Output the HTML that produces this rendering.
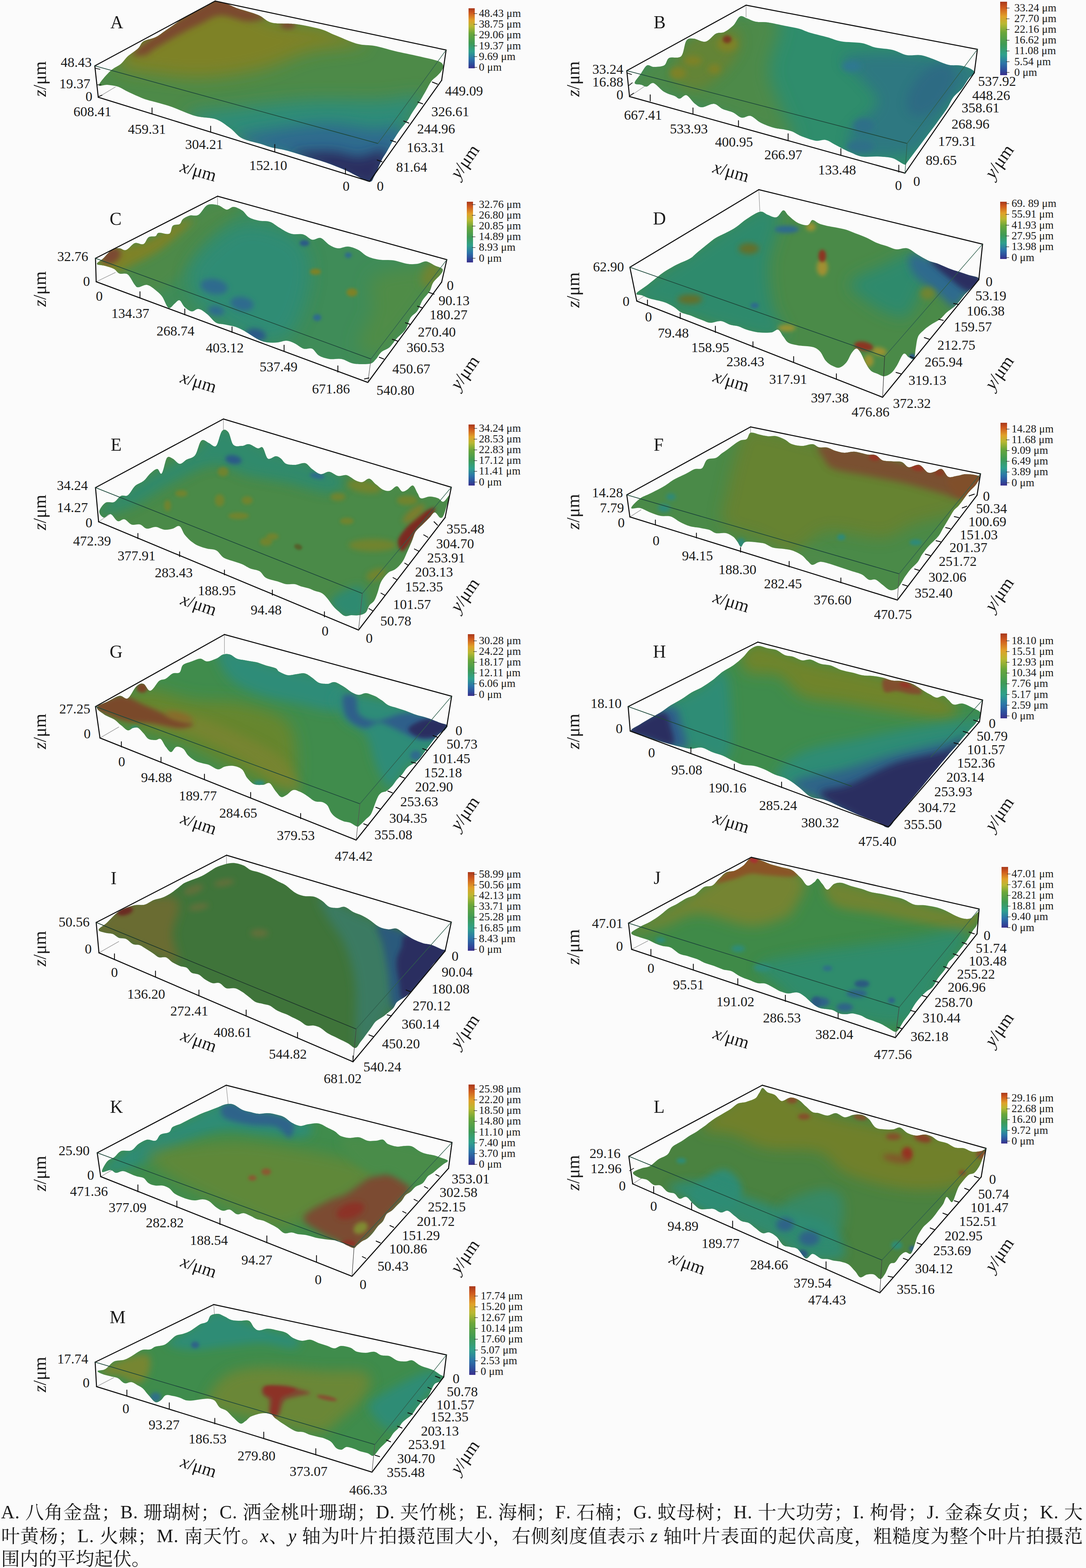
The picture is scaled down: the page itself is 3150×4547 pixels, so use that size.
<!DOCTYPE html>
<html><head><meta charset="utf-8"><title>Figure</title>
<style>html,body{margin:0;padding:0;background:#fbfbfb;}body{width:3150px;height:4547px;overflow:hidden;}svg{display:block;font-family:"Liberation Serif",serif;fill:#1a1a1a;} .it{font-style:italic;}</style></head><body>
<svg width="3150" height="4547" viewBox="0 0 3150 4547">
<defs>
<filter id="b3" x="-50%" y="-50%" width="200%" height="200%"><feGaussianBlur stdDeviation="3"/></filter>
<filter id="b4" x="-50%" y="-50%" width="200%" height="200%"><feGaussianBlur stdDeviation="4"/></filter>
<filter id="b5" x="-50%" y="-50%" width="200%" height="200%"><feGaussianBlur stdDeviation="5"/></filter>
<filter id="b6" x="-50%" y="-50%" width="200%" height="200%"><feGaussianBlur stdDeviation="6"/></filter>
<filter id="b7" x="-50%" y="-50%" width="200%" height="200%"><feGaussianBlur stdDeviation="7"/></filter>
<filter id="b8" x="-50%" y="-50%" width="200%" height="200%"><feGaussianBlur stdDeviation="8"/></filter>
<filter id="b9" x="-50%" y="-50%" width="200%" height="200%"><feGaussianBlur stdDeviation="9"/></filter>
<filter id="b10" x="-50%" y="-50%" width="200%" height="200%"><feGaussianBlur stdDeviation="10"/></filter>
<filter id="b12" x="-50%" y="-50%" width="200%" height="200%"><feGaussianBlur stdDeviation="12"/></filter>
<filter id="b14" x="-50%" y="-50%" width="200%" height="200%"><feGaussianBlur stdDeviation="14"/></filter>
<filter id="b16" x="-50%" y="-50%" width="200%" height="200%"><feGaussianBlur stdDeviation="16"/></filter>
<filter id="b18" x="-50%" y="-50%" width="200%" height="200%"><feGaussianBlur stdDeviation="18"/></filter>
<filter id="b20" x="-50%" y="-50%" width="200%" height="200%"><feGaussianBlur stdDeviation="20"/></filter>
<filter id="b22" x="-50%" y="-50%" width="200%" height="200%"><feGaussianBlur stdDeviation="22"/></filter>
<filter id="b24" x="-50%" y="-50%" width="200%" height="200%"><feGaussianBlur stdDeviation="24"/></filter>
<linearGradient id="cb" x1="0" y1="0" x2="0" y2="1"><stop offset="0" stop-color="#a8381c"/><stop offset="0.08" stop-color="#cf5a1e"/><stop offset="0.2" stop-color="#e0a12a"/><stop offset="0.3" stop-color="#b9b832"/><stop offset="0.42" stop-color="#6aa63a"/><stop offset="0.58" stop-color="#3f9a55"/><stop offset="0.72" stop-color="#2fa08c"/><stop offset="0.84" stop-color="#2c74a8"/><stop offset="0.94" stop-color="#2f4a9a"/><stop offset="1" stop-color="#3a2f8c"/></linearGradient>
</defs>
<rect width="3150" height="4547" fill="#fbfbfb"/>
<g id="pA">
<line x1="285" y1="282" x2="335" y2="252" stroke="#999" stroke-width="1.5"/>
<clipPath id="cA"><path d="M287 246C289 239 310 215 321 205C332 195 343 192 351 185C359 178 363 170 371 163C379 156 394 147 401 140C408 133 408 125 416 120C424 115 440 113 451 108C462 103 469 96 481 88C493 80 511 67 521 60C531 53 532 52 539 48C546 44 556 40 566 35C576 30 586 25 596 20C606 15 613 4 624 3C635 2 649 8 660 12C671 16 676 20 691 25C706 30 734 37 750 44C766 51 771 62 789 66C807 70 836 67 859 70C882 73 909 79 928 84C947 89 954 95 972 102C990 109 1017 122 1036 127C1055 132 1068 130 1086 133C1104 136 1124 143 1145 148C1166 153 1193 158 1214 163C1235 168 1261 173 1273 178C1285 183 1285 188 1286 192C1287 196 1284 200 1281 205C1278 210 1273 215 1268 220C1263 225 1257 228 1251 236C1245 244 1237 261 1231 271C1225 281 1222 287 1216 296C1210 305 1202 317 1196 326C1190 335 1187 343 1181 351C1175 359 1168 367 1161 376C1154 385 1148 395 1141 406C1134 417 1127 431 1121 441C1115 451 1112 454 1106 466C1100 478 1092 500 1086 510C1080 520 1081 527 1072 527C1063 527 1043 514 1031 508C1019 502 1015 499 1001 493C987 487 965 478 945 471C925 464 899 457 880 451C861 445 845 440 830 436C815 432 803 431 790 428C777 425 767 420 752 416C737 412 716 408 702 401C688 394 680 380 667 371C654 362 644 352 627 346C610 340 587 342 566 336C545 330 520 318 501 311C482 304 465 300 451 296C437 292 429 291 416 286C403 281 384 272 371 266C358 260 351 254 341 251C331 248 320 247 311 246C302 245 285 253 287 246Z"/></clipPath>
<path d="M287 246C289 239 310 215 321 205C332 195 343 192 351 185C359 178 363 170 371 163C379 156 394 147 401 140C408 133 408 125 416 120C424 115 440 113 451 108C462 103 469 96 481 88C493 80 511 67 521 60C531 53 532 52 539 48C546 44 556 40 566 35C576 30 586 25 596 20C606 15 613 4 624 3C635 2 649 8 660 12C671 16 676 20 691 25C706 30 734 37 750 44C766 51 771 62 789 66C807 70 836 67 859 70C882 73 909 79 928 84C947 89 954 95 972 102C990 109 1017 122 1036 127C1055 132 1068 130 1086 133C1104 136 1124 143 1145 148C1166 153 1193 158 1214 163C1235 168 1261 173 1273 178C1285 183 1285 188 1286 192C1287 196 1284 200 1281 205C1278 210 1273 215 1268 220C1263 225 1257 228 1251 236C1245 244 1237 261 1231 271C1225 281 1222 287 1216 296C1210 305 1202 317 1196 326C1190 335 1187 343 1181 351C1175 359 1168 367 1161 376C1154 385 1148 395 1141 406C1134 417 1127 431 1121 441C1115 451 1112 454 1106 466C1100 478 1092 500 1086 510C1080 520 1081 527 1072 527C1063 527 1043 514 1031 508C1019 502 1015 499 1001 493C987 487 965 478 945 471C925 464 899 457 880 451C861 445 845 440 830 436C815 432 803 431 790 428C777 425 767 420 752 416C737 412 716 408 702 401C688 394 680 380 667 371C654 362 644 352 627 346C610 340 587 342 566 336C545 330 520 318 501 311C482 304 465 300 451 296C437 292 429 291 416 286C403 281 384 272 371 266C358 260 351 254 341 251C331 248 320 247 311 246C302 245 285 253 287 246Z" fill="#4d8a48"/>
<g clip-path="url(#cA)">
<path d="M340 190C335 172 373 142 420 110C467 78 561 8 624 0C687 -8 747 47 800 60C853 73 897 69 940 80C983 91 1067 113 1060 125C1053 137 950 138 900 150C850 162 810 188 760 200C710 212 652 222 600 225C548 228 493 221 450 215C407 209 345 208 340 190Z" fill="#7e8228" filter="url(#b24)"/>
<path d="M398 142C432 114 574 15 624 -5C674 -25 676 11 700 20C724 29 767 41 770 48C773 55 742 62 720 62C698 62 663 44 640 45C617 46 600 61 580 70C560 79 542 88 520 100C498 112 467 130 450 140C433 150 429 160 420 160C411 160 364 170 398 142Z" fill="#7c4a2e" filter="url(#b9)"/>
<ellipse cx="835" cy="72" rx="22" ry="12" transform="rotate(0 835 72)" fill="#7c4a30" filter="url(#b8)"/>
<path d="M540 335C540 318 640 318 700 310C760 302 833 293 900 290C967 287 1045 292 1100 290C1155 288 1217 268 1230 280C1243 292 1205 318 1180 360C1155 402 1160 522 1080 530C1000 538 790 442 700 410C610 378 540 352 540 335Z" fill="#2e8c78" filter="url(#b24)"/>
<path d="M690 405C673 389 757 382 800 375C843 368 903 360 950 360C997 360 1043 372 1080 375C1117 378 1170 352 1170 380C1170 408 1125 525 1080 540C1035 555 965 492 900 470C835 448 707 421 690 405Z" fill="#2f6a8e" filter="url(#b20)"/>
<path d="M850 450C847 440 928 439 960 440C992 441 1013 455 1040 455C1067 455 1113 426 1120 440C1127 454 1103 530 1080 540C1057 550 1018 515 980 500C942 485 853 460 850 450Z" fill="#2b2f60" filter="url(#b16)"/>
</g>
<line x1="275" y1="191" x2="624" y2="3" stroke="#111" stroke-width="3" stroke-linecap="round"/>
<line x1="624" y1="3" x2="1294" y2="145" stroke="#111" stroke-width="3" stroke-linecap="round"/>
<line x1="1294" y1="145" x2="1281" y2="233" stroke="#111" stroke-width="3" stroke-linecap="round"/>
<line x1="1281" y1="233" x2="1072" y2="526" stroke="#111" stroke-width="3" stroke-linecap="round"/>
<line x1="1072" y1="526" x2="285" y2="282" stroke="#111" stroke-width="3" stroke-linecap="round"/>
<line x1="285" y1="282" x2="275" y2="191" stroke="#111" stroke-width="3" stroke-linecap="round"/>
<line x1="275" y1="191" x2="1096" y2="416" stroke="#1f4a3c" stroke-width="2" stroke-linecap="round"/>
<line x1="1096" y1="416" x2="1294" y2="145" stroke="#2f5f4c" stroke-width="1.6" stroke-linecap="round"/>
<line x1="441" y1="313" x2="441" y2="329" stroke="#111" stroke-width="2.5" stroke-linecap="round"/>
<line x1="611" y1="366" x2="611" y2="383" stroke="#111" stroke-width="2.5" stroke-linecap="round"/>
<line x1="797" y1="419" x2="797" y2="439" stroke="#111" stroke-width="2.5" stroke-linecap="round"/>
<line x1="1002" y1="489" x2="1002" y2="505" stroke="#111" stroke-width="2.5" stroke-linecap="round"/>
<line x1="1269" y1="244" x2="1254" y2="238" stroke="#111" stroke-width="2.5" stroke-linecap="round"/>
<line x1="1226" y1="301" x2="1212" y2="296" stroke="#111" stroke-width="2.5" stroke-linecap="round"/>
<line x1="1186" y1="357" x2="1171" y2="351" stroke="#111" stroke-width="2.5" stroke-linecap="round"/>
<line x1="1148" y1="412" x2="1133" y2="407" stroke="#111" stroke-width="2.5" stroke-linecap="round"/>
<line x1="1108" y1="469" x2="1094" y2="464" stroke="#111" stroke-width="2.5" stroke-linecap="round"/>
<line x1="277" y1="198" x2="290" y2="201" stroke="#111" stroke-width="2" stroke-linecap="round"/>
<line x1="283" y1="246" x2="293" y2="246" stroke="#111" stroke-width="2" stroke-linecap="round"/>
<line x1="286" y1="280" x2="296" y2="276" stroke="#111" stroke-width="2" stroke-linecap="round"/>
<text x="320" y="82" font-size="52" text-anchor="start">A</text>
<text x="266" y="194" font-size="40" text-anchor="end">48.43</text>
<text x="262" y="256" font-size="40" text-anchor="end">19.37</text>
<text x="268" y="293" font-size="40" text-anchor="end">0</text>
<text x="213" y="337" font-size="40" text-anchor="start">608.41</text>
<text x="371" y="388" font-size="40" text-anchor="start">459.31</text>
<text x="537" y="432" font-size="40" text-anchor="start">304.21</text>
<text x="723" y="493" font-size="40" text-anchor="start">152.10</text>
<text x="994" y="553" font-size="40" text-anchor="start">0</text>
<text x="1093" y="553" font-size="40" text-anchor="start">0</text>
<text x="1149" y="498" font-size="40" text-anchor="start">81.64</text>
<text x="1180" y="441" font-size="40" text-anchor="start">163.31</text>
<text x="1210" y="387" font-size="40" text-anchor="start">244.96</text>
<text x="1251" y="337" font-size="40" text-anchor="start">326.61</text>
<text x="1291" y="277" font-size="40" text-anchor="start">449.09</text>
<text x="133" y="229" font-size="52" text-anchor="middle" transform="rotate(-90 133 229)"><tspan class="it">z</tspan>/μm</text>
<text x="571" y="512" font-size="52" text-anchor="middle" transform="rotate(16 571 512)"><tspan class="it">x</tspan>/μm</text>
<text x="1362" y="478" font-size="52" text-anchor="middle" transform="rotate(-55 1362 478)"><tspan class="it">y</tspan>/μm</text>
<rect x="1359" y="24" width="18" height="174" fill="url(#cb)"/>
<line x1="1374" y1="39.4" x2="1384" y2="39.4" stroke="#333" stroke-width="1.5"/>
<text x="1389" y="49.0" font-size="32">48.43 μm</text>
<line x1="1374" y1="70.6" x2="1384" y2="70.6" stroke="#333" stroke-width="1.5"/>
<text x="1389" y="80.2" font-size="32">38.75 μm</text>
<line x1="1374" y1="101.8" x2="1384" y2="101.8" stroke="#333" stroke-width="1.5"/>
<text x="1389" y="111.4" font-size="32">29.06 μm</text>
<line x1="1374" y1="133.0" x2="1384" y2="133.0" stroke="#333" stroke-width="1.5"/>
<text x="1389" y="142.6" font-size="32">19.37 μm</text>
<line x1="1374" y1="164.2" x2="1384" y2="164.2" stroke="#333" stroke-width="1.5"/>
<text x="1389" y="173.8" font-size="32">9.69 μm</text>
<line x1="1374" y1="195.4" x2="1384" y2="195.4" stroke="#333" stroke-width="1.5"/>
<text x="1389" y="205.0" font-size="32">0 μm</text>
</g>
<g id="pB">
<line x1="1826" y1="280" x2="1870" y2="250" stroke="#999" stroke-width="1.5"/>
<line x1="2164" y1="15" x2="2164" y2="50" stroke="#999" stroke-width="1.5"/>
<clipPath id="cB"><path d="M1841 241C1840 236 1852 224 1858 215C1864 206 1870 194 1876 190C1882 186 1888 194 1896 194C1904 194 1918 194 1926 190C1934 186 1933 172 1941 168C1949 164 1968 171 1976 163C1984 155 1985 126 1991 118C1997 110 2002 112 2011 112C2020 112 2035 123 2046 121C2057 119 2067 103 2076 98C2085 93 2093 97 2101 93C2109 89 2118 82 2126 75C2134 68 2139 52 2146 48C2153 44 2158 50 2166 53C2174 56 2182 61 2192 63C2202 65 2213 63 2227 65C2241 67 2262 72 2277 75C2292 78 2305 80 2317 83C2329 86 2336 91 2350 95C2364 99 2385 104 2400 108C2415 112 2423 117 2440 120C2457 123 2483 122 2500 125C2517 128 2525 135 2540 138C2555 141 2575 141 2590 145C2605 149 2618 158 2631 160C2644 162 2658 158 2671 160C2684 162 2698 168 2711 173C2724 178 2738 185 2751 188C2764 191 2775 188 2786 190C2797 192 2809 196 2816 200C2823 204 2828 208 2827 212C2826 216 2817 219 2811 226C2805 233 2798 247 2791 256C2784 265 2774 271 2766 281C2758 291 2754 304 2746 316C2738 328 2730 338 2721 351C2712 364 2701 378 2691 391C2681 404 2671 418 2661 431C2651 444 2637 463 2631 471C2625 479 2630 479 2623 477C2616 475 2602 463 2590 459C2578 455 2565 455 2550 454C2535 453 2514 456 2500 454C2486 452 2478 446 2465 441C2452 436 2437 427 2425 421C2413 415 2405 408 2395 406C2385 404 2376 410 2365 408C2354 406 2338 400 2327 396C2316 392 2305 384 2297 381C2289 378 2285 378 2277 376C2269 374 2259 374 2247 371C2235 368 2219 362 2207 356C2195 350 2186 338 2177 336C2168 334 2160 343 2151 341C2142 339 2135 330 2126 326C2117 322 2105 320 2096 316C2087 312 2081 302 2071 301C2061 300 2045 311 2036 311C2027 311 2024 307 2016 301C2008 295 1998 278 1991 276C1984 274 1977 286 1971 286C1965 286 1964 281 1956 278C1948 275 1936 272 1926 266C1916 260 1904 244 1896 241C1888 238 1882 250 1876 251C1870 252 1867 248 1861 246C1855 244 1842 246 1841 241Z"/></clipPath>
<path d="M1841 241C1840 236 1852 224 1858 215C1864 206 1870 194 1876 190C1882 186 1888 194 1896 194C1904 194 1918 194 1926 190C1934 186 1933 172 1941 168C1949 164 1968 171 1976 163C1984 155 1985 126 1991 118C1997 110 2002 112 2011 112C2020 112 2035 123 2046 121C2057 119 2067 103 2076 98C2085 93 2093 97 2101 93C2109 89 2118 82 2126 75C2134 68 2139 52 2146 48C2153 44 2158 50 2166 53C2174 56 2182 61 2192 63C2202 65 2213 63 2227 65C2241 67 2262 72 2277 75C2292 78 2305 80 2317 83C2329 86 2336 91 2350 95C2364 99 2385 104 2400 108C2415 112 2423 117 2440 120C2457 123 2483 122 2500 125C2517 128 2525 135 2540 138C2555 141 2575 141 2590 145C2605 149 2618 158 2631 160C2644 162 2658 158 2671 160C2684 162 2698 168 2711 173C2724 178 2738 185 2751 188C2764 191 2775 188 2786 190C2797 192 2809 196 2816 200C2823 204 2828 208 2827 212C2826 216 2817 219 2811 226C2805 233 2798 247 2791 256C2784 265 2774 271 2766 281C2758 291 2754 304 2746 316C2738 328 2730 338 2721 351C2712 364 2701 378 2691 391C2681 404 2671 418 2661 431C2651 444 2637 463 2631 471C2625 479 2630 479 2623 477C2616 475 2602 463 2590 459C2578 455 2565 455 2550 454C2535 453 2514 456 2500 454C2486 452 2478 446 2465 441C2452 436 2437 427 2425 421C2413 415 2405 408 2395 406C2385 404 2376 410 2365 408C2354 406 2338 400 2327 396C2316 392 2305 384 2297 381C2289 378 2285 378 2277 376C2269 374 2259 374 2247 371C2235 368 2219 362 2207 356C2195 350 2186 338 2177 336C2168 334 2160 343 2151 341C2142 339 2135 330 2126 326C2117 322 2105 320 2096 316C2087 312 2081 302 2071 301C2061 300 2045 311 2036 311C2027 311 2024 307 2016 301C2008 295 1998 278 1991 276C1984 274 1977 286 1971 286C1965 286 1964 281 1956 278C1948 275 1936 272 1926 266C1916 260 1904 244 1896 241C1888 238 1882 250 1876 251C1870 252 1867 248 1861 246C1855 244 1842 246 1841 241Z" fill="#2f8d6c"/>
<g clip-path="url(#cB)">
<path d="M1800 250C1815 220 1932 137 1990 100C2048 63 2105 37 2150 30C2195 23 2247 32 2260 60C2273 88 2230 160 2230 200C2230 240 2248 263 2260 300C2272 337 2327 413 2300 420C2273 427 2167 363 2100 340C2033 317 1950 295 1900 280C1850 265 1785 280 1800 250Z" fill="#4d8a48" filter="url(#b24)"/>
<path d="M1960 220C1956 197 1968 143 1995 120C2022 97 2094 78 2120 80C2146 82 2153 108 2150 130C2147 152 2122 188 2100 210C2078 232 2043 258 2020 260C1997 262 1964 243 1960 220Z" fill="#6a8232" filter="url(#b16)" opacity="0.8"/>
<ellipse cx="2109" cy="128" rx="30" ry="22" transform="rotate(0 2109 128)" fill="#7e8228" filter="url(#b8)"/>
<ellipse cx="1966" cy="212" rx="24" ry="18" transform="rotate(0 1966 212)" fill="#7e8228" filter="url(#b8)"/>
<ellipse cx="2010" cy="176" rx="26" ry="14" transform="rotate(0 2010 176)" fill="#7e8228" filter="url(#b8)"/>
<ellipse cx="2072" cy="200" rx="18" ry="14" transform="rotate(0 2072 200)" fill="#7e8228" filter="url(#b8)"/>
<ellipse cx="2109" cy="114" rx="13" ry="11" transform="rotate(0 2109 114)" fill="#7a3a22" filter="url(#b4)"/>
<path d="M2450 165C2475 153 2586 153 2650 160C2714 167 2817 182 2835 205C2853 228 2782 269 2760 300C2738 331 2720 366 2700 390C2680 414 2675 436 2640 445C2605 454 2519 455 2490 445C2461 435 2456 409 2465 385C2474 361 2539 326 2545 300C2551 274 2516 252 2500 230C2484 208 2425 177 2450 165Z" fill="#2f6f8a" filter="url(#b18)" opacity="0.7"/>
<ellipse cx="2700" cy="260" rx="90" ry="50" transform="rotate(-50 2700 260)" fill="#2d6486" filter="url(#b14)" opacity="0.6"/>
<ellipse cx="2470" cy="192" rx="28" ry="16" transform="rotate(0 2470 192)" fill="#2f7890" filter="url(#b8)"/>
<ellipse cx="2505" cy="365" rx="30" ry="22" transform="rotate(0 2505 365)" fill="#2f7088" filter="url(#b8)"/>
<ellipse cx="2495" cy="425" rx="40" ry="18" transform="rotate(0 2495 425)" fill="#2f7088" filter="url(#b8)"/>
</g>
<line x1="1818" y1="205" x2="2164" y2="15" stroke="#111" stroke-width="3" stroke-linecap="round"/>
<line x1="2164" y1="15" x2="2835" y2="143" stroke="#111" stroke-width="3" stroke-linecap="round"/>
<line x1="2835" y1="143" x2="2826" y2="211" stroke="#111" stroke-width="3" stroke-linecap="round"/>
<line x1="2826" y1="211" x2="2625" y2="502" stroke="#111" stroke-width="3" stroke-linecap="round"/>
<line x1="2625" y1="502" x2="1826" y2="280" stroke="#111" stroke-width="3" stroke-linecap="round"/>
<line x1="1826" y1="280" x2="1818" y2="205" stroke="#111" stroke-width="3" stroke-linecap="round"/>
<line x1="1818" y1="205" x2="2631" y2="416" stroke="#1f4a3c" stroke-width="2" stroke-linecap="round"/>
<line x1="2631" y1="416" x2="2835" y2="143" stroke="#2f5f4c" stroke-width="1.6" stroke-linecap="round"/>
<line x1="2631" y1="416" x2="2625" y2="502" stroke="#2f5f4c" stroke-width="1.6" stroke-linecap="round"/>
<line x1="1886" y1="275" x2="1886" y2="293" stroke="#111" stroke-width="2.5" stroke-linecap="round"/>
<line x1="2010" y1="313" x2="2010" y2="331" stroke="#111" stroke-width="2.5" stroke-linecap="round"/>
<line x1="2142" y1="350" x2="2142" y2="368" stroke="#111" stroke-width="2.5" stroke-linecap="round"/>
<line x1="2286" y1="388" x2="2286" y2="408" stroke="#111" stroke-width="2.5" stroke-linecap="round"/>
<line x1="2439" y1="431" x2="2439" y2="451" stroke="#111" stroke-width="2.5" stroke-linecap="round"/>
<line x1="2607" y1="479" x2="2607" y2="499" stroke="#111" stroke-width="2.5" stroke-linecap="round"/>
<line x1="1820" y1="212" x2="1832" y2="216" stroke="#111" stroke-width="2" stroke-linecap="round"/>
<line x1="1824" y1="248" x2="1834" y2="240" stroke="#111" stroke-width="2" stroke-linecap="round"/>
<line x1="1826" y1="278" x2="1838" y2="270" stroke="#111" stroke-width="2" stroke-linecap="round"/>
<text x="1896" y="82" font-size="52" text-anchor="start">B</text>
<text x="1808" y="214" font-size="40" text-anchor="end">33.24</text>
<text x="1808" y="251" font-size="40" text-anchor="end">16.88</text>
<text x="1808" y="288" font-size="40" text-anchor="end">0</text>
<text x="1810" y="347" font-size="40" text-anchor="start">667.41</text>
<text x="1943" y="387" font-size="40" text-anchor="start">533.93</text>
<text x="2074" y="425" font-size="40" text-anchor="start">400.95</text>
<text x="2217" y="462" font-size="40" text-anchor="start">266.97</text>
<text x="2373" y="506" font-size="40" text-anchor="start">133.48</text>
<text x="2596" y="551" font-size="40" text-anchor="start">0</text>
<text x="2649" y="539" font-size="40" text-anchor="start">0</text>
<text x="2685" y="478" font-size="40" text-anchor="start">89.65</text>
<text x="2721" y="423" font-size="40" text-anchor="start">179.31</text>
<text x="2760" y="373" font-size="40" text-anchor="start">268.96</text>
<text x="2789" y="326" font-size="40" text-anchor="start">358.61</text>
<text x="2820" y="290" font-size="40" text-anchor="start">448.26</text>
<text x="2837" y="249" font-size="40" text-anchor="start">537.92</text>
<text x="1680" y="229" font-size="52" text-anchor="middle" transform="rotate(-90 1680 229)"><tspan class="it">z</tspan>/μm</text>
<text x="2116" y="514" font-size="52" text-anchor="middle" transform="rotate(16 2116 514)"><tspan class="it">x</tspan>/μm</text>
<text x="2912" y="478" font-size="52" text-anchor="middle" transform="rotate(-55 2912 478)"><tspan class="it">y</tspan>/μm</text>
<rect x="2901" y="5" width="20" height="213" fill="url(#cb)"/>
<line x1="2918" y1="23.4" x2="2928" y2="23.4" stroke="#333" stroke-width="1.5"/>
<text x="2942" y="33.0" font-size="32">33.24 μm</text>
<line x1="2918" y1="54.5" x2="2928" y2="54.5" stroke="#333" stroke-width="1.5"/>
<text x="2942" y="64.1" font-size="32">27.70 μm</text>
<line x1="2918" y1="85.6" x2="2928" y2="85.6" stroke="#333" stroke-width="1.5"/>
<text x="2942" y="95.2" font-size="32">22.16 μm</text>
<line x1="2918" y1="116.7" x2="2928" y2="116.7" stroke="#333" stroke-width="1.5"/>
<text x="2942" y="126.3" font-size="32">16.62 μm</text>
<line x1="2918" y1="147.8" x2="2928" y2="147.8" stroke="#333" stroke-width="1.5"/>
<text x="2942" y="157.4" font-size="32">11.08 μm</text>
<line x1="2918" y1="178.9" x2="2928" y2="178.9" stroke="#333" stroke-width="1.5"/>
<text x="2942" y="188.5" font-size="32">5.54 μm</text>
<line x1="2918" y1="210.0" x2="2928" y2="210.0" stroke="#333" stroke-width="1.5"/>
<text x="2942" y="219.6" font-size="32">0 μm</text>
</g>
<g id="pC">
<line x1="279" y1="817" x2="335" y2="790" stroke="#999" stroke-width="1.5"/>
<line x1="631" y1="569" x2="631" y2="600" stroke="#999" stroke-width="1.5"/>
<clipPath id="cC"><path d="M281 765C281 761 294 755 301 748C308 741 318 728 326 723C334 718 339 720 346 720C353 720 358 728 366 725C374 722 383 708 391 705C399 702 409 711 416 708C423 705 425 692 431 688C437 684 446 687 451 685C456 683 454 676 461 675C468 674 484 681 491 678C498 675 496 660 501 655C506 650 516 653 521 650C526 647 526 639 531 635C536 631 544 627 551 625C558 623 568 628 576 623C584 618 592 600 601 595C610 590 623 593 632 595C641 597 650 607 657 608C664 609 670 600 677 600C684 600 694 605 702 610C710 615 714 625 722 630C730 635 742 638 752 640C762 642 772 640 782 643C792 646 800 654 810 660C820 666 833 675 845 678C857 681 870 677 880 680C890 683 897 693 905 695C913 697 922 688 930 690C938 692 947 705 955 710C963 715 971 719 980 720C989 721 1000 714 1010 715C1020 716 1031 720 1040 725C1049 730 1055 738 1065 743C1075 748 1087 751 1100 753C1113 755 1128 753 1141 755C1154 757 1169 763 1181 765C1193 767 1202 766 1211 765C1220 764 1228 757 1236 758C1244 759 1253 766 1261 770C1269 774 1282 776 1284 781C1286 786 1281 792 1276 798C1271 804 1261 812 1256 820C1251 828 1251 837 1246 845C1241 853 1232 861 1226 870C1220 879 1217 892 1211 901C1205 910 1197 912 1191 921C1185 930 1183 946 1176 956C1169 966 1158 973 1151 981C1144 989 1138 999 1131 1006C1124 1013 1113 1015 1106 1021C1099 1027 1096 1036 1091 1041C1086 1046 1083 1052 1076 1054C1069 1056 1059 1056 1050 1056C1041 1056 1030 1056 1020 1053C1010 1050 1001 1043 990 1041C979 1039 966 1043 955 1041C944 1039 933 1036 925 1031C917 1026 912 1014 905 1011C898 1008 888 1014 880 1011C872 1008 863 1000 855 996C847 992 838 988 830 988C822 988 814 992 805 993C796 994 786 994 777 993C768 992 760 990 752 986C744 982 735 976 727 971C719 966 710 960 702 956C694 952 685 948 677 946C669 944 660 943 652 941C644 939 636 941 627 936C618 931 610 918 601 911C592 904 584 897 576 896C568 895 563 904 556 903C549 902 542 896 536 891C530 886 526 873 521 871C516 869 511 877 506 881C501 885 495 896 489 893C483 890 477 870 471 861C465 852 458 847 451 841C444 835 434 827 426 826C418 825 407 833 401 833C395 833 396 832 391 826C386 820 378 802 371 796C364 790 353 796 346 793C339 790 338 784 331 780C324 776 309 772 301 770C293 768 281 769 281 765Z"/></clipPath>
<path d="M281 765C281 761 294 755 301 748C308 741 318 728 326 723C334 718 339 720 346 720C353 720 358 728 366 725C374 722 383 708 391 705C399 702 409 711 416 708C423 705 425 692 431 688C437 684 446 687 451 685C456 683 454 676 461 675C468 674 484 681 491 678C498 675 496 660 501 655C506 650 516 653 521 650C526 647 526 639 531 635C536 631 544 627 551 625C558 623 568 628 576 623C584 618 592 600 601 595C610 590 623 593 632 595C641 597 650 607 657 608C664 609 670 600 677 600C684 600 694 605 702 610C710 615 714 625 722 630C730 635 742 638 752 640C762 642 772 640 782 643C792 646 800 654 810 660C820 666 833 675 845 678C857 681 870 677 880 680C890 683 897 693 905 695C913 697 922 688 930 690C938 692 947 705 955 710C963 715 971 719 980 720C989 721 1000 714 1010 715C1020 716 1031 720 1040 725C1049 730 1055 738 1065 743C1075 748 1087 751 1100 753C1113 755 1128 753 1141 755C1154 757 1169 763 1181 765C1193 767 1202 766 1211 765C1220 764 1228 757 1236 758C1244 759 1253 766 1261 770C1269 774 1282 776 1284 781C1286 786 1281 792 1276 798C1271 804 1261 812 1256 820C1251 828 1251 837 1246 845C1241 853 1232 861 1226 870C1220 879 1217 892 1211 901C1205 910 1197 912 1191 921C1185 930 1183 946 1176 956C1169 966 1158 973 1151 981C1144 989 1138 999 1131 1006C1124 1013 1113 1015 1106 1021C1099 1027 1096 1036 1091 1041C1086 1046 1083 1052 1076 1054C1069 1056 1059 1056 1050 1056C1041 1056 1030 1056 1020 1053C1010 1050 1001 1043 990 1041C979 1039 966 1043 955 1041C944 1039 933 1036 925 1031C917 1026 912 1014 905 1011C898 1008 888 1014 880 1011C872 1008 863 1000 855 996C847 992 838 988 830 988C822 988 814 992 805 993C796 994 786 994 777 993C768 992 760 990 752 986C744 982 735 976 727 971C719 966 710 960 702 956C694 952 685 948 677 946C669 944 660 943 652 941C644 939 636 941 627 936C618 931 610 918 601 911C592 904 584 897 576 896C568 895 563 904 556 903C549 902 542 896 536 891C530 886 526 873 521 871C516 869 511 877 506 881C501 885 495 896 489 893C483 890 477 870 471 861C465 852 458 847 451 841C444 835 434 827 426 826C418 825 407 833 401 833C395 833 396 832 391 826C386 820 378 802 371 796C364 790 353 796 346 793C339 790 338 784 331 780C324 776 309 772 301 770C293 768 281 769 281 765Z" fill="#3f8c58"/>
<g clip-path="url(#cC)">
<path d="M270 770C265 756 295 732 330 715C365 698 432 692 480 670C528 648 583 597 620 585C657 573 703 581 700 600C697 619 630 667 600 700C570 733 547 775 520 800C493 825 467 850 440 850C413 850 388 813 360 800C332 787 275 784 270 770Z" fill="#4d8a48" filter="url(#b16)"/>
<path d="M280 768C280 756 307 731 330 720C353 709 388 712 420 700C452 688 497 655 520 645C543 635 568 628 560 640C552 652 500 698 470 720C440 742 403 758 380 770C357 782 347 790 330 790C313 790 280 780 280 768Z" fill="#7e8228" filter="url(#b12)"/>
<ellipse cx="322" cy="742" rx="30" ry="22" transform="rotate(-30 322 742)" fill="#7c4a30" filter="url(#b8)"/>
<path d="M560 760C583 725 650 662 700 650C750 638 827 665 860 690C893 715 902 755 900 800C898 845 873 928 850 960C827 992 795 995 760 990C725 985 673 952 640 930C607 908 573 888 560 860C547 832 537 795 560 760Z" fill="#2e8c78" filter="url(#b24)" opacity="0.9"/>
<ellipse cx="621" cy="831" rx="40" ry="22" transform="rotate(10 621 831)" fill="#2f6a8e" filter="url(#b8)"/>
<ellipse cx="702" cy="881" rx="34" ry="20" transform="rotate(10 702 881)" fill="#2f6a8e" filter="url(#b8)"/>
<ellipse cx="742" cy="971" rx="30" ry="18" transform="rotate(10 742 971)" fill="#2b5a88" filter="url(#b8)"/>
<ellipse cx="627" cy="901" rx="24" ry="14" transform="rotate(10 627 901)" fill="#2f6a8e" filter="url(#b8)"/>
<ellipse cx="883" cy="705" rx="14" ry="9" transform="rotate(0 883 705)" fill="#2b5a88" filter="url(#b4)"/>
<ellipse cx="1010" cy="740" rx="10" ry="8" transform="rotate(0 1010 740)" fill="#2f6a8e" filter="url(#b4)"/>
<ellipse cx="920" cy="921" rx="12" ry="10" transform="rotate(0 920 921)" fill="#2f6a8e" filter="url(#b4)"/>
<ellipse cx="915" cy="788" rx="16" ry="9" transform="rotate(0 915 788)" fill="#7e8228" filter="url(#b4)"/>
<ellipse cx="1021" cy="848" rx="16" ry="12" transform="rotate(0 1021 848)" fill="#7e8228" filter="url(#b4)"/>
<path d="M1090 800C1125 779 1263 768 1290 775C1317 782 1268 812 1250 840C1232 868 1205 908 1180 940C1155 972 1123 1020 1100 1030C1077 1040 1043 1022 1040 1000C1037 978 1072 933 1080 900C1088 867 1055 821 1090 800Z" fill="#4f8c46" filter="url(#b24)"/>
<ellipse cx="1250" cy="795" rx="24" ry="40" transform="rotate(30 1250 795)" fill="#6f8430" filter="url(#b12)"/>
</g>
<line x1="277" y1="749" x2="631" y2="569" stroke="#111" stroke-width="3" stroke-linecap="round"/>
<line x1="631" y1="569" x2="1296" y2="753" stroke="#111" stroke-width="3" stroke-linecap="round"/>
<line x1="1296" y1="753" x2="1281" y2="818" stroke="#111" stroke-width="3" stroke-linecap="round"/>
<line x1="1281" y1="818" x2="1067" y2="1109" stroke="#111" stroke-width="3" stroke-linecap="round"/>
<line x1="1067" y1="1109" x2="279" y2="817" stroke="#111" stroke-width="3" stroke-linecap="round"/>
<line x1="279" y1="817" x2="277" y2="749" stroke="#111" stroke-width="3" stroke-linecap="round"/>
<line x1="277" y1="749" x2="1076" y2="1041" stroke="#1f4a3c" stroke-width="2" stroke-linecap="round"/>
<line x1="1076" y1="1041" x2="1296" y2="753" stroke="#2f5f4c" stroke-width="1.6" stroke-linecap="round"/>
<line x1="1076" y1="1041" x2="1067" y2="1109" stroke="#555" stroke-width="1.5" stroke-linecap="round"/>
<line x1="406" y1="846" x2="406" y2="864" stroke="#111" stroke-width="2.5" stroke-linecap="round"/>
<line x1="536" y1="896" x2="536" y2="913" stroke="#111" stroke-width="2.5" stroke-linecap="round"/>
<line x1="673" y1="948" x2="673" y2="964" stroke="#111" stroke-width="2.5" stroke-linecap="round"/>
<line x1="824" y1="1001" x2="824" y2="1019" stroke="#111" stroke-width="2.5" stroke-linecap="round"/>
<line x1="980" y1="1061" x2="980" y2="1079" stroke="#111" stroke-width="2.5" stroke-linecap="round"/>
<line x1="1259" y1="853" x2="1244" y2="848" stroke="#111" stroke-width="2.5" stroke-linecap="round"/>
<line x1="1226" y1="893" x2="1211" y2="888" stroke="#111" stroke-width="2.5" stroke-linecap="round"/>
<line x1="1191" y1="941" x2="1176" y2="936" stroke="#111" stroke-width="2.5" stroke-linecap="round"/>
<line x1="1153" y1="989" x2="1138" y2="984" stroke="#111" stroke-width="2.5" stroke-linecap="round"/>
<line x1="1113" y1="1041" x2="1100" y2="1036" stroke="#111" stroke-width="2.5" stroke-linecap="round"/>
<line x1="1070" y1="1096" x2="1057" y2="1099" stroke="#111" stroke-width="2.5" stroke-linecap="round"/>
<text x="318" y="652" font-size="52" text-anchor="start">C</text>
<text x="256" y="757" font-size="40" text-anchor="end">32.76</text>
<text x="261" y="829" font-size="40" text-anchor="end">0</text>
<text x="278" y="872" font-size="40" text-anchor="start">0</text>
<text x="323" y="922" font-size="40" text-anchor="start">134.37</text>
<text x="454" y="973" font-size="40" text-anchor="start">268.74</text>
<text x="597" y="1022" font-size="40" text-anchor="start">403.12</text>
<text x="753" y="1077" font-size="40" text-anchor="start">537.49</text>
<text x="905" y="1141" font-size="40" text-anchor="start">671.86</text>
<text x="1092" y="1145" font-size="40" text-anchor="start">540.80</text>
<text x="1138" y="1083" font-size="40" text-anchor="start">450.67</text>
<text x="1179" y="1021" font-size="40" text-anchor="start">360.53</text>
<text x="1212" y="976" font-size="40" text-anchor="start">270.40</text>
<text x="1246" y="926" font-size="40" text-anchor="start">180.27</text>
<text x="1272" y="885" font-size="40" text-anchor="start">90.13</text>
<text x="1296" y="841" font-size="40" text-anchor="start">0</text>
<text x="133" y="838" font-size="52" text-anchor="middle" transform="rotate(-90 133 838)"><tspan class="it">z</tspan>/μm</text>
<text x="571" y="1124" font-size="52" text-anchor="middle" transform="rotate(17 571 1124)"><tspan class="it">x</tspan>/μm</text>
<text x="1362" y="1090" font-size="52" text-anchor="middle" transform="rotate(-55 1362 1090)"><tspan class="it">y</tspan>/μm</text>
<rect x="1354" y="585" width="18" height="176" fill="url(#cb)"/>
<line x1="1369" y1="593.4" x2="1379" y2="593.4" stroke="#333" stroke-width="1.5"/>
<text x="1389" y="603.0" font-size="32">32.76 μm</text>
<line x1="1369" y1="624.5" x2="1379" y2="624.5" stroke="#333" stroke-width="1.5"/>
<text x="1389" y="634.1" font-size="32">26.80 μm</text>
<line x1="1369" y1="655.6" x2="1379" y2="655.6" stroke="#333" stroke-width="1.5"/>
<text x="1389" y="665.2" font-size="32">20.85 μm</text>
<line x1="1369" y1="686.7" x2="1379" y2="686.7" stroke="#333" stroke-width="1.5"/>
<text x="1389" y="696.3" font-size="32">14.89 μm</text>
<line x1="1369" y1="717.8" x2="1379" y2="717.8" stroke="#333" stroke-width="1.5"/>
<text x="1389" y="727.4" font-size="32">8.93 μm</text>
<line x1="1369" y1="748.9" x2="1379" y2="748.9" stroke="#333" stroke-width="1.5"/>
<text x="1389" y="758.5" font-size="32">0 μm</text>
</g>
<g id="pD">
<line x1="1847" y1="873" x2="1880" y2="850" stroke="#999" stroke-width="1.5"/>
<line x1="2201" y1="550" x2="2204" y2="613" stroke="#999" stroke-width="1.5"/>
<clipPath id="cD"><path d="M1846 851C1848 846 1864 837 1876 828C1888 819 1903 806 1916 796C1929 786 1942 779 1956 771C1970 763 1991 756 2001 750C2011 744 2007 746 2016 738C2025 730 2046 713 2056 705C2066 697 2068 695 2076 690C2084 685 2096 680 2106 675C2116 670 2126 665 2136 658C2146 651 2155 642 2166 635C2177 628 2194 616 2204 614C2214 612 2219 620 2227 623C2235 626 2244 632 2252 630C2260 628 2266 611 2272 610C2278 609 2280 619 2287 625C2294 631 2303 640 2312 645C2321 650 2334 654 2342 653C2350 652 2351 638 2357 638C2363 638 2370 647 2380 650C2390 653 2403 656 2415 658C2427 660 2438 662 2450 665C2462 668 2474 674 2485 678C2496 682 2506 686 2515 690C2524 694 2531 699 2540 703C2549 707 2560 710 2570 713C2580 716 2590 722 2600 723C2610 724 2621 718 2631 720C2641 722 2651 732 2661 738C2671 744 2681 750 2691 755C2701 760 2711 761 2721 765C2731 769 2741 774 2751 778C2761 782 2771 785 2781 788C2791 791 2801 795 2811 798C2821 801 2837 802 2839 808C2841 814 2827 824 2821 831C2815 838 2808 844 2801 851C2794 858 2787 869 2781 876C2775 883 2772 886 2766 891C2760 896 2753 900 2746 906C2739 912 2734 920 2726 926C2718 932 2708 936 2701 941C2694 946 2687 950 2681 956C2675 962 2667 967 2663 976C2659 985 2658 1000 2656 1011C2654 1022 2654 1037 2651 1041C2648 1045 2641 1038 2636 1036C2631 1034 2627 1022 2621 1026C2615 1030 2607 1052 2601 1061C2595 1070 2592 1076 2586 1081C2580 1086 2573 1090 2566 1091C2559 1092 2552 1087 2545 1084C2538 1081 2531 1080 2525 1074C2519 1068 2515 1060 2510 1051C2505 1042 2500 1028 2495 1021C2490 1014 2487 1010 2483 1011C2479 1012 2475 1017 2470 1024C2465 1031 2461 1044 2455 1051C2449 1058 2442 1064 2435 1066C2428 1068 2422 1064 2415 1061C2408 1058 2401 1053 2395 1046C2389 1039 2385 1027 2380 1021C2375 1015 2371 1012 2365 1009C2359 1006 2351 1005 2342 1004C2333 1003 2321 1003 2312 1001C2303 999 2294 998 2287 994C2280 990 2277 982 2272 976C2267 970 2263 958 2257 956C2251 954 2246 963 2237 964C2228 965 2214 965 2202 964C2190 963 2176 959 2166 956C2156 953 2149 948 2141 946C2133 944 2124 944 2116 941C2108 938 2100 932 2091 931C2082 930 2070 936 2061 936C2052 936 2045 931 2036 928C2027 925 2016 920 2006 916C1996 912 1984 910 1976 906C1968 902 1964 896 1956 891C1948 886 1938 880 1926 876C1914 872 1897 869 1886 866C1875 863 1868 858 1861 856C1854 854 1844 856 1846 851Z"/></clipPath>
<path d="M1846 851C1848 846 1864 837 1876 828C1888 819 1903 806 1916 796C1929 786 1942 779 1956 771C1970 763 1991 756 2001 750C2011 744 2007 746 2016 738C2025 730 2046 713 2056 705C2066 697 2068 695 2076 690C2084 685 2096 680 2106 675C2116 670 2126 665 2136 658C2146 651 2155 642 2166 635C2177 628 2194 616 2204 614C2214 612 2219 620 2227 623C2235 626 2244 632 2252 630C2260 628 2266 611 2272 610C2278 609 2280 619 2287 625C2294 631 2303 640 2312 645C2321 650 2334 654 2342 653C2350 652 2351 638 2357 638C2363 638 2370 647 2380 650C2390 653 2403 656 2415 658C2427 660 2438 662 2450 665C2462 668 2474 674 2485 678C2496 682 2506 686 2515 690C2524 694 2531 699 2540 703C2549 707 2560 710 2570 713C2580 716 2590 722 2600 723C2610 724 2621 718 2631 720C2641 722 2651 732 2661 738C2671 744 2681 750 2691 755C2701 760 2711 761 2721 765C2731 769 2741 774 2751 778C2761 782 2771 785 2781 788C2791 791 2801 795 2811 798C2821 801 2837 802 2839 808C2841 814 2827 824 2821 831C2815 838 2808 844 2801 851C2794 858 2787 869 2781 876C2775 883 2772 886 2766 891C2760 896 2753 900 2746 906C2739 912 2734 920 2726 926C2718 932 2708 936 2701 941C2694 946 2687 950 2681 956C2675 962 2667 967 2663 976C2659 985 2658 1000 2656 1011C2654 1022 2654 1037 2651 1041C2648 1045 2641 1038 2636 1036C2631 1034 2627 1022 2621 1026C2615 1030 2607 1052 2601 1061C2595 1070 2592 1076 2586 1081C2580 1086 2573 1090 2566 1091C2559 1092 2552 1087 2545 1084C2538 1081 2531 1080 2525 1074C2519 1068 2515 1060 2510 1051C2505 1042 2500 1028 2495 1021C2490 1014 2487 1010 2483 1011C2479 1012 2475 1017 2470 1024C2465 1031 2461 1044 2455 1051C2449 1058 2442 1064 2435 1066C2428 1068 2422 1064 2415 1061C2408 1058 2401 1053 2395 1046C2389 1039 2385 1027 2380 1021C2375 1015 2371 1012 2365 1009C2359 1006 2351 1005 2342 1004C2333 1003 2321 1003 2312 1001C2303 999 2294 998 2287 994C2280 990 2277 982 2272 976C2267 970 2263 958 2257 956C2251 954 2246 963 2237 964C2228 965 2214 965 2202 964C2190 963 2176 959 2166 956C2156 953 2149 948 2141 946C2133 944 2124 944 2116 941C2108 938 2100 932 2091 931C2082 930 2070 936 2061 936C2052 936 2045 931 2036 928C2027 925 2016 920 2006 916C1996 912 1984 910 1976 906C1968 902 1964 896 1956 891C1948 886 1938 880 1926 876C1914 872 1897 869 1886 866C1875 863 1868 858 1861 856C1854 854 1844 856 1846 851Z" fill="#4a8a48"/>
<g clip-path="url(#cD)">
<path d="M1830 860C1832 837 1897 803 1960 760C2023 717 2160 620 2210 600C2260 580 2257 613 2260 640C2263 667 2233 720 2230 760C2227 800 2233 843 2240 880C2247 917 2293 968 2270 980C2247 992 2153 963 2100 950C2047 937 1995 915 1950 900C1905 885 1828 883 1830 860Z" fill="#2f8a6c" filter="url(#b20)"/>
<ellipse cx="2282" cy="665" rx="36" ry="11" transform="rotate(0 2282 665)" fill="#2f6a8e" filter="url(#b6)"/>
<ellipse cx="2172" cy="721" rx="30" ry="16" transform="rotate(0 2172 721)" fill="#64702c" filter="url(#b8)"/>
<ellipse cx="2001" cy="868" rx="36" ry="14" transform="rotate(0 2001 868)" fill="#64702c" filter="url(#b8)"/>
<ellipse cx="2282" cy="951" rx="26" ry="10" transform="rotate(0 2282 951)" fill="#9a9230" filter="url(#b6)"/>
<ellipse cx="2352" cy="658" rx="14" ry="12" transform="rotate(0 2352 658)" fill="#9a9230" filter="url(#b6)"/>
<ellipse cx="2189" cy="886" rx="12" ry="8" transform="rotate(0 2189 886)" fill="#2f6a8e" filter="url(#b4)"/>
<path d="M2465 821C2471 802 2529 784 2560 770C2591 756 2629 730 2651 735C2673 740 2687 782 2690 800C2693 818 2681 822 2671 841C2661 860 2646 904 2631 916C2616 928 2598 916 2580 910C2562 904 2544 896 2525 881C2506 866 2459 840 2465 821Z" fill="#2f8a6c" filter="url(#b20)"/>
<path d="M2640 740C2648 733 2666 741 2700 752C2734 763 2828 788 2845 805C2862 822 2814 841 2801 855C2788 869 2778 889 2766 890C2754 891 2750 877 2731 861C2712 845 2666 816 2651 796C2636 776 2632 747 2640 740Z" fill="#2f6a8e" filter="url(#b12)"/>
<path d="M2700 752C2716 752 2826 790 2845 805C2864 820 2827 845 2811 845C2795 845 2770 820 2751 805C2732 790 2684 752 2700 752Z" fill="#2b2f60" filter="url(#b8)"/>
<ellipse cx="2691" cy="851" rx="22" ry="18" transform="rotate(0 2691 851)" fill="#6f8430" filter="url(#b8)"/>
<ellipse cx="2385" cy="776" rx="16" ry="24" transform="rotate(0 2385 776)" fill="#a09030" filter="url(#b6)"/>
<ellipse cx="2385" cy="742" rx="11" ry="18" transform="rotate(0 2385 742)" fill="#8c3422" filter="url(#b4)"/>
<ellipse cx="2550" cy="1019" rx="22" ry="12" transform="rotate(10 2550 1019)" fill="#9a9230" filter="url(#b6)"/>
<ellipse cx="2520" cy="1046" rx="14" ry="18" transform="rotate(0 2520 1046)" fill="#9a9230" filter="url(#b6)"/>
<ellipse cx="2505" cy="1004" rx="28" ry="13" transform="rotate(10 2505 1004)" fill="#8c3422" filter="url(#b5)"/>
<ellipse cx="2646" cy="1034" rx="9" ry="8" transform="rotate(0 2646 1034)" fill="#2b5a88" filter="url(#b3)"/>
</g>
<line x1="1827" y1="775" x2="2201" y2="550" stroke="#111" stroke-width="3" stroke-linecap="round"/>
<line x1="2201" y1="550" x2="2850" y2="708" stroke="#111" stroke-width="3" stroke-linecap="round"/>
<line x1="2850" y1="708" x2="2839" y2="811" stroke="#111" stroke-width="3" stroke-linecap="round"/>
<line x1="2839" y1="811" x2="2560" y2="1152" stroke="#111" stroke-width="3" stroke-linecap="round"/>
<line x1="2560" y1="1152" x2="1847" y2="873" stroke="#111" stroke-width="3" stroke-linecap="round"/>
<line x1="1847" y1="873" x2="1827" y2="775" stroke="#111" stroke-width="3" stroke-linecap="round"/>
<line x1="1827" y1="775" x2="2566" y2="1034" stroke="#1f4a3c" stroke-width="2" stroke-linecap="round"/>
<line x1="2566" y1="1034" x2="2850" y2="708" stroke="#2f5f4c" stroke-width="1.6" stroke-linecap="round"/>
<line x1="2566" y1="1034" x2="2560" y2="1152" stroke="#333" stroke-width="1.5" stroke-linecap="round"/>
<line x1="1878" y1="870" x2="1878" y2="886" stroke="#111" stroke-width="2.5" stroke-linecap="round"/>
<line x1="1973" y1="908" x2="1973" y2="924" stroke="#111" stroke-width="2.5" stroke-linecap="round"/>
<line x1="2075" y1="946" x2="2075" y2="964" stroke="#111" stroke-width="2.5" stroke-linecap="round"/>
<line x1="2184" y1="991" x2="2184" y2="1007" stroke="#111" stroke-width="2.5" stroke-linecap="round"/>
<line x1="2302" y1="1034" x2="2302" y2="1050" stroke="#111" stroke-width="2.5" stroke-linecap="round"/>
<line x1="2426" y1="1084" x2="2426" y2="1100" stroke="#111" stroke-width="2.5" stroke-linecap="round"/>
<line x1="2781" y1="883" x2="2766" y2="880" stroke="#111" stroke-width="2.5" stroke-linecap="round"/>
<line x1="2736" y1="929" x2="2723" y2="926" stroke="#111" stroke-width="2.5" stroke-linecap="round"/>
<line x1="2696" y1="984" x2="2681" y2="979" stroke="#111" stroke-width="2.5" stroke-linecap="round"/>
<line x1="2653" y1="1039" x2="2640" y2="1034" stroke="#111" stroke-width="2.5" stroke-linecap="round"/>
<line x1="2613" y1="1084" x2="2599" y2="1080" stroke="#111" stroke-width="2.5" stroke-linecap="round"/>
<text x="1894" y="651" font-size="52" text-anchor="start">D</text>
<text x="1810" y="787" font-size="40" text-anchor="end">62.90</text>
<text x="1826" y="887" font-size="40" text-anchor="end">0</text>
<text x="1871" y="932" font-size="40" text-anchor="start">0</text>
<text x="1908" y="979" font-size="40" text-anchor="start">79.48</text>
<text x="2005" y="1021" font-size="40" text-anchor="start">158.95</text>
<text x="2107" y="1062" font-size="40" text-anchor="start">238.43</text>
<text x="2231" y="1113" font-size="40" text-anchor="start">317.91</text>
<text x="2352" y="1167" font-size="40" text-anchor="start">397.38</text>
<text x="2470" y="1208" font-size="40" text-anchor="start">476.86</text>
<text x="2590" y="1183" font-size="40" text-anchor="start">372.32</text>
<text x="2635" y="1116" font-size="40" text-anchor="start">319.13</text>
<text x="2682" y="1063" font-size="40" text-anchor="start">265.94</text>
<text x="2719" y="1014" font-size="40" text-anchor="start">212.75</text>
<text x="2767" y="961" font-size="40" text-anchor="start">159.57</text>
<text x="2804" y="915" font-size="40" text-anchor="start">106.38</text>
<text x="2829" y="871" font-size="40" text-anchor="start">53.19</text>
<text x="2859" y="830" font-size="40" text-anchor="start">0</text>
<text x="1680" y="841" font-size="52" text-anchor="middle" transform="rotate(-90 1680 841)"><tspan class="it">z</tspan>/μm</text>
<text x="2116" y="1121" font-size="52" text-anchor="middle" transform="rotate(17 2116 1121)"><tspan class="it">x</tspan>/μm</text>
<text x="2912" y="1090" font-size="52" text-anchor="middle" transform="rotate(-55 2912 1090)"><tspan class="it">y</tspan>/μm</text>
<rect x="2901" y="585" width="19" height="166" fill="url(#cb)"/>
<line x1="2917" y1="590.4" x2="2927" y2="590.4" stroke="#333" stroke-width="1.5"/>
<text x="2934" y="600.0" font-size="32">69. 89 μm</text>
<line x1="2917" y1="621.7" x2="2927" y2="621.7" stroke="#333" stroke-width="1.5"/>
<text x="2934" y="631.3" font-size="32">55.91 μm</text>
<line x1="2917" y1="653.0" x2="2927" y2="653.0" stroke="#333" stroke-width="1.5"/>
<text x="2934" y="662.6" font-size="32">41.93 μm</text>
<line x1="2917" y1="684.3" x2="2927" y2="684.3" stroke="#333" stroke-width="1.5"/>
<text x="2934" y="693.9" font-size="32">27.95 μm</text>
<line x1="2917" y1="715.6" x2="2927" y2="715.6" stroke="#333" stroke-width="1.5"/>
<text x="2934" y="725.2" font-size="32">13.98 μm</text>
<line x1="2917" y1="746.9" x2="2927" y2="746.9" stroke="#333" stroke-width="1.5"/>
<text x="2934" y="756.5" font-size="32">0 μm</text>
</g>
<g id="pE">
<line x1="286" y1="1513" x2="320" y2="1490" stroke="#999" stroke-width="1.5"/>
<line x1="648" y1="1215" x2="648" y2="1250" stroke="#999" stroke-width="1.5"/>
<clipPath id="cE"><path d="M288 1483C289 1476 299 1462 306 1458C313 1454 324 1459 331 1456C338 1453 344 1441 351 1438C358 1435 364 1441 371 1436C378 1431 384 1417 391 1410C398 1403 408 1401 416 1395C424 1389 429 1379 436 1373C443 1367 450 1360 456 1360C462 1360 464 1378 469 1373C474 1368 479 1335 484 1328C489 1321 495 1327 501 1330C507 1333 514 1344 521 1345C528 1346 534 1337 541 1333C548 1329 559 1329 566 1320C573 1311 577 1284 584 1278C591 1272 599 1282 606 1285C613 1288 621 1299 627 1293C633 1287 638 1257 644 1250C650 1243 656 1246 662 1253C668 1260 670 1283 677 1290C684 1297 694 1293 702 1293C710 1293 714 1287 722 1288C730 1289 740 1298 747 1300C754 1302 757 1293 762 1298C767 1303 771 1326 777 1330C783 1334 794 1323 800 1323C806 1323 810 1326 815 1330C820 1334 823 1342 830 1345C837 1348 846 1348 855 1348C864 1348 877 1341 885 1343C893 1345 898 1355 905 1360C912 1365 922 1374 930 1375C938 1376 947 1367 955 1368C963 1369 972 1378 980 1380C988 1382 998 1376 1006 1378C1014 1380 1024 1390 1031 1393C1038 1396 1044 1399 1051 1398C1058 1397 1064 1387 1071 1388C1078 1389 1084 1400 1091 1405C1098 1410 1104 1417 1111 1420C1118 1423 1124 1425 1131 1423C1138 1421 1145 1410 1151 1410C1157 1410 1161 1423 1166 1425C1171 1427 1176 1423 1181 1420C1186 1417 1193 1406 1198 1408C1203 1410 1207 1424 1211 1430C1215 1436 1215 1443 1221 1445C1227 1447 1238 1440 1246 1440C1254 1440 1264 1442 1271 1445C1278 1448 1280 1456 1286 1455C1292 1454 1302 1434 1304 1436C1306 1438 1299 1456 1296 1466C1293 1476 1289 1490 1286 1496C1283 1502 1280 1503 1276 1501C1272 1499 1266 1486 1261 1486C1256 1486 1252 1495 1246 1501C1240 1507 1233 1514 1226 1521C1219 1528 1211 1534 1206 1541C1201 1548 1200 1556 1196 1566C1192 1576 1186 1590 1181 1601C1176 1612 1172 1623 1166 1631C1160 1639 1153 1646 1146 1651C1139 1656 1133 1655 1126 1661C1119 1667 1111 1677 1106 1686C1101 1695 1099 1707 1096 1716C1093 1725 1090 1734 1086 1741C1082 1748 1075 1750 1071 1756C1067 1762 1066 1771 1061 1776C1056 1781 1048 1783 1041 1784C1034 1785 1027 1784 1020 1784C1013 1784 1007 1788 1000 1786C993 1784 986 1776 980 1771C974 1766 970 1762 965 1756C960 1750 955 1742 950 1736C945 1730 941 1725 935 1721C929 1717 922 1716 915 1714C908 1712 902 1708 895 1706C888 1704 882 1703 875 1701C868 1699 862 1695 855 1694C848 1693 838 1695 830 1694C822 1693 815 1689 805 1686C795 1683 781 1681 772 1676C763 1671 760 1660 752 1656C744 1652 735 1652 727 1649C719 1646 711 1640 702 1636C693 1632 681 1629 672 1626C663 1623 654 1621 647 1616C640 1611 635 1600 627 1596C619 1592 610 1593 601 1591C592 1589 584 1586 576 1583C568 1580 563 1576 556 1571C549 1566 542 1558 536 1551C530 1544 527 1529 521 1526C515 1523 508 1531 501 1533C494 1535 484 1537 476 1536C468 1535 459 1528 451 1528C443 1528 434 1534 426 1533C418 1532 414 1523 406 1521C398 1519 388 1524 381 1521C374 1518 368 1508 361 1506C354 1504 348 1514 341 1511C334 1508 328 1493 321 1491C314 1489 306 1502 301 1501C296 1500 287 1490 288 1483Z"/></clipPath>
<path d="M288 1483C289 1476 299 1462 306 1458C313 1454 324 1459 331 1456C338 1453 344 1441 351 1438C358 1435 364 1441 371 1436C378 1431 384 1417 391 1410C398 1403 408 1401 416 1395C424 1389 429 1379 436 1373C443 1367 450 1360 456 1360C462 1360 464 1378 469 1373C474 1368 479 1335 484 1328C489 1321 495 1327 501 1330C507 1333 514 1344 521 1345C528 1346 534 1337 541 1333C548 1329 559 1329 566 1320C573 1311 577 1284 584 1278C591 1272 599 1282 606 1285C613 1288 621 1299 627 1293C633 1287 638 1257 644 1250C650 1243 656 1246 662 1253C668 1260 670 1283 677 1290C684 1297 694 1293 702 1293C710 1293 714 1287 722 1288C730 1289 740 1298 747 1300C754 1302 757 1293 762 1298C767 1303 771 1326 777 1330C783 1334 794 1323 800 1323C806 1323 810 1326 815 1330C820 1334 823 1342 830 1345C837 1348 846 1348 855 1348C864 1348 877 1341 885 1343C893 1345 898 1355 905 1360C912 1365 922 1374 930 1375C938 1376 947 1367 955 1368C963 1369 972 1378 980 1380C988 1382 998 1376 1006 1378C1014 1380 1024 1390 1031 1393C1038 1396 1044 1399 1051 1398C1058 1397 1064 1387 1071 1388C1078 1389 1084 1400 1091 1405C1098 1410 1104 1417 1111 1420C1118 1423 1124 1425 1131 1423C1138 1421 1145 1410 1151 1410C1157 1410 1161 1423 1166 1425C1171 1427 1176 1423 1181 1420C1186 1417 1193 1406 1198 1408C1203 1410 1207 1424 1211 1430C1215 1436 1215 1443 1221 1445C1227 1447 1238 1440 1246 1440C1254 1440 1264 1442 1271 1445C1278 1448 1280 1456 1286 1455C1292 1454 1302 1434 1304 1436C1306 1438 1299 1456 1296 1466C1293 1476 1289 1490 1286 1496C1283 1502 1280 1503 1276 1501C1272 1499 1266 1486 1261 1486C1256 1486 1252 1495 1246 1501C1240 1507 1233 1514 1226 1521C1219 1528 1211 1534 1206 1541C1201 1548 1200 1556 1196 1566C1192 1576 1186 1590 1181 1601C1176 1612 1172 1623 1166 1631C1160 1639 1153 1646 1146 1651C1139 1656 1133 1655 1126 1661C1119 1667 1111 1677 1106 1686C1101 1695 1099 1707 1096 1716C1093 1725 1090 1734 1086 1741C1082 1748 1075 1750 1071 1756C1067 1762 1066 1771 1061 1776C1056 1781 1048 1783 1041 1784C1034 1785 1027 1784 1020 1784C1013 1784 1007 1788 1000 1786C993 1784 986 1776 980 1771C974 1766 970 1762 965 1756C960 1750 955 1742 950 1736C945 1730 941 1725 935 1721C929 1717 922 1716 915 1714C908 1712 902 1708 895 1706C888 1704 882 1703 875 1701C868 1699 862 1695 855 1694C848 1693 838 1695 830 1694C822 1693 815 1689 805 1686C795 1683 781 1681 772 1676C763 1671 760 1660 752 1656C744 1652 735 1652 727 1649C719 1646 711 1640 702 1636C693 1632 681 1629 672 1626C663 1623 654 1621 647 1616C640 1611 635 1600 627 1596C619 1592 610 1593 601 1591C592 1589 584 1586 576 1583C568 1580 563 1576 556 1571C549 1566 542 1558 536 1551C530 1544 527 1529 521 1526C515 1523 508 1531 501 1533C494 1535 484 1537 476 1536C468 1535 459 1528 451 1528C443 1528 434 1534 426 1533C418 1532 414 1523 406 1521C398 1519 388 1524 381 1521C374 1518 368 1508 361 1506C354 1504 348 1514 341 1511C334 1508 328 1493 321 1491C314 1489 306 1502 301 1501C296 1500 287 1490 288 1483Z" fill="#4a8a48"/>
<g clip-path="url(#cE)">
<path d="M280 1490C283 1478 353 1430 400 1400C447 1370 520 1337 560 1310C600 1283 600 1240 640 1240C680 1240 742 1287 800 1310C858 1333 963 1360 990 1380C1017 1400 987 1427 960 1430C933 1433 870 1408 830 1400C790 1392 755 1388 720 1380C685 1372 657 1347 620 1350C583 1353 540 1380 500 1400C460 1420 417 1455 380 1470C343 1485 277 1502 280 1490Z" fill="#2f8a70" filter="url(#b16)" opacity="0.9"/>
<ellipse cx="677" cy="1333" rx="24" ry="13" transform="rotate(10 677 1333)" fill="#2b5a88" filter="url(#b6)"/>
<ellipse cx="920" cy="1380" rx="22" ry="8" transform="rotate(10 920 1380)" fill="#2f6a8e" filter="url(#b5)"/>
<ellipse cx="647" cy="1368" rx="16" ry="14" transform="rotate(0 647 1368)" fill="#7e8228" filter="url(#b5)" opacity="0.75"/>
<ellipse cx="526" cy="1431" rx="18" ry="10" transform="rotate(0 526 1431)" fill="#7e8228" filter="url(#b5)" opacity="0.75"/>
<ellipse cx="486" cy="1466" rx="10" ry="16" transform="rotate(0 486 1466)" fill="#7e8228" filter="url(#b5)" opacity="0.75"/>
<ellipse cx="637" cy="1451" rx="14" ry="18" transform="rotate(0 637 1451)" fill="#7e8228" filter="url(#b5)" opacity="0.75"/>
<ellipse cx="717" cy="1451" rx="16" ry="12" transform="rotate(0 717 1451)" fill="#7e8228" filter="url(#b5)" opacity="0.75"/>
<ellipse cx="692" cy="1496" rx="30" ry="10" transform="rotate(0 692 1496)" fill="#7e8228" filter="url(#b5)" opacity="0.75"/>
<ellipse cx="772" cy="1571" rx="18" ry="12" transform="rotate(0 772 1571)" fill="#7e8228" filter="url(#b5)" opacity="0.75"/>
<ellipse cx="1056" cy="1411" rx="50" ry="18" transform="rotate(10 1056 1411)" fill="#7e8228" filter="url(#b8)" opacity="0.75"/>
<ellipse cx="980" cy="1441" rx="22" ry="12" transform="rotate(0 980 1441)" fill="#7e8228" filter="url(#b6)" opacity="0.75"/>
<ellipse cx="1181" cy="1451" rx="30" ry="14" transform="rotate(0 1181 1451)" fill="#7e8228" filter="url(#b6)" opacity="0.75"/>
<ellipse cx="1006" cy="1511" rx="20" ry="10" transform="rotate(0 1006 1511)" fill="#7e8228" filter="url(#b5)" opacity="0.75"/>
<ellipse cx="1081" cy="1581" rx="70" ry="18" transform="rotate(0 1081 1581)" fill="#7e8228" filter="url(#b8)" opacity="0.75"/>
<ellipse cx="1091" cy="1666" rx="30" ry="16" transform="rotate(-20 1091 1666)" fill="#7e8228" filter="url(#b8)" opacity="0.75"/>
<ellipse cx="790" cy="1556" rx="18" ry="10" transform="rotate(0 790 1556)" fill="#7e8228" filter="url(#b5)" opacity="0.75"/>
<ellipse cx="865" cy="1586" rx="12" ry="8" transform="rotate(20 865 1586)" fill="#55602c" filter="url(#b3)"/>
<path d="M960 1740C968 1725 1028 1693 1045 1700C1062 1707 1068 1765 1060 1780C1052 1795 1017 1797 1000 1790C983 1783 952 1755 960 1740Z" fill="#2f8a70" filter="url(#b12)"/>
<path d="M1155 1565C1159 1552 1176 1533 1188 1520C1200 1507 1218 1493 1230 1485C1242 1477 1259 1470 1262 1472C1265 1474 1258 1486 1250 1497C1242 1508 1223 1521 1212 1535C1201 1549 1193 1570 1185 1580C1177 1590 1170 1600 1165 1598C1160 1596 1151 1578 1155 1565Z" fill="#7c2c22" filter="url(#b5)"/>
<ellipse cx="1200" cy="1490" rx="40" ry="14" transform="rotate(-40 1200 1490)" fill="#8a7a28" filter="url(#b8)" opacity="0.8"/>
</g>
<line x1="277" y1="1414" x2="648" y2="1215" stroke="#111" stroke-width="3" stroke-linecap="round"/>
<line x1="648" y1="1215" x2="1309" y2="1413" stroke="#111" stroke-width="3" stroke-linecap="round"/>
<line x1="1309" y1="1413" x2="1291" y2="1501" stroke="#111" stroke-width="3" stroke-linecap="round"/>
<line x1="1291" y1="1501" x2="1040" y2="1827" stroke="#111" stroke-width="3" stroke-linecap="round"/>
<line x1="1040" y1="1827" x2="286" y2="1513" stroke="#111" stroke-width="3" stroke-linecap="round"/>
<line x1="286" y1="1513" x2="277" y2="1414" stroke="#111" stroke-width="3" stroke-linecap="round"/>
<line x1="277" y1="1414" x2="1051" y2="1721" stroke="#1f4a3c" stroke-width="2" stroke-linecap="round"/>
<line x1="1051" y1="1721" x2="1309" y2="1413" stroke="#2f5f4c" stroke-width="1.6" stroke-linecap="round"/>
<line x1="1051" y1="1721" x2="1040" y2="1827" stroke="#555" stroke-width="1.5" stroke-linecap="round"/>
<line x1="400" y1="1547" x2="400" y2="1562" stroke="#111" stroke-width="2.5" stroke-linecap="round"/>
<line x1="521" y1="1600" x2="521" y2="1614" stroke="#111" stroke-width="2.5" stroke-linecap="round"/>
<line x1="651" y1="1653" x2="651" y2="1667" stroke="#111" stroke-width="2.5" stroke-linecap="round"/>
<line x1="790" y1="1711" x2="790" y2="1726" stroke="#111" stroke-width="2.5" stroke-linecap="round"/>
<line x1="941" y1="1774" x2="941" y2="1789" stroke="#111" stroke-width="2.5" stroke-linecap="round"/>
<line x1="1269" y1="1523" x2="1259" y2="1513" stroke="#111" stroke-width="2.5" stroke-linecap="round"/>
<line x1="1241" y1="1558" x2="1229" y2="1551" stroke="#111" stroke-width="2.5" stroke-linecap="round"/>
<line x1="1214" y1="1598" x2="1202" y2="1592" stroke="#111" stroke-width="2.5" stroke-linecap="round"/>
<line x1="1184" y1="1639" x2="1174" y2="1633" stroke="#111" stroke-width="2.5" stroke-linecap="round"/>
<line x1="1151" y1="1681" x2="1140" y2="1675" stroke="#111" stroke-width="2.5" stroke-linecap="round"/>
<line x1="1116" y1="1726" x2="1105" y2="1720" stroke="#111" stroke-width="2.5" stroke-linecap="round"/>
<line x1="1081" y1="1771" x2="1070" y2="1765" stroke="#111" stroke-width="2.5" stroke-linecap="round"/>
<text x="321" y="1307" font-size="52" text-anchor="start">E</text>
<text x="255" y="1421" font-size="40" text-anchor="end">34.24</text>
<text x="255" y="1485" font-size="40" text-anchor="end">14.27</text>
<text x="268" y="1529" font-size="40" text-anchor="end">0</text>
<text x="212" y="1582" font-size="40" text-anchor="start">472.39</text>
<text x="341" y="1625" font-size="40" text-anchor="start">377.91</text>
<text x="449" y="1674" font-size="40" text-anchor="start">283.43</text>
<text x="574" y="1726" font-size="40" text-anchor="start">188.95</text>
<text x="727" y="1782" font-size="40" text-anchor="start">94.48</text>
<text x="933" y="1843" font-size="40" text-anchor="start">0</text>
<text x="1061" y="1864" font-size="40" text-anchor="start">0</text>
<text x="1103" y="1814" font-size="40" text-anchor="start">50.78</text>
<text x="1140" y="1766" font-size="40" text-anchor="start">101.57</text>
<text x="1175" y="1715" font-size="40" text-anchor="start">152.35</text>
<text x="1204" y="1672" font-size="40" text-anchor="start">203.13</text>
<text x="1239" y="1631" font-size="40" text-anchor="start">253.91</text>
<text x="1265" y="1590" font-size="40" text-anchor="start">304.70</text>
<text x="1295" y="1547" font-size="40" text-anchor="start">355.48</text>
<text x="133" y="1486" font-size="52" text-anchor="middle" transform="rotate(-90 133 1486)"><tspan class="it">z</tspan>/μm</text>
<text x="571" y="1769" font-size="52" text-anchor="middle" transform="rotate(19 571 1769)"><tspan class="it">x</tspan>/μm</text>
<text x="1362" y="1735" font-size="52" text-anchor="middle" transform="rotate(-55 1362 1735)"><tspan class="it">y</tspan>/μm</text>
<rect x="1359" y="1231" width="18" height="177" fill="url(#cb)"/>
<line x1="1374" y1="1242.4" x2="1384" y2="1242.4" stroke="#333" stroke-width="1.5"/>
<text x="1389" y="1252.0" font-size="32">34.24 μm</text>
<line x1="1374" y1="1273.5" x2="1384" y2="1273.5" stroke="#333" stroke-width="1.5"/>
<text x="1389" y="1283.1" font-size="32">28.53 μm</text>
<line x1="1374" y1="1304.6" x2="1384" y2="1304.6" stroke="#333" stroke-width="1.5"/>
<text x="1389" y="1314.2" font-size="32">22.83 μm</text>
<line x1="1374" y1="1335.7" x2="1384" y2="1335.7" stroke="#333" stroke-width="1.5"/>
<text x="1389" y="1345.3" font-size="32">17.12 μm</text>
<line x1="1374" y1="1366.8" x2="1384" y2="1366.8" stroke="#333" stroke-width="1.5"/>
<text x="1389" y="1376.4" font-size="32">11.41 μm</text>
<line x1="1374" y1="1397.9" x2="1384" y2="1397.9" stroke="#333" stroke-width="1.5"/>
<text x="1389" y="1407.5" font-size="32">0 μm</text>
</g>
<g id="pF">
<line x1="1827" y1="1499" x2="1860" y2="1478" stroke="#999" stroke-width="1.5"/>
<line x1="2177" y1="1238" x2="2177" y2="1255" stroke="#999" stroke-width="1.5"/>
<clipPath id="cF"><path d="M1831 1473C1831 1468 1847 1453 1856 1446C1865 1439 1874 1437 1886 1431C1898 1425 1914 1417 1926 1410C1938 1403 1945 1396 1956 1390C1967 1384 1981 1378 1991 1373C2001 1368 2008 1362 2016 1360C2024 1358 2030 1362 2036 1358C2042 1354 2044 1338 2051 1333C2058 1328 2068 1331 2076 1328C2084 1325 2088 1318 2096 1313C2104 1308 2113 1301 2121 1295C2129 1289 2138 1282 2146 1278C2154 1274 2161 1277 2166 1273C2171 1269 2171 1257 2177 1255C2183 1253 2194 1258 2202 1260C2210 1262 2219 1264 2227 1265C2235 1266 2244 1263 2252 1265C2260 1267 2270 1271 2277 1275C2284 1279 2289 1285 2297 1288C2305 1291 2317 1293 2327 1293C2337 1293 2349 1287 2357 1288C2365 1289 2368 1295 2375 1297C2382 1299 2392 1296 2400 1298C2408 1300 2417 1306 2425 1308C2433 1310 2441 1313 2450 1313C2459 1313 2469 1309 2480 1310C2491 1311 2505 1316 2515 1318C2525 1320 2532 1317 2540 1320C2548 1323 2552 1332 2560 1335C2568 1338 2582 1337 2591 1338C2600 1339 2608 1337 2616 1340C2624 1343 2628 1354 2636 1355C2644 1356 2657 1346 2666 1348C2675 1350 2684 1367 2691 1370C2698 1373 2704 1370 2711 1368C2718 1366 2724 1358 2731 1360C2738 1362 2744 1380 2751 1383C2758 1386 2768 1381 2776 1380C2784 1379 2792 1375 2801 1375C2810 1375 2824 1376 2831 1378C2838 1380 2842 1380 2842 1384C2842 1388 2836 1398 2831 1405C2826 1412 2817 1419 2811 1426C2805 1433 2801 1439 2796 1446C2791 1453 2786 1460 2781 1466C2776 1472 2771 1474 2766 1481C2761 1488 2756 1498 2751 1506C2746 1514 2741 1523 2736 1531C2731 1539 2728 1548 2721 1556C2714 1564 2704 1573 2696 1581C2688 1589 2682 1598 2676 1606C2670 1614 2667 1624 2661 1631C2655 1638 2647 1644 2641 1651C2635 1658 2631 1664 2626 1671C2621 1678 2615 1690 2611 1696C2607 1702 2606 1704 2601 1707C2596 1710 2588 1713 2581 1711C2574 1709 2567 1701 2560 1696C2553 1691 2547 1684 2540 1681C2533 1678 2527 1684 2520 1681C2513 1678 2508 1670 2500 1666C2492 1662 2480 1659 2470 1656C2460 1653 2450 1649 2440 1646C2430 1643 2420 1639 2410 1636C2400 1633 2389 1629 2380 1629C2371 1629 2363 1638 2357 1638C2351 1638 2347 1630 2342 1626C2337 1622 2334 1616 2327 1611C2320 1606 2307 1599 2297 1596C2287 1593 2276 1592 2267 1591C2258 1590 2250 1590 2242 1588C2234 1586 2224 1578 2217 1576C2210 1574 2204 1574 2197 1573C2190 1572 2182 1571 2176 1571C2170 1571 2164 1570 2159 1573C2154 1576 2152 1586 2149 1586C2146 1586 2143 1576 2139 1571C2135 1566 2132 1560 2126 1556C2120 1552 2114 1548 2106 1546C2098 1544 2084 1548 2076 1546C2068 1544 2064 1538 2056 1536C2048 1534 2040 1533 2031 1531C2022 1529 2011 1529 2001 1526C1991 1523 1980 1518 1971 1513C1962 1508 1955 1501 1946 1498C1937 1495 1926 1498 1916 1496C1906 1494 1896 1490 1886 1486C1876 1482 1865 1475 1856 1473C1847 1471 1831 1478 1831 1473Z"/></clipPath>
<path d="M1831 1473C1831 1468 1847 1453 1856 1446C1865 1439 1874 1437 1886 1431C1898 1425 1914 1417 1926 1410C1938 1403 1945 1396 1956 1390C1967 1384 1981 1378 1991 1373C2001 1368 2008 1362 2016 1360C2024 1358 2030 1362 2036 1358C2042 1354 2044 1338 2051 1333C2058 1328 2068 1331 2076 1328C2084 1325 2088 1318 2096 1313C2104 1308 2113 1301 2121 1295C2129 1289 2138 1282 2146 1278C2154 1274 2161 1277 2166 1273C2171 1269 2171 1257 2177 1255C2183 1253 2194 1258 2202 1260C2210 1262 2219 1264 2227 1265C2235 1266 2244 1263 2252 1265C2260 1267 2270 1271 2277 1275C2284 1279 2289 1285 2297 1288C2305 1291 2317 1293 2327 1293C2337 1293 2349 1287 2357 1288C2365 1289 2368 1295 2375 1297C2382 1299 2392 1296 2400 1298C2408 1300 2417 1306 2425 1308C2433 1310 2441 1313 2450 1313C2459 1313 2469 1309 2480 1310C2491 1311 2505 1316 2515 1318C2525 1320 2532 1317 2540 1320C2548 1323 2552 1332 2560 1335C2568 1338 2582 1337 2591 1338C2600 1339 2608 1337 2616 1340C2624 1343 2628 1354 2636 1355C2644 1356 2657 1346 2666 1348C2675 1350 2684 1367 2691 1370C2698 1373 2704 1370 2711 1368C2718 1366 2724 1358 2731 1360C2738 1362 2744 1380 2751 1383C2758 1386 2768 1381 2776 1380C2784 1379 2792 1375 2801 1375C2810 1375 2824 1376 2831 1378C2838 1380 2842 1380 2842 1384C2842 1388 2836 1398 2831 1405C2826 1412 2817 1419 2811 1426C2805 1433 2801 1439 2796 1446C2791 1453 2786 1460 2781 1466C2776 1472 2771 1474 2766 1481C2761 1488 2756 1498 2751 1506C2746 1514 2741 1523 2736 1531C2731 1539 2728 1548 2721 1556C2714 1564 2704 1573 2696 1581C2688 1589 2682 1598 2676 1606C2670 1614 2667 1624 2661 1631C2655 1638 2647 1644 2641 1651C2635 1658 2631 1664 2626 1671C2621 1678 2615 1690 2611 1696C2607 1702 2606 1704 2601 1707C2596 1710 2588 1713 2581 1711C2574 1709 2567 1701 2560 1696C2553 1691 2547 1684 2540 1681C2533 1678 2527 1684 2520 1681C2513 1678 2508 1670 2500 1666C2492 1662 2480 1659 2470 1656C2460 1653 2450 1649 2440 1646C2430 1643 2420 1639 2410 1636C2400 1633 2389 1629 2380 1629C2371 1629 2363 1638 2357 1638C2351 1638 2347 1630 2342 1626C2337 1622 2334 1616 2327 1611C2320 1606 2307 1599 2297 1596C2287 1593 2276 1592 2267 1591C2258 1590 2250 1590 2242 1588C2234 1586 2224 1578 2217 1576C2210 1574 2204 1574 2197 1573C2190 1572 2182 1571 2176 1571C2170 1571 2164 1570 2159 1573C2154 1576 2152 1586 2149 1586C2146 1586 2143 1576 2139 1571C2135 1566 2132 1560 2126 1556C2120 1552 2114 1548 2106 1546C2098 1544 2084 1548 2076 1546C2068 1544 2064 1538 2056 1536C2048 1534 2040 1533 2031 1531C2022 1529 2011 1529 2001 1526C1991 1523 1980 1518 1971 1513C1962 1508 1955 1501 1946 1498C1937 1495 1926 1498 1916 1496C1906 1494 1896 1490 1886 1486C1876 1482 1865 1475 1856 1473C1847 1471 1831 1478 1831 1473Z" fill="#4a8a48"/>
<g clip-path="url(#cF)">
<path d="M2110 1420C2118 1378 2138 1300 2150 1270C2162 1240 2138 1237 2180 1240C2222 1243 2330 1275 2400 1290C2470 1305 2525 1315 2600 1330C2675 1345 2820 1355 2850 1380C2880 1405 2813 1457 2780 1480C2747 1503 2687 1507 2650 1520C2613 1533 2602 1557 2560 1560C2518 1563 2443 1533 2400 1540C2357 1547 2333 1597 2300 1600C2267 1603 2233 1573 2200 1560C2167 1547 2115 1543 2100 1520C2085 1497 2102 1462 2110 1420Z" fill="#6f802a" filter="url(#b22)" opacity="0.75"/>
<path d="M2380 1290C2402 1287 2477 1301 2520 1310C2563 1319 2585 1334 2640 1345C2695 1356 2823 1358 2850 1375C2877 1392 2820 1436 2800 1445C2780 1454 2760 1438 2730 1430C2700 1422 2655 1408 2620 1400C2585 1392 2553 1387 2520 1380C2487 1373 2442 1368 2420 1360C2398 1352 2397 1342 2390 1330C2383 1318 2358 1293 2380 1290Z" fill="#7c4e30" filter="url(#b10)" opacity="0.95"/>
<ellipse cx="2536" cy="1326" rx="16" ry="9" transform="rotate(10 2536 1326)" fill="#9a3020" filter="url(#b4)"/>
<ellipse cx="2661" cy="1356" rx="20" ry="9" transform="rotate(10 2661 1356)" fill="#9a3020" filter="url(#b4)"/>
<ellipse cx="2725" cy="1370" rx="14" ry="10" transform="rotate(0 2725 1370)" fill="#8a3a22" filter="url(#b4)"/>
<path d="M2750 1390C2761 1380 2834 1372 2845 1378C2856 1384 2826 1415 2815 1425C2804 1435 2791 1446 2780 1440C2769 1434 2739 1400 2750 1390Z" fill="#80502a" filter="url(#b6)"/>
<ellipse cx="1926" cy="1473" rx="18" ry="12" transform="rotate(0 1926 1473)" fill="#2f8a78" filter="url(#b6)"/>
<ellipse cx="1946" cy="1441" rx="14" ry="10" transform="rotate(0 1946 1441)" fill="#2f8a78" filter="url(#b6)"/>
<ellipse cx="2149" cy="1575" rx="12" ry="14" transform="rotate(0 2149 1575)" fill="#2f8a78" filter="url(#b5)"/>
<ellipse cx="2440" cy="1558" rx="12" ry="9" transform="rotate(0 2440 1558)" fill="#2f8a78" filter="url(#b4)"/>
<ellipse cx="2656" cy="1573" rx="18" ry="9" transform="rotate(0 2656 1573)" fill="#2f8a78" filter="url(#b4)"/>
<ellipse cx="2360" cy="1620" rx="50" ry="30" transform="rotate(0 2360 1620)" fill="#4d8a48" filter="url(#b12)"/>
</g>
<line x1="1818" y1="1435" x2="2177" y2="1238" stroke="#111" stroke-width="3" stroke-linecap="round"/>
<line x1="2177" y1="1238" x2="2844" y2="1374" stroke="#111" stroke-width="3" stroke-linecap="round"/>
<line x1="2844" y1="1374" x2="2834" y2="1436" stroke="#111" stroke-width="3" stroke-linecap="round"/>
<line x1="2834" y1="1436" x2="2603" y2="1740" stroke="#111" stroke-width="3" stroke-linecap="round"/>
<line x1="2603" y1="1740" x2="1827" y2="1499" stroke="#111" stroke-width="3" stroke-linecap="round"/>
<line x1="1827" y1="1499" x2="1818" y2="1435" stroke="#111" stroke-width="3" stroke-linecap="round"/>
<line x1="1818" y1="1435" x2="2608" y2="1664" stroke="#1f4a3c" stroke-width="2" stroke-linecap="round"/>
<line x1="2608" y1="1664" x2="2844" y2="1374" stroke="#2f5f4c" stroke-width="1.6" stroke-linecap="round"/>
<line x1="2608" y1="1664" x2="2603" y2="1740" stroke="#555" stroke-width="1.5" stroke-linecap="round"/>
<line x1="1901" y1="1508" x2="1901" y2="1521" stroke="#111" stroke-width="2.5" stroke-linecap="round"/>
<line x1="2020" y1="1546" x2="2020" y2="1560" stroke="#111" stroke-width="2.5" stroke-linecap="round"/>
<line x1="2148" y1="1588" x2="2148" y2="1601" stroke="#111" stroke-width="2.5" stroke-linecap="round"/>
<line x1="2289" y1="1628" x2="2289" y2="1644" stroke="#111" stroke-width="2.5" stroke-linecap="round"/>
<line x1="2439" y1="1676" x2="2439" y2="1690" stroke="#111" stroke-width="2.5" stroke-linecap="round"/>
<line x1="2826" y1="1433" x2="2811" y2="1438" stroke="#111" stroke-width="2.5" stroke-linecap="round"/>
<line x1="2804" y1="1468" x2="2791" y2="1473" stroke="#111" stroke-width="2.5" stroke-linecap="round"/>
<line x1="2781" y1="1501" x2="2768" y2="1498" stroke="#111" stroke-width="2.5" stroke-linecap="round"/>
<line x1="2756" y1="1533" x2="2743" y2="1530" stroke="#111" stroke-width="2.5" stroke-linecap="round"/>
<line x1="2728" y1="1571" x2="2715" y2="1568" stroke="#111" stroke-width="2.5" stroke-linecap="round"/>
<line x1="2698" y1="1611" x2="2684" y2="1607" stroke="#111" stroke-width="2.5" stroke-linecap="round"/>
<line x1="2666" y1="1654" x2="2653" y2="1650" stroke="#111" stroke-width="2.5" stroke-linecap="round"/>
<line x1="2631" y1="1699" x2="2618" y2="1695" stroke="#111" stroke-width="2.5" stroke-linecap="round"/>
<text x="1896" y="1307" font-size="52" text-anchor="start">F</text>
<text x="1807" y="1442" font-size="40" text-anchor="end">14.28</text>
<text x="1810" y="1486" font-size="40" text-anchor="end">7.79</text>
<text x="1812" y="1529" font-size="40" text-anchor="end">0</text>
<text x="1893" y="1581" font-size="40" text-anchor="start">0</text>
<text x="1978" y="1625" font-size="40" text-anchor="start">94.15</text>
<text x="2084" y="1665" font-size="40" text-anchor="start">188.30</text>
<text x="2216" y="1706" font-size="40" text-anchor="start">282.45</text>
<text x="2360" y="1753" font-size="40" text-anchor="start">376.60</text>
<text x="2535" y="1795" font-size="40" text-anchor="start">470.75</text>
<text x="2653" y="1733" font-size="40" text-anchor="start">352.40</text>
<text x="2693" y="1687" font-size="40" text-anchor="start">302.06</text>
<text x="2723" y="1641" font-size="40" text-anchor="start">251.72</text>
<text x="2754" y="1601" font-size="40" text-anchor="start">201.37</text>
<text x="2784" y="1564" font-size="40" text-anchor="start">151.03</text>
<text x="2809" y="1526" font-size="40" text-anchor="start">100.69</text>
<text x="2831" y="1488" font-size="40" text-anchor="start">50.34</text>
<text x="2851" y="1452" font-size="40" text-anchor="start">0</text>
<text x="1680" y="1484" font-size="52" text-anchor="middle" transform="rotate(-90 1680 1484)"><tspan class="it">z</tspan>/μm</text>
<text x="2116" y="1761" font-size="52" text-anchor="middle" transform="rotate(17 2116 1761)"><tspan class="it">x</tspan>/μm</text>
<text x="2912" y="1733" font-size="52" text-anchor="middle" transform="rotate(-55 2912 1733)"><tspan class="it">y</tspan>/μm</text>
<rect x="2902" y="1226" width="19" height="182" fill="url(#cb)"/>
<line x1="2918" y1="1244.4" x2="2928" y2="1244.4" stroke="#333" stroke-width="1.5"/>
<text x="2934" y="1254.0" font-size="32">14.28 μm</text>
<line x1="2918" y1="1275.5" x2="2928" y2="1275.5" stroke="#333" stroke-width="1.5"/>
<text x="2934" y="1285.1" font-size="32">11.68 μm</text>
<line x1="2918" y1="1306.6" x2="2928" y2="1306.6" stroke="#333" stroke-width="1.5"/>
<text x="2934" y="1316.2" font-size="32">9.09 μm</text>
<line x1="2918" y1="1337.7" x2="2928" y2="1337.7" stroke="#333" stroke-width="1.5"/>
<text x="2934" y="1347.3" font-size="32">6.49 μm</text>
<line x1="2918" y1="1368.8" x2="2928" y2="1368.8" stroke="#333" stroke-width="1.5"/>
<text x="2934" y="1378.4" font-size="32">3.89 μm</text>
<line x1="2918" y1="1399.9" x2="2928" y2="1399.9" stroke="#333" stroke-width="1.5"/>
<text x="2934" y="1409.5" font-size="32">0 μm</text>
</g>
<g id="pG">
<line x1="290" y1="2140" x2="345" y2="2108" stroke="#999" stroke-width="1.5"/>
<line x1="651" y1="1840" x2="651" y2="1896" stroke="#999" stroke-width="1.5"/>
<clipPath id="cG"><path d="M281 2051C283 2045 300 2040 311 2035C322 2030 336 2020 346 2018C356 2016 363 2030 371 2025C379 2020 388 1997 396 1990C404 1983 409 1981 416 1983C423 1985 428 2004 436 2003C444 2002 454 1981 461 1975C468 1969 474 1972 481 1968C488 1964 494 1956 501 1953C508 1950 516 1954 521 1950C526 1946 525 1933 531 1928C537 1923 548 1921 556 1918C564 1915 574 1910 581 1910C588 1910 593 1918 601 1918C609 1918 619 1913 627 1910C635 1907 640 1900 647 1898C654 1896 660 1896 667 1898C674 1900 680 1907 687 1910C694 1913 703 1913 712 1915C721 1917 732 1918 742 1920C752 1922 762 1927 772 1930C782 1933 794 1935 800 1938C806 1941 804 1945 810 1948C816 1951 827 1957 835 1958C843 1959 852 1956 860 1955C868 1954 878 1951 885 1953C892 1955 898 1960 905 1965C912 1970 918 1977 925 1980C932 1983 942 1983 950 1983C958 1983 962 1977 970 1978C978 1979 986 1985 995 1990C1004 1995 1013 2004 1021 2008C1029 2012 1034 2015 1041 2015C1048 2015 1054 2010 1061 2010C1068 2010 1078 2015 1086 2018C1094 2021 1099 2026 1106 2030C1113 2034 1118 2041 1126 2045C1134 2049 1143 2050 1151 2053C1159 2056 1168 2058 1176 2061C1184 2064 1193 2068 1201 2071C1209 2074 1218 2076 1226 2078C1234 2080 1243 2083 1251 2086C1259 2089 1268 2093 1276 2096C1284 2099 1294 2100 1297 2103C1300 2106 1294 2112 1291 2116C1288 2120 1281 2122 1276 2126C1271 2130 1266 2135 1261 2141C1256 2147 1251 2154 1246 2161C1241 2168 1236 2174 1231 2181C1226 2188 1221 2196 1216 2201C1211 2206 1207 2209 1201 2213C1195 2217 1187 2220 1181 2226C1175 2232 1171 2240 1166 2246C1161 2252 1156 2255 1151 2261C1146 2267 1141 2276 1136 2281C1131 2286 1126 2291 1121 2294C1116 2297 1110 2296 1106 2299C1102 2302 1099 2305 1096 2311C1093 2317 1089 2328 1086 2336C1083 2344 1080 2354 1076 2361C1072 2368 1066 2371 1061 2376C1056 2381 1050 2388 1046 2391C1042 2394 1041 2398 1036 2397C1031 2396 1023 2389 1016 2386C1009 2383 1002 2384 995 2381C988 2378 981 2375 975 2371C969 2367 964 2362 960 2356C956 2350 954 2341 950 2336C946 2331 941 2328 935 2326C929 2324 922 2326 915 2324C908 2322 902 2316 895 2311C888 2306 878 2299 870 2296C862 2293 857 2289 850 2291C843 2293 836 2303 830 2306C824 2309 820 2313 815 2311C810 2309 806 2302 800 2295C794 2288 788 2274 782 2271C776 2268 770 2276 762 2276C754 2276 744 2277 737 2274C730 2271 723 2263 717 2256C711 2249 709 2237 702 2231C695 2225 685 2222 677 2221C669 2220 660 2221 652 2223C644 2225 640 2232 632 2231C624 2230 614 2221 606 2218C598 2215 593 2215 586 2213C579 2211 573 2210 566 2206C559 2202 552 2197 546 2191C540 2185 537 2175 531 2171C525 2167 517 2164 511 2166C505 2168 501 2181 496 2181C491 2181 486 2172 481 2166C476 2160 471 2146 466 2143C461 2140 457 2146 451 2146C445 2146 437 2146 431 2143C425 2140 421 2131 416 2126C411 2121 406 2114 401 2111C396 2108 391 2110 386 2111C381 2112 377 2119 371 2118C365 2117 358 2108 351 2103C344 2098 339 2091 331 2086C323 2081 309 2077 301 2071C293 2065 279 2057 281 2051Z"/></clipPath>
<path d="M281 2051C283 2045 300 2040 311 2035C322 2030 336 2020 346 2018C356 2016 363 2030 371 2025C379 2020 388 1997 396 1990C404 1983 409 1981 416 1983C423 1985 428 2004 436 2003C444 2002 454 1981 461 1975C468 1969 474 1972 481 1968C488 1964 494 1956 501 1953C508 1950 516 1954 521 1950C526 1946 525 1933 531 1928C537 1923 548 1921 556 1918C564 1915 574 1910 581 1910C588 1910 593 1918 601 1918C609 1918 619 1913 627 1910C635 1907 640 1900 647 1898C654 1896 660 1896 667 1898C674 1900 680 1907 687 1910C694 1913 703 1913 712 1915C721 1917 732 1918 742 1920C752 1922 762 1927 772 1930C782 1933 794 1935 800 1938C806 1941 804 1945 810 1948C816 1951 827 1957 835 1958C843 1959 852 1956 860 1955C868 1954 878 1951 885 1953C892 1955 898 1960 905 1965C912 1970 918 1977 925 1980C932 1983 942 1983 950 1983C958 1983 962 1977 970 1978C978 1979 986 1985 995 1990C1004 1995 1013 2004 1021 2008C1029 2012 1034 2015 1041 2015C1048 2015 1054 2010 1061 2010C1068 2010 1078 2015 1086 2018C1094 2021 1099 2026 1106 2030C1113 2034 1118 2041 1126 2045C1134 2049 1143 2050 1151 2053C1159 2056 1168 2058 1176 2061C1184 2064 1193 2068 1201 2071C1209 2074 1218 2076 1226 2078C1234 2080 1243 2083 1251 2086C1259 2089 1268 2093 1276 2096C1284 2099 1294 2100 1297 2103C1300 2106 1294 2112 1291 2116C1288 2120 1281 2122 1276 2126C1271 2130 1266 2135 1261 2141C1256 2147 1251 2154 1246 2161C1241 2168 1236 2174 1231 2181C1226 2188 1221 2196 1216 2201C1211 2206 1207 2209 1201 2213C1195 2217 1187 2220 1181 2226C1175 2232 1171 2240 1166 2246C1161 2252 1156 2255 1151 2261C1146 2267 1141 2276 1136 2281C1131 2286 1126 2291 1121 2294C1116 2297 1110 2296 1106 2299C1102 2302 1099 2305 1096 2311C1093 2317 1089 2328 1086 2336C1083 2344 1080 2354 1076 2361C1072 2368 1066 2371 1061 2376C1056 2381 1050 2388 1046 2391C1042 2394 1041 2398 1036 2397C1031 2396 1023 2389 1016 2386C1009 2383 1002 2384 995 2381C988 2378 981 2375 975 2371C969 2367 964 2362 960 2356C956 2350 954 2341 950 2336C946 2331 941 2328 935 2326C929 2324 922 2326 915 2324C908 2322 902 2316 895 2311C888 2306 878 2299 870 2296C862 2293 857 2289 850 2291C843 2293 836 2303 830 2306C824 2309 820 2313 815 2311C810 2309 806 2302 800 2295C794 2288 788 2274 782 2271C776 2268 770 2276 762 2276C754 2276 744 2277 737 2274C730 2271 723 2263 717 2256C711 2249 709 2237 702 2231C695 2225 685 2222 677 2221C669 2220 660 2221 652 2223C644 2225 640 2232 632 2231C624 2230 614 2221 606 2218C598 2215 593 2215 586 2213C579 2211 573 2210 566 2206C559 2202 552 2197 546 2191C540 2185 537 2175 531 2171C525 2167 517 2164 511 2166C505 2168 501 2181 496 2181C491 2181 486 2172 481 2166C476 2160 471 2146 466 2143C461 2140 457 2146 451 2146C445 2146 437 2146 431 2143C425 2140 421 2131 416 2126C411 2121 406 2114 401 2111C396 2108 391 2110 386 2111C381 2112 377 2119 371 2118C365 2117 358 2108 351 2103C344 2098 339 2091 331 2086C323 2081 309 2077 301 2071C293 2065 279 2057 281 2051Z" fill="#408c4c"/>
<g clip-path="url(#cG)">
<path d="M300 2060C313 2045 377 2005 420 2000C463 1995 513 2023 560 2030C607 2037 655 2030 700 2040C745 2050 803 2063 830 2090C857 2117 858 2167 860 2200C862 2233 860 2280 840 2290C820 2300 773 2273 740 2260C707 2247 677 2228 640 2210C603 2192 557 2165 520 2150C483 2135 450 2130 420 2120C390 2110 360 2100 340 2090C320 2080 287 2075 300 2060Z" fill="#66862f" filter="url(#b22)"/>
<path d="M420 2060C440 2056 513 2063 560 2075C607 2087 657 2109 700 2130C743 2151 792 2173 820 2200C848 2227 873 2278 870 2290C867 2302 828 2285 800 2270C772 2255 740 2223 700 2200C660 2177 603 2147 560 2130C517 2113 463 2112 440 2100C417 2088 400 2064 420 2060Z" fill="#7a8430" filter="url(#b14)" opacity="0.8"/>
<path d="M272 2050C277 2040 326 2019 351 2018C376 2017 395 2035 420 2045C445 2055 477 2071 500 2080C523 2089 557 2095 560 2100C563 2105 540 2112 520 2112C500 2112 465 2101 440 2098C415 2095 391 2096 371 2092C351 2088 336 2083 320 2076C304 2069 267 2060 272 2050Z" fill="#7a4a2a" filter="url(#b7)"/>
<ellipse cx="412" cy="1995" rx="16" ry="14" transform="rotate(0 412 1995)" fill="#7a4426" filter="url(#b5)"/>
<ellipse cx="520" cy="2078" rx="40" ry="12" transform="rotate(15 520 2078)" fill="#8a6a2a" filter="url(#b8)"/>
<path d="M640 1880C663 1875 740 1912 800 1930C860 1948 970 1963 1000 1985C1030 2007 1003 2051 980 2060C957 2069 900 2048 860 2040C820 2032 773 2023 740 2010C707 1997 677 1982 660 1960C643 1938 617 1885 640 1880Z" fill="#2f8c78" filter="url(#b16)"/>
<path d="M995 2010C1046 2013 1269 2064 1300 2100C1331 2136 1209 2195 1181 2226C1153 2257 1146 2286 1131 2285C1116 2284 1103 2247 1091 2221C1079 2195 1077 2154 1061 2131C1045 2108 1006 2101 995 2081C984 2061 944 2007 995 2010Z" fill="#2f8c78" filter="url(#b14)"/>
<path d="M995 2020C999 2010 1023 2012 1031 2020C1039 2028 1031 2058 1041 2070C1051 2082 1071 2090 1091 2090C1111 2090 1142 2073 1161 2070C1180 2067 1183 2065 1206 2070C1229 2075 1291 2088 1300 2100C1309 2112 1277 2134 1261 2141C1245 2148 1224 2145 1206 2141C1188 2137 1168 2124 1151 2116C1134 2108 1117 2097 1101 2096C1085 2095 1072 2114 1056 2111C1040 2108 1016 2096 1006 2081C996 2066 991 2030 995 2020Z" fill="#2f5f8a" filter="url(#b8)"/>
<path d="M1185 2112C1189 2103 1221 2087 1240 2085C1259 2083 1296 2092 1300 2100C1304 2108 1279 2129 1265 2135C1251 2141 1228 2142 1215 2138C1202 2134 1181 2121 1185 2112Z" fill="#2b2f60" filter="url(#b6)"/>
<ellipse cx="1206" cy="2191" rx="16" ry="14" transform="rotate(0 1206 2191)" fill="#2f6a8e" filter="url(#b6)"/>
<ellipse cx="752" cy="2271" rx="16" ry="8" transform="rotate(0 752 2271)" fill="#2f8c78" filter="url(#b5)"/>
<ellipse cx="391" cy="2111" rx="12" ry="6" transform="rotate(0 391 2111)" fill="#2f8c78" filter="url(#b4)"/>
</g>
<line x1="277" y1="2049" x2="651" y2="1840" stroke="#111" stroke-width="3" stroke-linecap="round"/>
<line x1="651" y1="1840" x2="1310" y2="2019" stroke="#111" stroke-width="3" stroke-linecap="round"/>
<line x1="1310" y1="2019" x2="1296" y2="2106" stroke="#111" stroke-width="3" stroke-linecap="round"/>
<line x1="1296" y1="2106" x2="1033" y2="2436" stroke="#111" stroke-width="3" stroke-linecap="round"/>
<line x1="1033" y1="2436" x2="290" y2="2140" stroke="#111" stroke-width="3" stroke-linecap="round"/>
<line x1="290" y1="2140" x2="277" y2="2049" stroke="#111" stroke-width="3" stroke-linecap="round"/>
<line x1="277" y1="2049" x2="1044" y2="2331" stroke="#1f4a3c" stroke-width="2" stroke-linecap="round"/>
<line x1="1044" y1="2331" x2="1310" y2="2019" stroke="#2f5f4c" stroke-width="1.6" stroke-linecap="round"/>
<line x1="1044" y1="2331" x2="1033" y2="2436" stroke="#555" stroke-width="1.5" stroke-linecap="round"/>
<line x1="352" y1="2151" x2="352" y2="2166" stroke="#111" stroke-width="2.5" stroke-linecap="round"/>
<line x1="467" y1="2196" x2="467" y2="2210" stroke="#111" stroke-width="2.5" stroke-linecap="round"/>
<line x1="593" y1="2245" x2="593" y2="2261" stroke="#111" stroke-width="2.5" stroke-linecap="round"/>
<line x1="727" y1="2298" x2="727" y2="2314" stroke="#111" stroke-width="2.5" stroke-linecap="round"/>
<line x1="872" y1="2359" x2="872" y2="2374" stroke="#111" stroke-width="2.5" stroke-linecap="round"/>
<line x1="1269" y1="2138" x2="1256" y2="2133" stroke="#111" stroke-width="2.5" stroke-linecap="round"/>
<line x1="1239" y1="2176" x2="1226" y2="2171" stroke="#111" stroke-width="2.5" stroke-linecap="round"/>
<line x1="1206" y1="2213" x2="1193" y2="2210" stroke="#111" stroke-width="2.5" stroke-linecap="round"/>
<line x1="1173" y1="2256" x2="1160" y2="2251" stroke="#111" stroke-width="2.5" stroke-linecap="round"/>
<line x1="1138" y1="2299" x2="1125" y2="2294" stroke="#111" stroke-width="2.5" stroke-linecap="round"/>
<line x1="1103" y1="2346" x2="1090" y2="2341" stroke="#111" stroke-width="2.5" stroke-linecap="round"/>
<line x1="1068" y1="2394" x2="1055" y2="2389" stroke="#111" stroke-width="2.5" stroke-linecap="round"/>
<text x="318" y="1907" font-size="52" text-anchor="start">G</text>
<text x="262" y="2069" font-size="40" text-anchor="end">27.25</text>
<text x="263" y="2141" font-size="40" text-anchor="end">0</text>
<text x="343" y="2222" font-size="40" text-anchor="start">0</text>
<text x="409" y="2268" font-size="40" text-anchor="start">94.88</text>
<text x="519" y="2321" font-size="40" text-anchor="start">189.77</text>
<text x="636" y="2371" font-size="40" text-anchor="start">284.65</text>
<text x="803" y="2436" font-size="40" text-anchor="start">379.53</text>
<text x="971" y="2496" font-size="40" text-anchor="start">474.42</text>
<text x="1086" y="2434" font-size="40" text-anchor="start">355.08</text>
<text x="1129" y="2386" font-size="40" text-anchor="start">304.35</text>
<text x="1161" y="2338" font-size="40" text-anchor="start">253.63</text>
<text x="1204" y="2295" font-size="40" text-anchor="start">202.90</text>
<text x="1230" y="2254" font-size="40" text-anchor="start">152.18</text>
<text x="1254" y="2213" font-size="40" text-anchor="start">101.45</text>
<text x="1295" y="2171" font-size="40" text-anchor="start">50.73</text>
<text x="1321" y="2132" font-size="40" text-anchor="start">0</text>
<text x="133" y="2121" font-size="52" text-anchor="middle" transform="rotate(-90 133 2121)"><tspan class="it">z</tspan>/μm</text>
<text x="571" y="2404" font-size="52" text-anchor="middle" transform="rotate(19 571 2404)"><tspan class="it">x</tspan>/μm</text>
<text x="1362" y="2368" font-size="52" text-anchor="middle" transform="rotate(-55 1362 2368)"><tspan class="it">y</tspan>/μm</text>
<rect x="1357" y="1839" width="19" height="179" fill="url(#cb)"/>
<line x1="1373" y1="1858.4" x2="1383" y2="1858.4" stroke="#333" stroke-width="1.5"/>
<text x="1389" y="1868.0" font-size="32">30.28 μm</text>
<line x1="1373" y1="1889.5" x2="1383" y2="1889.5" stroke="#333" stroke-width="1.5"/>
<text x="1389" y="1899.1" font-size="32">24.22 μm</text>
<line x1="1373" y1="1920.6" x2="1383" y2="1920.6" stroke="#333" stroke-width="1.5"/>
<text x="1389" y="1930.2" font-size="32">18.17 μm</text>
<line x1="1373" y1="1951.7" x2="1383" y2="1951.7" stroke="#333" stroke-width="1.5"/>
<text x="1389" y="1961.3" font-size="32">12.11 μm</text>
<line x1="1373" y1="1982.8" x2="1383" y2="1982.8" stroke="#333" stroke-width="1.5"/>
<text x="1389" y="1992.4" font-size="32">6.06 μm</text>
<line x1="1373" y1="2013.9" x2="1383" y2="2013.9" stroke="#333" stroke-width="1.5"/>
<text x="1389" y="2023.5" font-size="32">0 μm</text>
</g>
<g id="pH">
<line x1="1828" y1="2120" x2="1860" y2="2100" stroke="#999" stroke-width="1.5"/>
<clipPath id="cH"><path d="M1831 2120C1828 2114 1847 2107 1856 2101C1865 2095 1876 2089 1886 2083C1896 2077 1906 2072 1916 2066C1926 2060 1936 2051 1946 2045C1956 2039 1966 2034 1976 2028C1986 2022 1996 2014 2006 2008C2016 2002 2026 1999 2036 1993C2046 1987 2056 1980 2066 1973C2076 1966 2086 1955 2096 1948C2106 1941 2116 1937 2126 1930C2136 1923 2148 1913 2156 1905C2164 1897 2169 1888 2176 1883C2183 1878 2190 1874 2198 1873C2206 1872 2218 1878 2227 1880C2236 1882 2244 1882 2252 1885C2260 1888 2269 1897 2277 1900C2285 1903 2294 1902 2302 1905C2310 1908 2319 1914 2327 1915C2335 1916 2343 1911 2352 1913C2361 1915 2370 1922 2380 1925C2390 1928 2400 1927 2410 1930C2420 1933 2430 1940 2440 1943C2450 1946 2460 1948 2470 1950C2480 1952 2490 1956 2500 1958C2510 1960 2520 1959 2530 1960C2540 1961 2551 1963 2560 1965C2569 1967 2577 1971 2586 1973C2595 1975 2606 1973 2616 1975C2626 1977 2637 1979 2646 1983C2655 1987 2663 1993 2671 1998C2679 2003 2688 2009 2696 2013C2704 2017 2709 2022 2716 2023C2723 2024 2730 2017 2736 2018C2742 2019 2746 2026 2751 2030C2756 2034 2759 2041 2766 2043C2773 2045 2783 2039 2791 2040C2799 2041 2808 2046 2816 2050C2824 2054 2836 2059 2841 2063C2846 2067 2846 2070 2844 2076C2842 2082 2836 2089 2831 2096C2826 2103 2818 2110 2811 2118C2804 2126 2798 2133 2791 2141C2784 2149 2778 2158 2771 2166C2764 2174 2758 2179 2751 2188C2744 2197 2734 2208 2726 2218C2718 2228 2709 2238 2701 2248C2693 2258 2684 2269 2676 2279C2668 2289 2659 2299 2651 2309C2643 2319 2634 2329 2626 2339C2618 2349 2609 2359 2601 2369C2593 2379 2586 2396 2577 2399C2568 2402 2561 2391 2550 2386C2539 2381 2523 2376 2510 2371C2497 2366 2483 2360 2470 2354C2457 2348 2443 2342 2430 2336C2417 2330 2403 2323 2390 2319C2377 2315 2362 2316 2352 2311C2342 2306 2335 2298 2327 2291C2319 2284 2310 2277 2302 2271C2294 2265 2286 2260 2277 2256C2268 2252 2257 2250 2247 2246C2237 2242 2227 2235 2217 2231C2207 2227 2197 2223 2187 2221C2177 2219 2166 2220 2156 2218C2146 2216 2136 2210 2126 2206C2116 2202 2106 2195 2096 2191C2086 2187 2076 2185 2066 2181C2056 2177 2046 2170 2036 2168C2026 2166 2016 2171 2006 2171C1996 2171 1989 2169 1976 2166C1963 2163 1943 2158 1926 2153C1909 2148 1892 2142 1876 2136C1860 2130 1834 2126 1831 2120Z"/></clipPath>
<path d="M1831 2120C1828 2114 1847 2107 1856 2101C1865 2095 1876 2089 1886 2083C1896 2077 1906 2072 1916 2066C1926 2060 1936 2051 1946 2045C1956 2039 1966 2034 1976 2028C1986 2022 1996 2014 2006 2008C2016 2002 2026 1999 2036 1993C2046 1987 2056 1980 2066 1973C2076 1966 2086 1955 2096 1948C2106 1941 2116 1937 2126 1930C2136 1923 2148 1913 2156 1905C2164 1897 2169 1888 2176 1883C2183 1878 2190 1874 2198 1873C2206 1872 2218 1878 2227 1880C2236 1882 2244 1882 2252 1885C2260 1888 2269 1897 2277 1900C2285 1903 2294 1902 2302 1905C2310 1908 2319 1914 2327 1915C2335 1916 2343 1911 2352 1913C2361 1915 2370 1922 2380 1925C2390 1928 2400 1927 2410 1930C2420 1933 2430 1940 2440 1943C2450 1946 2460 1948 2470 1950C2480 1952 2490 1956 2500 1958C2510 1960 2520 1959 2530 1960C2540 1961 2551 1963 2560 1965C2569 1967 2577 1971 2586 1973C2595 1975 2606 1973 2616 1975C2626 1977 2637 1979 2646 1983C2655 1987 2663 1993 2671 1998C2679 2003 2688 2009 2696 2013C2704 2017 2709 2022 2716 2023C2723 2024 2730 2017 2736 2018C2742 2019 2746 2026 2751 2030C2756 2034 2759 2041 2766 2043C2773 2045 2783 2039 2791 2040C2799 2041 2808 2046 2816 2050C2824 2054 2836 2059 2841 2063C2846 2067 2846 2070 2844 2076C2842 2082 2836 2089 2831 2096C2826 2103 2818 2110 2811 2118C2804 2126 2798 2133 2791 2141C2784 2149 2778 2158 2771 2166C2764 2174 2758 2179 2751 2188C2744 2197 2734 2208 2726 2218C2718 2228 2709 2238 2701 2248C2693 2258 2684 2269 2676 2279C2668 2289 2659 2299 2651 2309C2643 2319 2634 2329 2626 2339C2618 2349 2609 2359 2601 2369C2593 2379 2586 2396 2577 2399C2568 2402 2561 2391 2550 2386C2539 2381 2523 2376 2510 2371C2497 2366 2483 2360 2470 2354C2457 2348 2443 2342 2430 2336C2417 2330 2403 2323 2390 2319C2377 2315 2362 2316 2352 2311C2342 2306 2335 2298 2327 2291C2319 2284 2310 2277 2302 2271C2294 2265 2286 2260 2277 2256C2268 2252 2257 2250 2247 2246C2237 2242 2227 2235 2217 2231C2207 2227 2197 2223 2187 2221C2177 2219 2166 2220 2156 2218C2146 2216 2136 2210 2126 2206C2116 2202 2106 2195 2096 2191C2086 2187 2076 2185 2066 2181C2056 2177 2046 2170 2036 2168C2026 2166 2016 2171 2006 2171C1996 2171 1989 2169 1976 2166C1963 2163 1943 2158 1926 2153C1909 2148 1892 2142 1876 2136C1860 2130 1834 2126 1831 2120Z" fill="#3f8c4c"/>
<g clip-path="url(#cH)">
<path d="M1900 2070C1923 2043 2003 2011 2036 1990C2069 1969 2086 1935 2100 1945C2114 1955 2118 2008 2120 2050C2122 2092 2130 2180 2110 2200C2090 2220 2035 2178 2000 2170C1965 2162 1917 2167 1900 2150C1883 2133 1877 2097 1900 2070Z" fill="#2f8c74" filter="url(#b16)"/>
<path d="M1820 2120C1823 2102 1920 2053 1946 2050C1972 2047 1969 2080 1976 2100C1983 2120 1998 2161 1990 2170C1982 2179 1954 2164 1926 2156C1898 2148 1817 2138 1820 2120Z" fill="#2f5f8a" filter="url(#b12)"/>
<path d="M1820 2120C1827 2108 1899 2068 1920 2066C1941 2064 1941 2094 1946 2110C1951 2126 1961 2155 1950 2160C1939 2165 1902 2147 1880 2140C1858 2133 1813 2132 1820 2120Z" fill="#2b2f60" filter="url(#b8)"/>
<path d="M2150 1900C2155 1886 2165 1862 2198 1865C2231 1868 2290 1899 2350 1915C2410 1931 2492 1941 2560 1960C2628 1979 2728 2009 2760 2030C2792 2051 2777 2079 2750 2085C2723 2091 2650 2072 2600 2065C2550 2058 2495 2048 2450 2040C2405 2032 2362 2033 2330 2020C2298 2007 2287 1972 2260 1960C2233 1948 2188 1960 2170 1950C2152 1940 2145 1914 2150 1900Z" fill="#70842c" filter="url(#b20)"/>
<path d="M2562 1970C2568 1964 2583 1968 2600 1972C2617 1976 2650 1985 2662 1992C2674 1999 2676 2009 2672 2012C2668 2015 2652 2013 2640 2012C2628 2011 2612 2005 2600 2004C2588 2003 2572 2012 2566 2006C2560 2000 2556 1976 2562 1970Z" fill="#82502e" filter="url(#b5)"/>
<ellipse cx="2626" cy="1986" rx="18" ry="8" transform="rotate(15 2626 1986)" fill="#963428" filter="url(#b4)"/>
<path d="M2330 2180C2372 2162 2447 2152 2500 2140C2553 2128 2600 2119 2650 2110C2700 2101 2767 2093 2800 2088C2833 2083 2858 2062 2850 2080C2842 2098 2792 2172 2750 2195C2708 2218 2650 2203 2600 2215C2550 2227 2495 2252 2450 2265C2405 2278 2363 2292 2330 2290C2297 2288 2250 2268 2250 2250C2250 2232 2288 2198 2330 2180Z" fill="#2f8c74" filter="url(#b16)"/>
<path d="M2300 2270C2308 2253 2400 2244 2450 2230C2500 2216 2548 2198 2600 2185C2652 2172 2727 2158 2760 2150C2793 2142 2810 2122 2800 2140C2790 2158 2737 2215 2700 2260C2663 2305 2627 2398 2577 2410C2527 2422 2446 2353 2400 2330C2354 2307 2292 2287 2300 2270Z" fill="#2f6488" filter="url(#b14)"/>
<path d="M2380 2300C2379 2286 2428 2290 2465 2275C2502 2260 2554 2228 2600 2212C2646 2196 2708 2188 2740 2178C2772 2168 2817 2111 2790 2150C2763 2189 2630 2375 2577 2410C2524 2445 2503 2378 2470 2360C2437 2342 2381 2314 2380 2300Z" fill="#2b2f60" filter="url(#b10)"/>
</g>
<line x1="1822" y1="2049" x2="2198" y2="1862" stroke="#111" stroke-width="3" stroke-linecap="round"/>
<line x1="2198" y1="1862" x2="2850" y2="2030" stroke="#111" stroke-width="3" stroke-linecap="round"/>
<line x1="2850" y1="2030" x2="2841" y2="2093" stroke="#111" stroke-width="3" stroke-linecap="round"/>
<line x1="2841" y1="2093" x2="2577" y2="2398" stroke="#111" stroke-width="3" stroke-linecap="round"/>
<line x1="2577" y1="2398" x2="1828" y2="2120" stroke="#111" stroke-width="3" stroke-linecap="round"/>
<line x1="1828" y1="2120" x2="1822" y2="2049" stroke="#111" stroke-width="3" stroke-linecap="round"/>
<line x1="1822" y1="2049" x2="2470" y2="2280" stroke="#1f4a3c" stroke-width="2" stroke-linecap="round"/>
<line x1="2700" y1="2195" x2="2850" y2="2030" stroke="#2f5f4c" stroke-width="1.6" stroke-linecap="round"/>
<line x1="2004" y1="2168" x2="2004" y2="2183" stroke="#111" stroke-width="2.5" stroke-linecap="round"/>
<line x1="2130" y1="2216" x2="2130" y2="2231" stroke="#111" stroke-width="2.5" stroke-linecap="round"/>
<line x1="2267" y1="2268" x2="2267" y2="2284" stroke="#111" stroke-width="2.5" stroke-linecap="round"/>
<line x1="2839" y1="2093" x2="2824" y2="2088" stroke="#111" stroke-width="2.5" stroke-linecap="round"/>
<line x1="2809" y1="2126" x2="2794" y2="2121" stroke="#111" stroke-width="2.5" stroke-linecap="round"/>
<line x1="2781" y1="2158" x2="2767" y2="2154" stroke="#111" stroke-width="2.5" stroke-linecap="round"/>
<text x="1894" y="1907" font-size="52" text-anchor="start">H</text>
<text x="1803" y="2053" font-size="40" text-anchor="end">18.10</text>
<text x="1806" y="2126" font-size="40" text-anchor="end">0</text>
<text x="1880" y="2196" font-size="40" text-anchor="start">0</text>
<text x="1947" y="2246" font-size="40" text-anchor="start">95.08</text>
<text x="2055" y="2298" font-size="40" text-anchor="start">190.16</text>
<text x="2202" y="2349" font-size="40" text-anchor="start">285.24</text>
<text x="2324" y="2399" font-size="40" text-anchor="start">380.32</text>
<text x="2490" y="2453" font-size="40" text-anchor="start">475.40</text>
<text x="2622" y="2404" font-size="40" text-anchor="start">355.50</text>
<text x="2663" y="2355" font-size="40" text-anchor="start">304.72</text>
<text x="2710" y="2309" font-size="40" text-anchor="start">253.93</text>
<text x="2745" y="2267" font-size="40" text-anchor="start">203.14</text>
<text x="2776" y="2226" font-size="40" text-anchor="start">152.36</text>
<text x="2805" y="2187" font-size="40" text-anchor="start">101.57</text>
<text x="2833" y="2148" font-size="40" text-anchor="start">50.79</text>
<text x="2868" y="2111" font-size="40" text-anchor="start">0</text>
<text x="1680" y="2121" font-size="52" text-anchor="middle" transform="rotate(-90 1680 2121)"><tspan class="it">z</tspan>/μm</text>
<text x="2116" y="2401" font-size="52" text-anchor="middle" transform="rotate(17 2116 2401)"><tspan class="it">x</tspan>/μm</text>
<text x="2912" y="2370" font-size="52" text-anchor="middle" transform="rotate(-55 2912 2370)"><tspan class="it">y</tspan>/μm</text>
<rect x="2902" y="1837" width="19" height="246" fill="url(#cb)"/>
<line x1="2918" y1="1858.4" x2="2928" y2="1858.4" stroke="#333" stroke-width="1.5"/>
<text x="2934" y="1868.0" font-size="32">18.10 μm</text>
<line x1="2918" y1="1889.5" x2="2928" y2="1889.5" stroke="#333" stroke-width="1.5"/>
<text x="2934" y="1899.1" font-size="32">15.51 μm</text>
<line x1="2918" y1="1920.6" x2="2928" y2="1920.6" stroke="#333" stroke-width="1.5"/>
<text x="2934" y="1930.2" font-size="32">12.93 μm</text>
<line x1="2918" y1="1951.7" x2="2928" y2="1951.7" stroke="#333" stroke-width="1.5"/>
<text x="2934" y="1961.3" font-size="32">10.34 μm</text>
<line x1="2918" y1="1982.8" x2="2928" y2="1982.8" stroke="#333" stroke-width="1.5"/>
<text x="2934" y="1992.4" font-size="32">7.76 μm</text>
<line x1="2918" y1="2013.9" x2="2928" y2="2013.9" stroke="#333" stroke-width="1.5"/>
<text x="2934" y="2023.5" font-size="32">5.17 μm</text>
<line x1="2918" y1="2045.0" x2="2928" y2="2045.0" stroke="#333" stroke-width="1.5"/>
<text x="2934" y="2054.6" font-size="32">2.59 μm</text>
<line x1="2918" y1="2076.1" x2="2928" y2="2076.1" stroke="#333" stroke-width="1.5"/>
<text x="2934" y="2085.7" font-size="32">0 μm</text>
</g>
<g id="pI">
<line x1="287" y1="2763" x2="345" y2="2730" stroke="#999" stroke-width="1.5"/>
<line x1="657" y1="2480" x2="657" y2="2505" stroke="#999" stroke-width="1.5"/>
<clipPath id="cI"><path d="M286 2696C287 2691 303 2683 311 2675C319 2667 328 2657 336 2650C344 2643 352 2639 361 2635C370 2631 381 2627 391 2625C401 2623 412 2626 421 2623C430 2620 438 2613 446 2610C454 2607 463 2606 471 2603C479 2600 488 2595 496 2590C504 2585 509 2580 516 2575C523 2570 528 2564 536 2560C544 2556 553 2553 561 2550C569 2547 578 2544 586 2540C594 2536 603 2530 611 2525C619 2520 624 2516 632 2513C640 2510 649 2507 657 2505C665 2503 674 2502 682 2503C690 2504 700 2507 707 2510C714 2513 720 2520 727 2523C734 2526 744 2527 752 2530C760 2533 768 2536 777 2540C786 2544 796 2550 805 2555C814 2560 822 2562 830 2568C838 2574 847 2583 855 2588C863 2593 871 2596 880 2598C889 2600 901 2598 910 2600C919 2602 928 2608 935 2613C942 2618 948 2627 955 2630C962 2633 972 2633 980 2633C988 2633 992 2628 1000 2630C1008 2632 1017 2641 1025 2645C1033 2649 1042 2651 1050 2655C1058 2659 1067 2664 1075 2670C1083 2676 1092 2684 1100 2688C1108 2692 1118 2694 1126 2695C1134 2696 1143 2690 1151 2693C1159 2696 1168 2705 1176 2710C1184 2715 1193 2721 1201 2725C1209 2729 1218 2732 1226 2735C1234 2738 1242 2737 1251 2740C1260 2743 1274 2750 1281 2753C1288 2756 1292 2753 1292 2756C1292 2759 1286 2765 1281 2771C1276 2777 1268 2784 1261 2791C1254 2798 1248 2808 1241 2816C1234 2824 1228 2833 1221 2841C1214 2849 1208 2858 1201 2866C1194 2874 1187 2881 1181 2886C1175 2891 1171 2893 1166 2896C1161 2899 1155 2902 1151 2906C1147 2910 1145 2918 1141 2923C1137 2928 1131 2932 1126 2936C1121 2940 1117 2944 1111 2948C1105 2952 1097 2956 1091 2961C1085 2966 1081 2974 1076 2981C1071 2988 1066 2994 1061 3001C1056 3008 1051 3015 1046 3021C1041 3027 1037 3038 1031 3039C1025 3040 1017 3030 1010 3026C1003 3022 997 3019 990 3016C983 3013 977 3009 970 3006C963 3003 957 3000 950 2996C943 2992 937 2985 930 2981C923 2977 917 2975 910 2974C903 2973 897 2976 890 2974C883 2972 877 2965 870 2961C863 2957 857 2954 850 2951C843 2948 838 2944 830 2941C822 2938 813 2935 805 2931C797 2927 789 2919 782 2916C775 2913 769 2913 762 2911C755 2909 749 2909 742 2906C735 2903 729 2896 722 2891C715 2886 709 2880 702 2876C695 2872 690 2868 682 2866C674 2864 664 2868 657 2866C650 2864 644 2854 637 2851C630 2848 623 2853 616 2851C609 2849 603 2845 596 2841C589 2837 583 2829 576 2826C569 2823 562 2824 556 2821C550 2818 547 2809 541 2806C535 2803 528 2804 521 2801C514 2798 508 2795 501 2791C494 2787 488 2778 481 2776C474 2774 467 2778 461 2776C455 2774 452 2770 446 2766C440 2762 433 2757 426 2753C419 2749 413 2744 406 2741C399 2738 393 2741 386 2738C379 2735 373 2726 366 2723C359 2720 353 2722 346 2720C339 2718 333 2710 326 2708C319 2706 313 2707 306 2705C299 2703 285 2701 286 2696Z"/></clipPath>
<path d="M286 2696C287 2691 303 2683 311 2675C319 2667 328 2657 336 2650C344 2643 352 2639 361 2635C370 2631 381 2627 391 2625C401 2623 412 2626 421 2623C430 2620 438 2613 446 2610C454 2607 463 2606 471 2603C479 2600 488 2595 496 2590C504 2585 509 2580 516 2575C523 2570 528 2564 536 2560C544 2556 553 2553 561 2550C569 2547 578 2544 586 2540C594 2536 603 2530 611 2525C619 2520 624 2516 632 2513C640 2510 649 2507 657 2505C665 2503 674 2502 682 2503C690 2504 700 2507 707 2510C714 2513 720 2520 727 2523C734 2526 744 2527 752 2530C760 2533 768 2536 777 2540C786 2544 796 2550 805 2555C814 2560 822 2562 830 2568C838 2574 847 2583 855 2588C863 2593 871 2596 880 2598C889 2600 901 2598 910 2600C919 2602 928 2608 935 2613C942 2618 948 2627 955 2630C962 2633 972 2633 980 2633C988 2633 992 2628 1000 2630C1008 2632 1017 2641 1025 2645C1033 2649 1042 2651 1050 2655C1058 2659 1067 2664 1075 2670C1083 2676 1092 2684 1100 2688C1108 2692 1118 2694 1126 2695C1134 2696 1143 2690 1151 2693C1159 2696 1168 2705 1176 2710C1184 2715 1193 2721 1201 2725C1209 2729 1218 2732 1226 2735C1234 2738 1242 2737 1251 2740C1260 2743 1274 2750 1281 2753C1288 2756 1292 2753 1292 2756C1292 2759 1286 2765 1281 2771C1276 2777 1268 2784 1261 2791C1254 2798 1248 2808 1241 2816C1234 2824 1228 2833 1221 2841C1214 2849 1208 2858 1201 2866C1194 2874 1187 2881 1181 2886C1175 2891 1171 2893 1166 2896C1161 2899 1155 2902 1151 2906C1147 2910 1145 2918 1141 2923C1137 2928 1131 2932 1126 2936C1121 2940 1117 2944 1111 2948C1105 2952 1097 2956 1091 2961C1085 2966 1081 2974 1076 2981C1071 2988 1066 2994 1061 3001C1056 3008 1051 3015 1046 3021C1041 3027 1037 3038 1031 3039C1025 3040 1017 3030 1010 3026C1003 3022 997 3019 990 3016C983 3013 977 3009 970 3006C963 3003 957 3000 950 2996C943 2992 937 2985 930 2981C923 2977 917 2975 910 2974C903 2973 897 2976 890 2974C883 2972 877 2965 870 2961C863 2957 857 2954 850 2951C843 2948 838 2944 830 2941C822 2938 813 2935 805 2931C797 2927 789 2919 782 2916C775 2913 769 2913 762 2911C755 2909 749 2909 742 2906C735 2903 729 2896 722 2891C715 2886 709 2880 702 2876C695 2872 690 2868 682 2866C674 2864 664 2868 657 2866C650 2864 644 2854 637 2851C630 2848 623 2853 616 2851C609 2849 603 2845 596 2841C589 2837 583 2829 576 2826C569 2823 562 2824 556 2821C550 2818 547 2809 541 2806C535 2803 528 2804 521 2801C514 2798 508 2795 501 2791C494 2787 488 2778 481 2776C474 2774 467 2778 461 2776C455 2774 452 2770 446 2766C440 2762 433 2757 426 2753C419 2749 413 2744 406 2741C399 2738 393 2741 386 2738C379 2735 373 2726 366 2723C359 2720 353 2722 346 2720C339 2718 333 2710 326 2708C319 2706 313 2707 306 2705C299 2703 285 2701 286 2696Z" fill="#3f743a"/>
<g clip-path="url(#cI)">
<path d="M270 2700C270 2684 318 2642 351 2625C384 2608 443 2601 471 2600C499 2599 515 2602 520 2620C525 2638 501 2678 500 2706C499 2734 523 2779 515 2790C507 2801 478 2782 451 2770C424 2758 381 2730 351 2718C321 2706 270 2716 270 2700Z" fill="#6a6c30" filter="url(#b14)"/>
<ellipse cx="362" cy="2642" rx="24" ry="12" transform="rotate(-15 362 2642)" fill="#6a2a22" filter="url(#b5)"/>
<ellipse cx="561" cy="2580" rx="30" ry="12" transform="rotate(-20 561 2580)" fill="#62703a" filter="url(#b8)"/>
<ellipse cx="576" cy="2630" rx="30" ry="10" transform="rotate(-10 576 2630)" fill="#62703a" filter="url(#b8)"/>
<ellipse cx="752" cy="2706" rx="26" ry="12" transform="rotate(0 752 2706)" fill="#62703a" filter="url(#b8)"/>
<ellipse cx="650" cy="2560" rx="30" ry="10" transform="rotate(-10 650 2560)" fill="#62703a" filter="url(#b8)"/>
<path d="M930 2600C945 2598 1012 2636 1040 2650C1068 2664 1080 2659 1100 2685C1120 2711 1151 2771 1160 2805C1169 2839 1162 2867 1155 2890C1148 2913 1139 2920 1120 2945C1101 2970 1055 3056 1040 3040C1025 3024 1037 2900 1030 2850C1023 2800 1013 2772 1000 2740C987 2708 962 2683 950 2660C938 2637 915 2602 930 2600Z" fill="#3a7a62" filter="url(#b14)"/>
<path d="M1095 2680C1107 2674 1147 2693 1180 2705C1213 2717 1293 2722 1295 2752C1297 2782 1216 2856 1190 2885C1164 2914 1151 2936 1140 2925C1129 2914 1130 2851 1125 2820C1120 2789 1115 2763 1110 2740C1105 2717 1083 2686 1095 2680Z" fill="#2b5a7c" filter="url(#b10)"/>
<path d="M1182 2712C1204 2713 1294 2725 1297 2752C1300 2779 1222 2850 1200 2874C1178 2898 1173 2901 1166 2897C1159 2893 1161 2868 1158 2850C1155 2832 1149 2808 1150 2790C1151 2772 1160 2758 1165 2745C1170 2732 1160 2711 1182 2712Z" fill="#2b2f60" filter="url(#b7)"/>
</g>
<line x1="279" y1="2675" x2="657" y2="2480" stroke="#111" stroke-width="3" stroke-linecap="round"/>
<line x1="657" y1="2480" x2="1309" y2="2674" stroke="#111" stroke-width="3" stroke-linecap="round"/>
<line x1="1309" y1="2674" x2="1291" y2="2758" stroke="#111" stroke-width="3" stroke-linecap="round"/>
<line x1="1291" y1="2758" x2="1024" y2="3079" stroke="#111" stroke-width="3" stroke-linecap="round"/>
<line x1="1024" y1="3079" x2="287" y2="2763" stroke="#111" stroke-width="3" stroke-linecap="round"/>
<line x1="287" y1="2763" x2="279" y2="2675" stroke="#111" stroke-width="3" stroke-linecap="round"/>
<line x1="279" y1="2675" x2="1033" y2="2984" stroke="#1f3a2c" stroke-width="2" stroke-linecap="round"/>
<line x1="1033" y1="2984" x2="1309" y2="2674" stroke="#2f5f4c" stroke-width="1.6" stroke-linecap="round"/>
<line x1="1033" y1="2984" x2="1024" y2="3079" stroke="#444" stroke-width="1.5" stroke-linecap="round"/>
<line x1="332" y1="2766" x2="332" y2="2783" stroke="#111" stroke-width="2.5" stroke-linecap="round"/>
<line x1="451" y1="2816" x2="451" y2="2833" stroke="#111" stroke-width="2.5" stroke-linecap="round"/>
<line x1="577" y1="2871" x2="577" y2="2888" stroke="#111" stroke-width="2.5" stroke-linecap="round"/>
<line x1="714" y1="2929" x2="714" y2="2946" stroke="#111" stroke-width="2.5" stroke-linecap="round"/>
<line x1="863" y1="2994" x2="863" y2="3009" stroke="#111" stroke-width="2.5" stroke-linecap="round"/>
<line x1="1024" y1="3062" x2="1024" y2="3079" stroke="#111" stroke-width="2.5" stroke-linecap="round"/>
<line x1="1191" y1="2876" x2="1178" y2="2871" stroke="#111" stroke-width="2.5" stroke-linecap="round"/>
<line x1="1136" y1="2946" x2="1123" y2="2943" stroke="#111" stroke-width="2.5" stroke-linecap="round"/>
<line x1="1083" y1="3006" x2="1070" y2="3001" stroke="#111" stroke-width="2.5" stroke-linecap="round"/>
<text x="321" y="2564" font-size="52" text-anchor="start">I</text>
<text x="260" y="2687" font-size="40" text-anchor="end">50.56</text>
<text x="266" y="2765" font-size="40" text-anchor="end">0</text>
<text x="322" y="2833" font-size="40" text-anchor="start">0</text>
<text x="369" y="2896" font-size="40" text-anchor="start">136.20</text>
<text x="494" y="2945" font-size="40" text-anchor="start">272.41</text>
<text x="620" y="3007" font-size="40" text-anchor="start">408.61</text>
<text x="780" y="3070" font-size="40" text-anchor="start">544.82</text>
<text x="939" y="3141" font-size="40" text-anchor="start">681.02</text>
<text x="1054" y="3107" font-size="40" text-anchor="start">540.24</text>
<text x="1108" y="3040" font-size="40" text-anchor="start">450.20</text>
<text x="1165" y="2983" font-size="40" text-anchor="start">360.14</text>
<text x="1197" y="2930" font-size="40" text-anchor="start">270.12</text>
<text x="1252" y="2881" font-size="40" text-anchor="start">180.08</text>
<text x="1281" y="2832" font-size="40" text-anchor="start">90.04</text>
<text x="1310" y="2786" font-size="40" text-anchor="start">0</text>
<text x="133" y="2751" font-size="52" text-anchor="middle" transform="rotate(-90 133 2751)"><tspan class="it">z</tspan>/μm</text>
<text x="571" y="3034" font-size="52" text-anchor="middle" transform="rotate(20 571 3034)"><tspan class="it">x</tspan>/μm</text>
<text x="1362" y="3000" font-size="52" text-anchor="middle" transform="rotate(-55 1362 3000)"><tspan class="it">y</tspan>/μm</text>
<rect x="1357" y="2529" width="19" height="228" fill="url(#cb)"/>
<line x1="1373" y1="2535.4" x2="1383" y2="2535.4" stroke="#333" stroke-width="1.5"/>
<text x="1389" y="2545.0" font-size="32">58.99 μm</text>
<line x1="1373" y1="2566.5" x2="1383" y2="2566.5" stroke="#333" stroke-width="1.5"/>
<text x="1389" y="2576.1" font-size="32">50.56 μm</text>
<line x1="1373" y1="2597.6" x2="1383" y2="2597.6" stroke="#333" stroke-width="1.5"/>
<text x="1389" y="2607.2" font-size="32">42.13 μm</text>
<line x1="1373" y1="2628.7" x2="1383" y2="2628.7" stroke="#333" stroke-width="1.5"/>
<text x="1389" y="2638.3" font-size="32">33.71 μm</text>
<line x1="1373" y1="2659.8" x2="1383" y2="2659.8" stroke="#333" stroke-width="1.5"/>
<text x="1389" y="2669.4" font-size="32">25.28 μm</text>
<line x1="1373" y1="2690.9" x2="1383" y2="2690.9" stroke="#333" stroke-width="1.5"/>
<text x="1389" y="2700.5" font-size="32">16.85 μm</text>
<line x1="1373" y1="2722.0" x2="1383" y2="2722.0" stroke="#333" stroke-width="1.5"/>
<text x="1389" y="2731.6" font-size="32">8.43 μm</text>
<line x1="1373" y1="2753.1" x2="1383" y2="2753.1" stroke="#333" stroke-width="1.5"/>
<text x="1389" y="2762.7" font-size="32">0 μm</text>
</g>
<g id="pJ">
<line x1="1832" y1="2753" x2="1880" y2="2728" stroke="#999" stroke-width="1.5"/>
<clipPath id="cJ"><path d="M1831 2706C1831 2701 1847 2694 1856 2688C1865 2682 1876 2679 1886 2673C1896 2667 1907 2660 1916 2653C1925 2646 1933 2638 1941 2633C1949 2628 1958 2625 1966 2620C1974 2615 1983 2609 1991 2605C1999 2601 2008 2600 2016 2595C2024 2590 2033 2578 2041 2573C2049 2568 2058 2572 2066 2568C2074 2564 2079 2554 2086 2548C2093 2542 2098 2534 2106 2530C2114 2526 2123 2528 2131 2525C2139 2522 2148 2516 2156 2510C2164 2504 2170 2490 2179 2488C2188 2486 2197 2492 2207 2495C2217 2498 2227 2504 2237 2507C2247 2510 2257 2512 2267 2515C2277 2518 2288 2518 2297 2523C2306 2528 2314 2538 2322 2545C2330 2552 2335 2566 2342 2568C2349 2570 2357 2561 2362 2558C2367 2555 2368 2547 2372 2548C2376 2549 2380 2558 2385 2563C2390 2568 2394 2580 2400 2580C2406 2580 2413 2566 2420 2563C2427 2560 2432 2559 2440 2560C2448 2561 2460 2567 2470 2570C2480 2573 2490 2575 2500 2578C2510 2581 2520 2586 2530 2588C2540 2590 2550 2591 2560 2593C2570 2595 2581 2598 2591 2600C2601 2602 2611 2604 2621 2608C2631 2612 2641 2620 2651 2623C2661 2626 2671 2624 2681 2625C2691 2626 2701 2628 2711 2630C2721 2632 2732 2636 2741 2640C2750 2644 2758 2649 2766 2653C2774 2657 2783 2661 2791 2663C2799 2665 2808 2666 2816 2663C2824 2660 2836 2642 2839 2645C2842 2648 2837 2671 2834 2680C2831 2689 2826 2692 2821 2700C2816 2708 2812 2716 2806 2725C2800 2734 2793 2742 2786 2751C2779 2760 2772 2769 2766 2776C2760 2783 2755 2785 2751 2791C2747 2797 2746 2804 2741 2811C2736 2818 2727 2828 2721 2836C2715 2844 2712 2854 2706 2861C2700 2868 2693 2870 2686 2876C2679 2882 2672 2889 2666 2896C2660 2903 2656 2908 2651 2916C2646 2924 2641 2934 2636 2941C2631 2948 2626 2954 2621 2961C2616 2968 2610 2981 2606 2986C2602 2991 2601 2993 2596 2992C2591 2991 2583 2985 2576 2981C2569 2977 2562 2972 2555 2969C2548 2966 2542 2964 2535 2961C2528 2958 2522 2957 2515 2954C2508 2951 2502 2946 2495 2944C2488 2942 2482 2940 2475 2939C2468 2938 2462 2941 2455 2941C2448 2941 2442 2941 2435 2939C2428 2937 2422 2931 2415 2929C2408 2927 2402 2927 2395 2926C2388 2925 2382 2925 2375 2922C2368 2919 2359 2912 2352 2906C2345 2900 2339 2893 2332 2888C2325 2883 2320 2879 2312 2878C2304 2877 2294 2881 2287 2881C2280 2881 2274 2878 2267 2876C2260 2874 2254 2870 2247 2866C2240 2862 2230 2856 2222 2853C2214 2850 2206 2853 2197 2851C2188 2849 2180 2844 2171 2841C2162 2838 2154 2835 2146 2831C2138 2827 2129 2819 2121 2816C2113 2813 2104 2814 2096 2811C2088 2808 2079 2804 2071 2801C2063 2798 2054 2796 2046 2793C2038 2790 2029 2784 2021 2781C2013 2778 2004 2776 1996 2773C1988 2770 1979 2770 1971 2766C1963 2762 1954 2752 1946 2748C1938 2744 1928 2745 1921 2743C1914 2741 1908 2739 1901 2736C1894 2733 1888 2729 1881 2726C1874 2723 1864 2721 1856 2718C1848 2715 1831 2711 1831 2706Z"/></clipPath>
<path d="M1831 2706C1831 2701 1847 2694 1856 2688C1865 2682 1876 2679 1886 2673C1896 2667 1907 2660 1916 2653C1925 2646 1933 2638 1941 2633C1949 2628 1958 2625 1966 2620C1974 2615 1983 2609 1991 2605C1999 2601 2008 2600 2016 2595C2024 2590 2033 2578 2041 2573C2049 2568 2058 2572 2066 2568C2074 2564 2079 2554 2086 2548C2093 2542 2098 2534 2106 2530C2114 2526 2123 2528 2131 2525C2139 2522 2148 2516 2156 2510C2164 2504 2170 2490 2179 2488C2188 2486 2197 2492 2207 2495C2217 2498 2227 2504 2237 2507C2247 2510 2257 2512 2267 2515C2277 2518 2288 2518 2297 2523C2306 2528 2314 2538 2322 2545C2330 2552 2335 2566 2342 2568C2349 2570 2357 2561 2362 2558C2367 2555 2368 2547 2372 2548C2376 2549 2380 2558 2385 2563C2390 2568 2394 2580 2400 2580C2406 2580 2413 2566 2420 2563C2427 2560 2432 2559 2440 2560C2448 2561 2460 2567 2470 2570C2480 2573 2490 2575 2500 2578C2510 2581 2520 2586 2530 2588C2540 2590 2550 2591 2560 2593C2570 2595 2581 2598 2591 2600C2601 2602 2611 2604 2621 2608C2631 2612 2641 2620 2651 2623C2661 2626 2671 2624 2681 2625C2691 2626 2701 2628 2711 2630C2721 2632 2732 2636 2741 2640C2750 2644 2758 2649 2766 2653C2774 2657 2783 2661 2791 2663C2799 2665 2808 2666 2816 2663C2824 2660 2836 2642 2839 2645C2842 2648 2837 2671 2834 2680C2831 2689 2826 2692 2821 2700C2816 2708 2812 2716 2806 2725C2800 2734 2793 2742 2786 2751C2779 2760 2772 2769 2766 2776C2760 2783 2755 2785 2751 2791C2747 2797 2746 2804 2741 2811C2736 2818 2727 2828 2721 2836C2715 2844 2712 2854 2706 2861C2700 2868 2693 2870 2686 2876C2679 2882 2672 2889 2666 2896C2660 2903 2656 2908 2651 2916C2646 2924 2641 2934 2636 2941C2631 2948 2626 2954 2621 2961C2616 2968 2610 2981 2606 2986C2602 2991 2601 2993 2596 2992C2591 2991 2583 2985 2576 2981C2569 2977 2562 2972 2555 2969C2548 2966 2542 2964 2535 2961C2528 2958 2522 2957 2515 2954C2508 2951 2502 2946 2495 2944C2488 2942 2482 2940 2475 2939C2468 2938 2462 2941 2455 2941C2448 2941 2442 2941 2435 2939C2428 2937 2422 2931 2415 2929C2408 2927 2402 2927 2395 2926C2388 2925 2382 2925 2375 2922C2368 2919 2359 2912 2352 2906C2345 2900 2339 2893 2332 2888C2325 2883 2320 2879 2312 2878C2304 2877 2294 2881 2287 2881C2280 2881 2274 2878 2267 2876C2260 2874 2254 2870 2247 2866C2240 2862 2230 2856 2222 2853C2214 2850 2206 2853 2197 2851C2188 2849 2180 2844 2171 2841C2162 2838 2154 2835 2146 2831C2138 2827 2129 2819 2121 2816C2113 2813 2104 2814 2096 2811C2088 2808 2079 2804 2071 2801C2063 2798 2054 2796 2046 2793C2038 2790 2029 2784 2021 2781C2013 2778 2004 2776 1996 2773C1988 2770 1979 2770 1971 2766C1963 2762 1954 2752 1946 2748C1938 2744 1928 2745 1921 2743C1914 2741 1908 2739 1901 2736C1894 2733 1888 2729 1881 2726C1874 2723 1864 2721 1856 2718C1848 2715 1831 2711 1831 2706Z" fill="#3f8a48"/>
<g clip-path="url(#cJ)">
<path d="M1820 2710C1839 2691 1981 2610 2041 2572C2101 2534 2131 2484 2179 2480C2227 2476 2310 2518 2330 2545C2350 2572 2309 2621 2300 2640C2291 2659 2298 2652 2277 2660C2256 2668 2218 2687 2176 2685C2134 2683 2068 2650 2026 2650C1984 2650 1960 2675 1926 2685C1892 2695 1801 2729 1820 2710Z" fill="#748430" filter="url(#b18)"/>
<path d="M2400 2555C2423 2549 2503 2576 2560 2590C2617 2604 2694 2630 2741 2638C2788 2646 2835 2629 2845 2640C2855 2651 2824 2698 2800 2705C2776 2712 2742 2691 2700 2682C2658 2673 2597 2662 2550 2652C2503 2642 2445 2641 2420 2625C2395 2609 2377 2561 2400 2555Z" fill="#6f8430" filter="url(#b14)"/>
<path d="M2075 2558C2084 2547 2154 2492 2179 2482C2204 2472 2204 2491 2227 2498C2250 2505 2303 2519 2315 2526C2327 2533 2312 2540 2297 2542C2282 2544 2247 2539 2227 2538C2207 2537 2193 2532 2176 2534C2159 2536 2143 2546 2126 2550C2109 2554 2066 2569 2075 2558Z" fill="#8a5428" filter="url(#b6)"/>
<ellipse cx="2186" cy="2494" rx="12" ry="8" transform="rotate(20 2186 2494)" fill="#a83030" filter="url(#b3)"/>
<path d="M2330 2765C2380 2755 2446 2748 2500 2740C2554 2732 2601 2727 2651 2720C2701 2713 2785 2684 2800 2700C2815 2716 2771 2770 2741 2815C2711 2860 2687 2953 2620 2970C2553 2987 2400 2933 2340 2915C2280 2897 2283 2879 2260 2860C2237 2841 2188 2816 2200 2800C2212 2784 2280 2775 2330 2765Z" fill="#2f8c70" filter="url(#b18)" opacity="0.9"/>
<ellipse cx="2500" cy="2853" rx="22" ry="11" transform="rotate(0 2500 2853)" fill="#2b5a80" filter="url(#b5)"/>
<ellipse cx="2485" cy="2881" rx="30" ry="12" transform="rotate(0 2485 2881)" fill="#2f6488" filter="url(#b6)"/>
<ellipse cx="2380" cy="2906" rx="26" ry="14" transform="rotate(0 2380 2906)" fill="#2f6488" filter="url(#b6)"/>
<ellipse cx="2450" cy="2921" rx="24" ry="12" transform="rotate(0 2450 2921)" fill="#2f6488" filter="url(#b6)"/>
<ellipse cx="2400" cy="2808" rx="14" ry="8" transform="rotate(0 2400 2808)" fill="#2f7088" filter="url(#b5)"/>
<ellipse cx="2586" cy="2901" rx="10" ry="9" transform="rotate(0 2586 2901)" fill="#2f6488" filter="url(#b4)"/>
<ellipse cx="2367" cy="2906" rx="14" ry="16" transform="rotate(0 2367 2906)" fill="#2b5a80" filter="url(#b5)"/>
<ellipse cx="1916" cy="2726" rx="14" ry="8" transform="rotate(0 1916 2726)" fill="#2f8c78" filter="url(#b5)"/>
<ellipse cx="2141" cy="2751" rx="20" ry="10" transform="rotate(0 2141 2751)" fill="#2f8c78" filter="url(#b6)"/>
<ellipse cx="2212" cy="2806" rx="26" ry="12" transform="rotate(0 2212 2806)" fill="#2f8c78" filter="url(#b6)"/>
</g>
<line x1="1823" y1="2677" x2="2179" y2="2486" stroke="#111" stroke-width="3" stroke-linecap="round"/>
<line x1="2179" y1="2486" x2="2840" y2="2636" stroke="#111" stroke-width="3" stroke-linecap="round"/>
<line x1="2840" y1="2636" x2="2834" y2="2708" stroke="#111" stroke-width="3" stroke-linecap="round"/>
<line x1="2834" y1="2708" x2="2597" y2="3009" stroke="#111" stroke-width="3" stroke-linecap="round"/>
<line x1="2597" y1="3009" x2="1832" y2="2753" stroke="#111" stroke-width="3" stroke-linecap="round"/>
<line x1="1832" y1="2753" x2="1823" y2="2677" stroke="#111" stroke-width="3" stroke-linecap="round"/>
<line x1="1823" y1="2677" x2="2608" y2="2921" stroke="#1f4a3c" stroke-width="2" stroke-linecap="round"/>
<line x1="2608" y1="2921" x2="2840" y2="2636" stroke="#2f5f4c" stroke-width="1.6" stroke-linecap="round"/>
<line x1="2608" y1="2921" x2="2597" y2="3009" stroke="#444" stroke-width="1.5" stroke-linecap="round"/>
<line x1="1888" y1="2753" x2="1888" y2="2771" stroke="#111" stroke-width="2.5" stroke-linecap="round"/>
<line x1="2011" y1="2796" x2="2011" y2="2813" stroke="#111" stroke-width="2.5" stroke-linecap="round"/>
<line x1="2140" y1="2838" x2="2140" y2="2856" stroke="#111" stroke-width="2.5" stroke-linecap="round"/>
<line x1="2278" y1="2886" x2="2278" y2="2904" stroke="#111" stroke-width="2.5" stroke-linecap="round"/>
<line x1="2431" y1="2938" x2="2431" y2="2954" stroke="#111" stroke-width="2.5" stroke-linecap="round"/>
<line x1="2826" y1="2708" x2="2811" y2="2703" stroke="#111" stroke-width="2.5" stroke-linecap="round"/>
<line x1="2804" y1="2738" x2="2791" y2="2733" stroke="#111" stroke-width="2.5" stroke-linecap="round"/>
<line x1="2779" y1="2771" x2="2765" y2="2766" stroke="#111" stroke-width="2.5" stroke-linecap="round"/>
<line x1="2751" y1="2808" x2="2737" y2="2803" stroke="#111" stroke-width="2.5" stroke-linecap="round"/>
<line x1="2721" y1="2848" x2="2707" y2="2844" stroke="#111" stroke-width="2.5" stroke-linecap="round"/>
<line x1="2688" y1="2891" x2="2675" y2="2887" stroke="#111" stroke-width="2.5" stroke-linecap="round"/>
<line x1="2655" y1="2934" x2="2641" y2="2930" stroke="#111" stroke-width="2.5" stroke-linecap="round"/>
<line x1="2616" y1="2983" x2="2603" y2="2979" stroke="#111" stroke-width="2.5" stroke-linecap="round"/>
<text x="1896" y="2563" font-size="52" text-anchor="start">J</text>
<text x="1807" y="2691" font-size="40" text-anchor="end">47.01</text>
<text x="1807" y="2757" font-size="40" text-anchor="end">0</text>
<text x="1878" y="2821" font-size="40" text-anchor="start">0</text>
<text x="1952" y="2869" font-size="40" text-anchor="start">95.51</text>
<text x="2078" y="2918" font-size="40" text-anchor="start">191.02</text>
<text x="2213" y="2965" font-size="40" text-anchor="start">286.53</text>
<text x="2365" y="3013" font-size="40" text-anchor="start">382.04</text>
<text x="2535" y="3071" font-size="40" text-anchor="start">477.56</text>
<text x="2641" y="3019" font-size="40" text-anchor="start">362.18</text>
<text x="2676" y="2965" font-size="40" text-anchor="start">310.44</text>
<text x="2711" y="2920" font-size="40" text-anchor="start">258.70</text>
<text x="2749" y="2876" font-size="40" text-anchor="start">206.96</text>
<text x="2776" y="2838" font-size="40" text-anchor="start">255.22</text>
<text x="2810" y="2800" font-size="40" text-anchor="start">103.48</text>
<text x="2830" y="2763" font-size="40" text-anchor="start">51.74</text>
<text x="2853" y="2726" font-size="40" text-anchor="start">0</text>
<text x="1680" y="2746" font-size="52" text-anchor="middle" transform="rotate(-90 1680 2746)"><tspan class="it">z</tspan>/μm</text>
<text x="2116" y="3026" font-size="52" text-anchor="middle" transform="rotate(17 2116 3026)"><tspan class="it">x</tspan>/μm</text>
<text x="2912" y="2995" font-size="52" text-anchor="middle" transform="rotate(-55 2912 2995)"><tspan class="it">y</tspan>/μm</text>
<rect x="2905" y="2514" width="19" height="176" fill="url(#cb)"/>
<line x1="2921" y1="2534.4" x2="2931" y2="2534.4" stroke="#333" stroke-width="1.5"/>
<text x="2934" y="2544.0" font-size="32">47.01 μm</text>
<line x1="2921" y1="2565.5" x2="2931" y2="2565.5" stroke="#333" stroke-width="1.5"/>
<text x="2934" y="2575.1" font-size="32">37.61 μm</text>
<line x1="2921" y1="2596.6" x2="2931" y2="2596.6" stroke="#333" stroke-width="1.5"/>
<text x="2934" y="2606.2" font-size="32">28.21 μm</text>
<line x1="2921" y1="2627.7" x2="2931" y2="2627.7" stroke="#333" stroke-width="1.5"/>
<text x="2934" y="2637.3" font-size="32">18.81 μm</text>
<line x1="2921" y1="2658.8" x2="2931" y2="2658.8" stroke="#333" stroke-width="1.5"/>
<text x="2934" y="2668.4" font-size="32">9.40 μm</text>
<line x1="2921" y1="2689.9" x2="2931" y2="2689.9" stroke="#333" stroke-width="1.5"/>
<text x="2934" y="2699.5" font-size="32">0 μm</text>
</g>
<g id="pK">
<line x1="292" y1="3412" x2="330" y2="3390" stroke="#999" stroke-width="1.5"/>
<line x1="656" y1="3147" x2="662" y2="3203" stroke="#999" stroke-width="1.5"/>
<clipPath id="cK"><path d="M296 3398C294 3394 305 3375 311 3368C317 3361 324 3361 331 3356C338 3351 343 3341 351 3338C359 3335 373 3339 381 3336C389 3333 394 3323 401 3318C408 3313 418 3307 426 3305C434 3303 444 3310 451 3308C458 3306 459 3294 466 3290C473 3286 485 3287 491 3283C497 3279 495 3272 501 3268C507 3264 518 3262 526 3258C534 3254 543 3249 551 3245C559 3241 568 3237 576 3233C584 3229 592 3226 601 3223C610 3220 618 3216 627 3213C636 3210 644 3205 652 3203C660 3201 669 3200 677 3203C685 3206 694 3214 702 3218C710 3222 719 3223 727 3225C735 3227 744 3230 752 3230C760 3230 768 3228 777 3228C786 3228 797 3231 805 3233C813 3235 818 3236 825 3240C832 3244 838 3251 845 3255C852 3259 862 3264 870 3265C878 3266 886 3261 895 3260C904 3259 916 3256 925 3258C934 3260 942 3266 950 3270C958 3274 963 3276 970 3280C977 3284 982 3292 990 3295C998 3298 1008 3300 1016 3300C1024 3300 1033 3297 1041 3298C1049 3299 1058 3306 1066 3308C1074 3310 1084 3308 1091 3308C1098 3308 1105 3303 1111 3305C1117 3307 1119 3315 1126 3318C1133 3321 1143 3324 1151 3325C1159 3326 1168 3323 1176 3323C1184 3323 1189 3322 1196 3325C1203 3328 1209 3334 1216 3338C1223 3342 1228 3344 1236 3346C1244 3348 1254 3349 1261 3351C1268 3353 1275 3356 1281 3358C1287 3360 1298 3363 1299 3366C1300 3369 1291 3372 1286 3376C1281 3380 1276 3384 1271 3388C1266 3392 1261 3397 1256 3401C1251 3405 1246 3406 1241 3411C1236 3416 1232 3426 1226 3431C1220 3436 1212 3437 1206 3441C1200 3445 1196 3452 1191 3456C1186 3460 1180 3462 1176 3466C1172 3470 1170 3476 1166 3481C1162 3486 1156 3491 1151 3496C1146 3501 1141 3507 1136 3511C1131 3515 1125 3516 1121 3521C1117 3526 1115 3535 1111 3541C1107 3547 1101 3550 1096 3556C1091 3562 1086 3570 1081 3576C1076 3582 1071 3587 1066 3591C1061 3595 1056 3596 1051 3599C1046 3602 1040 3608 1036 3611C1032 3614 1031 3619 1026 3619C1021 3619 1013 3614 1006 3611C999 3608 992 3602 985 3599C978 3596 972 3597 965 3596C958 3595 952 3595 945 3594C938 3593 932 3592 925 3591C918 3590 912 3588 905 3586C898 3584 892 3582 885 3581C878 3580 872 3580 865 3579C858 3578 852 3574 845 3574C838 3574 832 3578 825 3576C818 3574 811 3565 805 3561C799 3557 793 3554 787 3551C781 3548 774 3544 767 3541C760 3538 754 3538 747 3536C740 3534 734 3529 727 3526C720 3523 714 3519 707 3518C700 3517 694 3523 687 3521C680 3519 674 3510 667 3508C660 3506 654 3512 647 3511C640 3510 634 3506 627 3501C620 3496 613 3487 606 3483C599 3479 593 3478 586 3478C579 3478 573 3481 566 3481C559 3481 553 3480 546 3478C539 3476 533 3474 526 3471C519 3468 512 3465 506 3461C500 3457 497 3450 491 3446C485 3442 478 3439 471 3438C464 3437 458 3439 451 3438C444 3437 437 3435 431 3431C425 3427 422 3419 416 3416C410 3413 403 3413 396 3411C389 3409 383 3406 376 3403C369 3400 363 3396 356 3396C349 3396 342 3402 336 3401C330 3400 328 3394 321 3393C314 3392 298 3402 296 3398Z"/></clipPath>
<path d="M296 3398C294 3394 305 3375 311 3368C317 3361 324 3361 331 3356C338 3351 343 3341 351 3338C359 3335 373 3339 381 3336C389 3333 394 3323 401 3318C408 3313 418 3307 426 3305C434 3303 444 3310 451 3308C458 3306 459 3294 466 3290C473 3286 485 3287 491 3283C497 3279 495 3272 501 3268C507 3264 518 3262 526 3258C534 3254 543 3249 551 3245C559 3241 568 3237 576 3233C584 3229 592 3226 601 3223C610 3220 618 3216 627 3213C636 3210 644 3205 652 3203C660 3201 669 3200 677 3203C685 3206 694 3214 702 3218C710 3222 719 3223 727 3225C735 3227 744 3230 752 3230C760 3230 768 3228 777 3228C786 3228 797 3231 805 3233C813 3235 818 3236 825 3240C832 3244 838 3251 845 3255C852 3259 862 3264 870 3265C878 3266 886 3261 895 3260C904 3259 916 3256 925 3258C934 3260 942 3266 950 3270C958 3274 963 3276 970 3280C977 3284 982 3292 990 3295C998 3298 1008 3300 1016 3300C1024 3300 1033 3297 1041 3298C1049 3299 1058 3306 1066 3308C1074 3310 1084 3308 1091 3308C1098 3308 1105 3303 1111 3305C1117 3307 1119 3315 1126 3318C1133 3321 1143 3324 1151 3325C1159 3326 1168 3323 1176 3323C1184 3323 1189 3322 1196 3325C1203 3328 1209 3334 1216 3338C1223 3342 1228 3344 1236 3346C1244 3348 1254 3349 1261 3351C1268 3353 1275 3356 1281 3358C1287 3360 1298 3363 1299 3366C1300 3369 1291 3372 1286 3376C1281 3380 1276 3384 1271 3388C1266 3392 1261 3397 1256 3401C1251 3405 1246 3406 1241 3411C1236 3416 1232 3426 1226 3431C1220 3436 1212 3437 1206 3441C1200 3445 1196 3452 1191 3456C1186 3460 1180 3462 1176 3466C1172 3470 1170 3476 1166 3481C1162 3486 1156 3491 1151 3496C1146 3501 1141 3507 1136 3511C1131 3515 1125 3516 1121 3521C1117 3526 1115 3535 1111 3541C1107 3547 1101 3550 1096 3556C1091 3562 1086 3570 1081 3576C1076 3582 1071 3587 1066 3591C1061 3595 1056 3596 1051 3599C1046 3602 1040 3608 1036 3611C1032 3614 1031 3619 1026 3619C1021 3619 1013 3614 1006 3611C999 3608 992 3602 985 3599C978 3596 972 3597 965 3596C958 3595 952 3595 945 3594C938 3593 932 3592 925 3591C918 3590 912 3588 905 3586C898 3584 892 3582 885 3581C878 3580 872 3580 865 3579C858 3578 852 3574 845 3574C838 3574 832 3578 825 3576C818 3574 811 3565 805 3561C799 3557 793 3554 787 3551C781 3548 774 3544 767 3541C760 3538 754 3538 747 3536C740 3534 734 3529 727 3526C720 3523 714 3519 707 3518C700 3517 694 3523 687 3521C680 3519 674 3510 667 3508C660 3506 654 3512 647 3511C640 3510 634 3506 627 3501C620 3496 613 3487 606 3483C599 3479 593 3478 586 3478C579 3478 573 3481 566 3481C559 3481 553 3480 546 3478C539 3476 533 3474 526 3471C519 3468 512 3465 506 3461C500 3457 497 3450 491 3446C485 3442 478 3439 471 3438C464 3437 458 3439 451 3438C444 3437 437 3435 431 3431C425 3427 422 3419 416 3416C410 3413 403 3413 396 3411C389 3409 383 3406 376 3403C369 3400 363 3396 356 3396C349 3396 342 3402 336 3401C330 3400 328 3394 321 3393C314 3392 298 3402 296 3398Z" fill="#408c4c"/>
<g clip-path="url(#cK)">
<path d="M290 3400C290 3389 355 3342 400 3315C445 3288 518 3259 560 3240C602 3221 610 3201 650 3200C690 3199 758 3222 800 3232C842 3242 887 3249 900 3260C913 3271 903 3295 880 3300C857 3305 800 3293 760 3290C720 3287 680 3275 640 3280C600 3285 560 3303 520 3320C480 3337 438 3367 400 3380C362 3393 290 3411 290 3400Z" fill="#2f8c74" filter="url(#b14)"/>
<path d="M642 3210C646 3203 663 3198 677 3200C691 3202 706 3217 727 3222C748 3227 780 3226 800 3232C820 3238 843 3244 850 3255C857 3266 848 3298 840 3300C832 3302 819 3274 800 3268C781 3262 752 3266 727 3262C702 3258 666 3251 652 3242C638 3233 638 3217 642 3210Z" fill="#2f648a" filter="url(#b8)"/>
<path d="M426 3346C434 3330 505 3326 551 3320C597 3314 652 3308 702 3310C752 3312 800 3322 850 3330C900 3338 958 3348 1000 3360C1042 3372 1100 3380 1100 3400C1100 3420 1037 3457 1000 3480C963 3503 913 3527 880 3540C847 3553 830 3564 800 3560C770 3556 735 3530 702 3515C669 3500 634 3487 601 3470C568 3453 530 3436 501 3415C472 3394 418 3362 426 3346Z" fill="#74862e" filter="url(#b20)" opacity="0.6"/>
<path d="M880 3530C884 3514 934 3492 955 3481C976 3470 985 3473 1006 3461C1027 3449 1060 3420 1081 3410C1102 3400 1113 3399 1131 3404C1149 3409 1187 3424 1190 3440C1193 3456 1164 3481 1151 3498C1138 3515 1129 3524 1111 3543C1093 3562 1056 3601 1041 3615C1026 3629 1030 3628 1020 3625C1010 3622 995 3608 980 3600C965 3592 947 3586 930 3574C913 3562 876 3546 880 3530Z" fill="#7c4c32" filter="url(#b10)"/>
<ellipse cx="1016" cy="3511" rx="42" ry="22" transform="rotate(-20 1016 3511)" fill="#8c3228" filter="url(#b8)"/>
<ellipse cx="1010" cy="3606" rx="22" ry="10" transform="rotate(0 1010 3606)" fill="#8c3228" filter="url(#b5)"/>
<ellipse cx="1046" cy="3561" rx="22" ry="16" transform="rotate(-30 1046 3561)" fill="#808a30" filter="url(#b6)"/>
<ellipse cx="772" cy="3398" rx="14" ry="10" transform="rotate(0 772 3398)" fill="#8a5a30" filter="url(#b4)"/>
<ellipse cx="732" cy="3416" rx="12" ry="8" transform="rotate(0 732 3416)" fill="#8a5a30" filter="url(#b4)"/>
<path d="M990 3300C1003 3291 1065 3303 1100 3308C1135 3313 1167 3319 1200 3328C1233 3337 1293 3350 1300 3364C1307 3378 1258 3403 1240 3415C1222 3427 1208 3438 1190 3435C1172 3432 1149 3405 1131 3400C1113 3395 1100 3412 1081 3405C1062 3398 1035 3378 1020 3360C1005 3342 977 3309 990 3300Z" fill="#4a8c48" filter="url(#b12)"/>
</g>
<line x1="282" y1="3343" x2="656" y2="3147" stroke="#111" stroke-width="3" stroke-linecap="round"/>
<line x1="656" y1="3147" x2="1311" y2="3313" stroke="#111" stroke-width="3" stroke-linecap="round"/>
<line x1="1311" y1="3313" x2="1301" y2="3388" stroke="#111" stroke-width="3" stroke-linecap="round"/>
<line x1="1301" y1="3388" x2="1021" y2="3701" stroke="#111" stroke-width="3" stroke-linecap="round"/>
<line x1="1021" y1="3701" x2="292" y2="3412" stroke="#111" stroke-width="3" stroke-linecap="round"/>
<line x1="292" y1="3412" x2="282" y2="3343" stroke="#111" stroke-width="3" stroke-linecap="round"/>
<line x1="282" y1="3343" x2="1027" y2="3616" stroke="#1f4a3c" stroke-width="2" stroke-linecap="round"/>
<line x1="1027" y1="3616" x2="1311" y2="3313" stroke="#2f5f4c" stroke-width="1.6" stroke-linecap="round"/>
<line x1="1027" y1="3616" x2="1021" y2="3701" stroke="#444" stroke-width="1.5" stroke-linecap="round"/>
<line x1="400" y1="3436" x2="400" y2="3456" stroke="#111" stroke-width="2.5" stroke-linecap="round"/>
<line x1="513" y1="3483" x2="513" y2="3501" stroke="#111" stroke-width="2.5" stroke-linecap="round"/>
<line x1="638" y1="3533" x2="638" y2="3551" stroke="#111" stroke-width="2.5" stroke-linecap="round"/>
<line x1="774" y1="3584" x2="774" y2="3604" stroke="#111" stroke-width="2.5" stroke-linecap="round"/>
<line x1="918" y1="3641" x2="918" y2="3659" stroke="#111" stroke-width="2.5" stroke-linecap="round"/>
<line x1="1274" y1="3411" x2="1264" y2="3406" stroke="#111" stroke-width="2.5" stroke-linecap="round"/>
<line x1="1241" y1="3446" x2="1231" y2="3441" stroke="#111" stroke-width="2.5" stroke-linecap="round"/>
<line x1="1211" y1="3483" x2="1201" y2="3478" stroke="#111" stroke-width="2.5" stroke-linecap="round"/>
<line x1="1178" y1="3518" x2="1168" y2="3513" stroke="#111" stroke-width="2.5" stroke-linecap="round"/>
<line x1="1142" y1="3559" x2="1131" y2="3554" stroke="#111" stroke-width="2.5" stroke-linecap="round"/>
<line x1="1103" y1="3604" x2="1091" y2="3599" stroke="#111" stroke-width="2.5" stroke-linecap="round"/>
<line x1="1061" y1="3649" x2="1051" y2="3644" stroke="#111" stroke-width="2.5" stroke-linecap="round"/>
<text x="319" y="3227" font-size="52" text-anchor="start">K</text>
<text x="260" y="3350" font-size="40" text-anchor="end">25.90</text>
<text x="273" y="3421" font-size="40" text-anchor="end">0</text>
<text x="203" y="3468" font-size="40" text-anchor="start">471.36</text>
<text x="315" y="3515" font-size="40" text-anchor="start">377.09</text>
<text x="423" y="3559" font-size="40" text-anchor="start">282.82</text>
<text x="551" y="3610" font-size="40" text-anchor="start">188.54</text>
<text x="700" y="3667" font-size="40" text-anchor="start">94.27</text>
<text x="913" y="3724" font-size="40" text-anchor="start">0</text>
<text x="1043" y="3738" font-size="40" text-anchor="start">0</text>
<text x="1095" y="3685" font-size="40" text-anchor="start">50.43</text>
<text x="1129" y="3635" font-size="40" text-anchor="start">100.86</text>
<text x="1166" y="3596" font-size="40" text-anchor="start">151.29</text>
<text x="1209" y="3555" font-size="40" text-anchor="start">201.72</text>
<text x="1241" y="3513" font-size="40" text-anchor="start">252.15</text>
<text x="1275" y="3471" font-size="40" text-anchor="start">302.58</text>
<text x="1310" y="3432" font-size="40" text-anchor="start">353.01</text>
<text x="133" y="3403" font-size="52" text-anchor="middle" transform="rotate(-90 133 3403)"><tspan class="it">z</tspan>/μm</text>
<text x="571" y="3689" font-size="52" text-anchor="middle" transform="rotate(19 571 3689)"><tspan class="it">x</tspan>/μm</text>
<text x="1362" y="3653" font-size="52" text-anchor="middle" transform="rotate(-55 1362 3653)"><tspan class="it">y</tspan>/μm</text>
<rect x="1359" y="3145" width="18" height="233" fill="url(#cb)"/>
<line x1="1374" y1="3158.4" x2="1384" y2="3158.4" stroke="#333" stroke-width="1.5"/>
<text x="1389" y="3168.0" font-size="32">25.98 μm</text>
<line x1="1374" y1="3189.6" x2="1384" y2="3189.6" stroke="#333" stroke-width="1.5"/>
<text x="1389" y="3199.2" font-size="32">22.20 μm</text>
<line x1="1374" y1="3220.7" x2="1384" y2="3220.7" stroke="#333" stroke-width="1.5"/>
<text x="1389" y="3230.3" font-size="32">18.50 μm</text>
<line x1="1374" y1="3251.8" x2="1384" y2="3251.8" stroke="#333" stroke-width="1.5"/>
<text x="1389" y="3261.4" font-size="32">14.80 μm</text>
<line x1="1374" y1="3283.0" x2="1384" y2="3283.0" stroke="#333" stroke-width="1.5"/>
<text x="1389" y="3292.6" font-size="32">11.10 μm</text>
<line x1="1374" y1="3314.2" x2="1384" y2="3314.2" stroke="#333" stroke-width="1.5"/>
<text x="1389" y="3323.8" font-size="32">7.40 μm</text>
<line x1="1374" y1="3345.3" x2="1384" y2="3345.3" stroke="#333" stroke-width="1.5"/>
<text x="1389" y="3354.9" font-size="32">3.70 μm</text>
<line x1="1374" y1="3376.5" x2="1384" y2="3376.5" stroke="#333" stroke-width="1.5"/>
<text x="1389" y="3386.1" font-size="32">0 μm</text>
</g>
<g id="pL">
<line x1="1835" y1="3433" x2="1880" y2="3405" stroke="#999" stroke-width="1.5"/>
<clipPath id="cL"><path d="M1836 3401C1837 3396 1853 3391 1861 3388C1869 3385 1878 3386 1886 3381C1894 3376 1903 3366 1911 3361C1919 3356 1929 3354 1936 3348C1943 3342 1944 3331 1951 3325C1958 3319 1968 3315 1976 3310C1984 3305 1993 3298 2001 3293C2009 3288 2018 3284 2026 3278C2034 3272 2044 3266 2051 3260C2058 3254 2064 3250 2071 3245C2078 3240 2088 3235 2096 3230C2104 3225 2114 3220 2121 3215C2128 3210 2134 3203 2141 3200C2148 3197 2158 3198 2166 3195C2174 3192 2185 3189 2191 3185C2197 3181 2198 3175 2202 3170C2206 3165 2208 3155 2212 3155C2216 3155 2221 3165 2227 3168C2233 3171 2240 3171 2247 3175C2254 3179 2260 3192 2267 3193C2274 3194 2284 3184 2292 3183C2300 3182 2310 3186 2317 3190C2324 3194 2330 3202 2337 3208C2344 3214 2351 3222 2357 3225C2363 3228 2368 3226 2375 3228C2382 3230 2392 3235 2400 3235C2408 3235 2417 3227 2425 3228C2433 3229 2442 3239 2450 3240C2458 3241 2467 3234 2475 3233C2483 3232 2492 3231 2500 3233C2508 3235 2513 3239 2520 3245C2527 3251 2532 3265 2540 3270C2548 3275 2556 3274 2565 3275C2574 3276 2583 3276 2591 3275C2599 3274 2604 3268 2611 3270C2618 3272 2624 3281 2631 3285C2638 3289 2648 3292 2656 3293C2664 3294 2674 3290 2681 3290C2688 3290 2694 3292 2701 3295C2708 3298 2714 3305 2721 3308C2728 3311 2738 3312 2746 3315C2754 3318 2763 3326 2771 3328C2779 3330 2788 3328 2796 3330C2804 3332 2813 3339 2821 3340C2829 3341 2840 3339 2846 3338C2852 3337 2858 3330 2859 3333C2860 3336 2854 3348 2851 3356C2848 3364 2845 3374 2841 3381C2837 3388 2831 3397 2826 3401C2821 3405 2816 3403 2811 3406C2806 3409 2801 3415 2796 3421C2791 3427 2785 3434 2781 3441C2777 3448 2774 3458 2771 3466C2768 3474 2765 3485 2761 3486C2757 3487 2750 3470 2746 3471C2742 3472 2740 3484 2736 3491C2732 3498 2726 3504 2721 3511C2716 3518 2711 3525 2706 3531C2701 3537 2696 3541 2691 3546C2686 3551 2681 3554 2676 3561C2671 3568 2665 3577 2661 3586C2657 3595 2654 3608 2651 3616C2648 3624 2645 3634 2641 3636C2637 3638 2631 3630 2626 3631C2621 3632 2616 3636 2611 3641C2606 3646 2601 3657 2596 3661C2591 3665 2586 3660 2581 3666C2576 3672 2571 3689 2566 3696C2561 3703 2558 3709 2553 3709C2548 3709 2541 3698 2535 3696C2529 3694 2522 3695 2515 3696C2508 3697 2501 3706 2495 3704C2489 3702 2486 3692 2480 3686C2474 3680 2467 3670 2460 3666C2453 3662 2447 3661 2440 3659C2433 3657 2427 3657 2420 3656C2413 3655 2407 3652 2400 3651C2393 3650 2387 3652 2380 3649C2373 3646 2364 3636 2357 3636C2350 3636 2344 3652 2337 3649C2330 3646 2320 3626 2312 3621C2304 3616 2299 3618 2292 3616C2285 3614 2279 3616 2272 3611C2265 3606 2259 3592 2252 3586C2245 3580 2239 3576 2232 3574C2225 3572 2219 3578 2212 3576C2205 3574 2198 3566 2191 3561C2184 3556 2178 3549 2171 3546C2164 3543 2158 3544 2151 3541C2144 3538 2138 3531 2131 3526C2124 3521 2118 3513 2111 3511C2104 3509 2098 3517 2091 3516C2084 3515 2078 3508 2071 3506C2064 3504 2058 3506 2051 3506C2044 3506 2038 3508 2031 3506C2024 3504 2018 3497 2011 3491C2004 3485 1998 3474 1991 3471C1984 3468 1977 3478 1971 3476C1965 3474 1962 3464 1956 3461C1950 3458 1943 3460 1936 3456C1929 3452 1923 3441 1916 3438C1909 3435 1903 3439 1896 3436C1889 3433 1883 3424 1876 3421C1869 3418 1863 3419 1856 3416C1849 3413 1835 3406 1836 3401Z"/></clipPath>
<path d="M1836 3401C1837 3396 1853 3391 1861 3388C1869 3385 1878 3386 1886 3381C1894 3376 1903 3366 1911 3361C1919 3356 1929 3354 1936 3348C1943 3342 1944 3331 1951 3325C1958 3319 1968 3315 1976 3310C1984 3305 1993 3298 2001 3293C2009 3288 2018 3284 2026 3278C2034 3272 2044 3266 2051 3260C2058 3254 2064 3250 2071 3245C2078 3240 2088 3235 2096 3230C2104 3225 2114 3220 2121 3215C2128 3210 2134 3203 2141 3200C2148 3197 2158 3198 2166 3195C2174 3192 2185 3189 2191 3185C2197 3181 2198 3175 2202 3170C2206 3165 2208 3155 2212 3155C2216 3155 2221 3165 2227 3168C2233 3171 2240 3171 2247 3175C2254 3179 2260 3192 2267 3193C2274 3194 2284 3184 2292 3183C2300 3182 2310 3186 2317 3190C2324 3194 2330 3202 2337 3208C2344 3214 2351 3222 2357 3225C2363 3228 2368 3226 2375 3228C2382 3230 2392 3235 2400 3235C2408 3235 2417 3227 2425 3228C2433 3229 2442 3239 2450 3240C2458 3241 2467 3234 2475 3233C2483 3232 2492 3231 2500 3233C2508 3235 2513 3239 2520 3245C2527 3251 2532 3265 2540 3270C2548 3275 2556 3274 2565 3275C2574 3276 2583 3276 2591 3275C2599 3274 2604 3268 2611 3270C2618 3272 2624 3281 2631 3285C2638 3289 2648 3292 2656 3293C2664 3294 2674 3290 2681 3290C2688 3290 2694 3292 2701 3295C2708 3298 2714 3305 2721 3308C2728 3311 2738 3312 2746 3315C2754 3318 2763 3326 2771 3328C2779 3330 2788 3328 2796 3330C2804 3332 2813 3339 2821 3340C2829 3341 2840 3339 2846 3338C2852 3337 2858 3330 2859 3333C2860 3336 2854 3348 2851 3356C2848 3364 2845 3374 2841 3381C2837 3388 2831 3397 2826 3401C2821 3405 2816 3403 2811 3406C2806 3409 2801 3415 2796 3421C2791 3427 2785 3434 2781 3441C2777 3448 2774 3458 2771 3466C2768 3474 2765 3485 2761 3486C2757 3487 2750 3470 2746 3471C2742 3472 2740 3484 2736 3491C2732 3498 2726 3504 2721 3511C2716 3518 2711 3525 2706 3531C2701 3537 2696 3541 2691 3546C2686 3551 2681 3554 2676 3561C2671 3568 2665 3577 2661 3586C2657 3595 2654 3608 2651 3616C2648 3624 2645 3634 2641 3636C2637 3638 2631 3630 2626 3631C2621 3632 2616 3636 2611 3641C2606 3646 2601 3657 2596 3661C2591 3665 2586 3660 2581 3666C2576 3672 2571 3689 2566 3696C2561 3703 2558 3709 2553 3709C2548 3709 2541 3698 2535 3696C2529 3694 2522 3695 2515 3696C2508 3697 2501 3706 2495 3704C2489 3702 2486 3692 2480 3686C2474 3680 2467 3670 2460 3666C2453 3662 2447 3661 2440 3659C2433 3657 2427 3657 2420 3656C2413 3655 2407 3652 2400 3651C2393 3650 2387 3652 2380 3649C2373 3646 2364 3636 2357 3636C2350 3636 2344 3652 2337 3649C2330 3646 2320 3626 2312 3621C2304 3616 2299 3618 2292 3616C2285 3614 2279 3616 2272 3611C2265 3606 2259 3592 2252 3586C2245 3580 2239 3576 2232 3574C2225 3572 2219 3578 2212 3576C2205 3574 2198 3566 2191 3561C2184 3556 2178 3549 2171 3546C2164 3543 2158 3544 2151 3541C2144 3538 2138 3531 2131 3526C2124 3521 2118 3513 2111 3511C2104 3509 2098 3517 2091 3516C2084 3515 2078 3508 2071 3506C2064 3504 2058 3506 2051 3506C2044 3506 2038 3508 2031 3506C2024 3504 2018 3497 2011 3491C2004 3485 1998 3474 1991 3471C1984 3468 1977 3478 1971 3476C1965 3474 1962 3464 1956 3461C1950 3458 1943 3460 1936 3456C1929 3452 1923 3441 1916 3438C1909 3435 1903 3439 1896 3436C1889 3433 1883 3424 1876 3421C1869 3418 1863 3419 1856 3416C1849 3413 1835 3406 1836 3401Z" fill="#4a8240"/>
<g clip-path="url(#cL)">
<path d="M2040 3265C2054 3242 2156 3157 2212 3150C2268 3143 2320 3206 2375 3225C2430 3244 2486 3254 2540 3265C2594 3276 2646 3279 2700 3290C2754 3301 2848 3308 2865 3330C2882 3352 2828 3405 2800 3425C2772 3445 2737 3448 2700 3450C2663 3452 2622 3448 2580 3440C2538 3432 2484 3417 2450 3400C2416 3383 2412 3352 2375 3340C2338 3328 2268 3338 2227 3330C2186 3322 2157 3301 2126 3290C2095 3279 2026 3288 2040 3265Z" fill="#6f802c" filter="url(#b18)"/>
<ellipse cx="2297" cy="3190" rx="16" ry="10" transform="rotate(0 2297 3190)" fill="#85502c" filter="url(#b5)"/>
<ellipse cx="2332" cy="3238" rx="18" ry="9" transform="rotate(0 2332 3238)" fill="#85502c" filter="url(#b5)"/>
<ellipse cx="2495" cy="3240" rx="20" ry="8" transform="rotate(10 2495 3240)" fill="#85502c" filter="url(#b5)"/>
<ellipse cx="2676" cy="3300" rx="26" ry="12" transform="rotate(15 2676 3300)" fill="#8a4028" filter="url(#b6)"/>
<ellipse cx="2631" cy="3346" rx="16" ry="20" transform="rotate(0 2631 3346)" fill="#963024" filter="url(#b6)"/>
<ellipse cx="2591" cy="3296" rx="22" ry="10" transform="rotate(0 2591 3296)" fill="#85502c" filter="url(#b6)"/>
<ellipse cx="2600" cy="3360" rx="40" ry="12" transform="rotate(10 2600 3360)" fill="#85502c" filter="url(#b8)" opacity="0.8"/>
<ellipse cx="2846" cy="3346" rx="14" ry="16" transform="rotate(30 2846 3346)" fill="#85502c" filter="url(#b5)"/>
<ellipse cx="2791" cy="3401" rx="10" ry="8" transform="rotate(0 2791 3401)" fill="#85502c" filter="url(#b4)"/>
<path d="M2006 3471C2002 3458 2010 3444 2026 3431C2042 3418 2080 3389 2101 3391C2122 3393 2147 3423 2151 3441C2155 3459 2143 3490 2126 3501C2109 3512 2071 3511 2051 3506C2031 3501 2010 3484 2006 3471Z" fill="#2f8c74" filter="url(#b10)"/>
<ellipse cx="1976" cy="3366" rx="14" ry="8" transform="rotate(0 1976 3366)" fill="#2f8c74" filter="url(#b5)"/>
<path d="M1940 3440C1948 3432 1995 3421 2030 3425C2065 3429 2108 3451 2150 3465C2192 3479 2238 3497 2280 3510C2322 3523 2372 3523 2400 3545C2428 3567 2460 3622 2450 3640C2440 3658 2373 3658 2340 3650C2307 3642 2282 3612 2250 3595C2218 3578 2183 3564 2150 3550C2117 3536 2078 3522 2050 3510C2022 3498 2003 3487 1985 3475C1967 3463 1932 3448 1940 3440Z" fill="#2f8c74" filter="url(#b14)" opacity="0.9"/>
<path d="M2260 3500C2272 3482 2345 3455 2375 3450C2405 3445 2429 3452 2440 3470C2451 3488 2447 3538 2440 3560C2433 3582 2423 3600 2400 3600C2377 3600 2323 3577 2300 3560C2277 3543 2248 3518 2260 3500Z" fill="#2f8c74" filter="url(#b16)" opacity="0.7"/>
<ellipse cx="2277" cy="3551" rx="26" ry="20" transform="rotate(0 2277 3551)" fill="#2f6488" filter="url(#b8)"/>
<ellipse cx="2347" cy="3591" rx="30" ry="22" transform="rotate(0 2347 3591)" fill="#2f6488" filter="url(#b8)"/>
<ellipse cx="2327" cy="3636" rx="16" ry="12" transform="rotate(0 2327 3636)" fill="#2b5a80" filter="url(#b5)"/>
<ellipse cx="2646" cy="3621" rx="9" ry="9" transform="rotate(0 2646 3621)" fill="#2f6488" filter="url(#b4)"/>
<ellipse cx="2601" cy="3611" rx="16" ry="12" transform="rotate(0 2601 3611)" fill="#2f8c74" filter="url(#b5)"/>
</g>
<line x1="1824" y1="3353" x2="2211" y2="3147" stroke="#111" stroke-width="3" stroke-linecap="round"/>
<line x1="2211" y1="3147" x2="2860" y2="3330" stroke="#111" stroke-width="3" stroke-linecap="round"/>
<line x1="2860" y1="3330" x2="2846" y2="3413" stroke="#111" stroke-width="3" stroke-linecap="round"/>
<line x1="2846" y1="3413" x2="2552" y2="3749" stroke="#111" stroke-width="3" stroke-linecap="round"/>
<line x1="2552" y1="3749" x2="1835" y2="3433" stroke="#111" stroke-width="3" stroke-linecap="round"/>
<line x1="1835" y1="3433" x2="1824" y2="3353" stroke="#111" stroke-width="3" stroke-linecap="round"/>
<line x1="1824" y1="3353" x2="2558" y2="3654" stroke="#1f4a3c" stroke-width="2" stroke-linecap="round"/>
<line x1="2558" y1="3654" x2="2860" y2="3330" stroke="#2f5f4c" stroke-width="1.6" stroke-linecap="round"/>
<line x1="2558" y1="3654" x2="2552" y2="3749" stroke="#444" stroke-width="1.5" stroke-linecap="round"/>
<line x1="1896" y1="3441" x2="1896" y2="3461" stroke="#111" stroke-width="2.5" stroke-linecap="round"/>
<line x1="2006" y1="3488" x2="2006" y2="3508" stroke="#111" stroke-width="2.5" stroke-linecap="round"/>
<line x1="2125" y1="3541" x2="2125" y2="3561" stroke="#111" stroke-width="2.5" stroke-linecap="round"/>
<line x1="2256" y1="3599" x2="2256" y2="3616" stroke="#111" stroke-width="2.5" stroke-linecap="round"/>
<line x1="2396" y1="3659" x2="2396" y2="3679" stroke="#111" stroke-width="2.5" stroke-linecap="round"/>
<line x1="2839" y1="3416" x2="2826" y2="3411" stroke="#111" stroke-width="2.5" stroke-linecap="round"/>
<line x1="2811" y1="3451" x2="2798" y2="3446" stroke="#111" stroke-width="2.5" stroke-linecap="round"/>
<line x1="2781" y1="3486" x2="2768" y2="3482" stroke="#111" stroke-width="2.5" stroke-linecap="round"/>
<line x1="2748" y1="3523" x2="2735" y2="3518" stroke="#111" stroke-width="2.5" stroke-linecap="round"/>
<line x1="2711" y1="3566" x2="2698" y2="3561" stroke="#111" stroke-width="2.5" stroke-linecap="round"/>
<line x1="2673" y1="3609" x2="2660" y2="3604" stroke="#111" stroke-width="2.5" stroke-linecap="round"/>
<line x1="2633" y1="3654" x2="2620" y2="3649" stroke="#111" stroke-width="2.5" stroke-linecap="round"/>
<line x1="2591" y1="3704" x2="2576" y2="3701" stroke="#111" stroke-width="2.5" stroke-linecap="round"/>
<line x1="1826" y1="3395" x2="1838" y2="3388" stroke="#111" stroke-width="2" stroke-linecap="round"/>
<text x="1896" y="3227" font-size="52" text-anchor="start">L</text>
<text x="1800" y="3358" font-size="40" text-anchor="end">29.16</text>
<text x="1803" y="3402" font-size="40" text-anchor="end">12.96</text>
<text x="1815" y="3452" font-size="40" text-anchor="end">0</text>
<text x="1886" y="3511" font-size="40" text-anchor="start">0</text>
<text x="1936" y="3569" font-size="40" text-anchor="start">94.89</text>
<text x="2035" y="3619" font-size="40" text-anchor="start">189.77</text>
<text x="2176" y="3681" font-size="40" text-anchor="start">284.66</text>
<text x="2302" y="3734" font-size="40" text-anchor="start">379.54</text>
<text x="2344" y="3783" font-size="40" text-anchor="start">474.43</text>
<text x="2601" y="3752" font-size="40" text-anchor="start">355.16</text>
<text x="2654" y="3692" font-size="40" text-anchor="start">304.12</text>
<text x="2707" y="3640" font-size="40" text-anchor="start">253.69</text>
<text x="2740" y="3597" font-size="40" text-anchor="start">202.95</text>
<text x="2782" y="3555" font-size="40" text-anchor="start">152.51</text>
<text x="2815" y="3515" font-size="40" text-anchor="start">101.47</text>
<text x="2837" y="3476" font-size="40" text-anchor="start">50.74</text>
<text x="2869" y="3433" font-size="40" text-anchor="start">0</text>
<text x="1680" y="3401" font-size="52" text-anchor="middle" transform="rotate(-90 1680 3401)"><tspan class="it">z</tspan>/μm</text>
<text x="1988" y="3679" font-size="52" text-anchor="middle" transform="rotate(20 1988 3679)"><tspan class="it">x</tspan>/μm</text>
<text x="2912" y="3648" font-size="52" text-anchor="middle" transform="rotate(-55 2912 3648)"><tspan class="it">y</tspan>/μm</text>
<rect x="2904" y="3169" width="18" height="147" fill="url(#cb)"/>
<line x1="2919" y1="3184.4" x2="2929" y2="3184.4" stroke="#333" stroke-width="1.5"/>
<text x="2934" y="3194.0" font-size="32">29.16 μm</text>
<line x1="2919" y1="3215.6" x2="2929" y2="3215.6" stroke="#333" stroke-width="1.5"/>
<text x="2934" y="3225.2" font-size="32">22.68 μm</text>
<line x1="2919" y1="3246.8" x2="2929" y2="3246.8" stroke="#333" stroke-width="1.5"/>
<text x="2934" y="3256.4" font-size="32">16.20 μm</text>
<line x1="2919" y1="3278.0" x2="2929" y2="3278.0" stroke="#333" stroke-width="1.5"/>
<text x="2934" y="3287.6" font-size="32">9.72 μm</text>
<line x1="2919" y1="3309.2" x2="2929" y2="3309.2" stroke="#333" stroke-width="1.5"/>
<text x="2934" y="3318.8" font-size="32">0 μm</text>
</g>
<g id="pM">
<line x1="280" y1="4021" x2="330" y2="3995" stroke="#999" stroke-width="1.5"/>
<line x1="620" y1="3783" x2="622" y2="3812" stroke="#999" stroke-width="1.5"/>
<clipPath id="cM"><path d="M283 3976C284 3973 298 3975 306 3970C314 3965 322 3952 331 3948C340 3944 352 3946 361 3943C370 3940 378 3935 386 3930C394 3925 403 3918 411 3915C419 3912 429 3915 436 3913C443 3911 444 3907 451 3905C458 3903 468 3903 476 3900C484 3897 490 3890 496 3885C502 3880 505 3876 511 3873C517 3870 524 3870 531 3868C538 3866 545 3863 551 3860C557 3857 561 3853 566 3850C571 3847 575 3843 581 3840C587 3837 596 3837 601 3833C606 3829 606 3819 611 3815C616 3811 625 3810 632 3810C639 3810 645 3815 652 3818C659 3821 664 3826 672 3828C680 3830 689 3830 697 3830C705 3830 715 3827 722 3830C729 3833 732 3845 737 3850C742 3855 745 3858 752 3858C759 3858 768 3853 777 3853C786 3853 796 3856 805 3858C814 3860 822 3861 830 3865C838 3869 842 3876 850 3880C858 3884 867 3887 875 3888C883 3889 892 3884 900 3885C908 3886 917 3892 925 3895C933 3898 942 3900 950 3903C958 3906 963 3910 970 3910C977 3910 982 3903 990 3903C998 3903 1008 3905 1016 3908C1024 3911 1028 3918 1036 3920C1044 3922 1053 3923 1061 3923C1069 3923 1078 3919 1086 3920C1094 3921 1098 3928 1106 3930C1114 3932 1124 3930 1131 3933C1138 3936 1144 3942 1151 3945C1158 3948 1168 3948 1176 3948C1184 3948 1189 3943 1196 3945C1203 3947 1209 3954 1216 3958C1223 3962 1229 3964 1236 3966C1243 3968 1249 3970 1256 3973C1263 3976 1271 3983 1276 3986C1281 3989 1287 3990 1287 3993C1287 3996 1280 4003 1276 4006C1272 4009 1265 4009 1261 4013C1257 4017 1254 4025 1251 4031C1248 4037 1245 4046 1241 4051C1237 4056 1230 4057 1226 4061C1222 4065 1219 4069 1216 4073C1213 4077 1209 4081 1206 4086C1203 4091 1200 4096 1196 4101C1192 4106 1186 4109 1181 4113C1176 4117 1170 4121 1166 4126C1162 4131 1160 4136 1156 4141C1152 4146 1145 4151 1141 4156C1137 4161 1135 4166 1131 4171C1127 4176 1121 4181 1116 4186C1111 4191 1105 4196 1101 4201C1097 4206 1094 4210 1091 4214C1088 4218 1085 4222 1081 4222C1077 4222 1072 4216 1066 4214C1060 4212 1053 4211 1046 4209C1039 4207 1033 4203 1026 4201C1019 4199 1012 4196 1006 4196C1000 4196 995 4204 990 4204C985 4204 980 4203 975 4199C970 4195 966 4186 960 4181C954 4176 947 4174 940 4171C933 4168 927 4168 920 4166C913 4164 907 4163 900 4161C893 4159 887 4155 880 4153C873 4151 867 4153 860 4151C853 4149 847 4145 840 4141C833 4137 827 4132 820 4128C813 4124 806 4118 800 4114C794 4110 792 4104 787 4101C782 4098 774 4098 767 4098C760 4098 754 4099 747 4101C740 4103 733 4105 727 4108C721 4111 717 4118 712 4121C707 4124 703 4130 697 4128C691 4126 684 4117 677 4111C670 4105 664 4096 657 4091C650 4086 643 4086 637 4081C631 4076 628 4065 622 4061C616 4057 608 4056 601 4056C594 4056 588 4057 581 4058C574 4059 568 4060 561 4061C554 4062 548 4062 541 4061C534 4060 528 4055 521 4053C514 4051 508 4049 501 4048C494 4047 487 4044 481 4046C475 4048 471 4058 466 4061C461 4064 457 4068 451 4066C445 4064 437 4052 431 4046C425 4040 421 4033 416 4028C411 4023 407 4021 401 4018C395 4015 388 4009 381 4008C374 4007 368 4013 361 4011C354 4009 348 3999 341 3996C334 3993 328 3993 321 3991C314 3989 307 3988 301 3986C295 3984 282 3979 283 3976Z"/></clipPath>
<path d="M283 3976C284 3973 298 3975 306 3970C314 3965 322 3952 331 3948C340 3944 352 3946 361 3943C370 3940 378 3935 386 3930C394 3925 403 3918 411 3915C419 3912 429 3915 436 3913C443 3911 444 3907 451 3905C458 3903 468 3903 476 3900C484 3897 490 3890 496 3885C502 3880 505 3876 511 3873C517 3870 524 3870 531 3868C538 3866 545 3863 551 3860C557 3857 561 3853 566 3850C571 3847 575 3843 581 3840C587 3837 596 3837 601 3833C606 3829 606 3819 611 3815C616 3811 625 3810 632 3810C639 3810 645 3815 652 3818C659 3821 664 3826 672 3828C680 3830 689 3830 697 3830C705 3830 715 3827 722 3830C729 3833 732 3845 737 3850C742 3855 745 3858 752 3858C759 3858 768 3853 777 3853C786 3853 796 3856 805 3858C814 3860 822 3861 830 3865C838 3869 842 3876 850 3880C858 3884 867 3887 875 3888C883 3889 892 3884 900 3885C908 3886 917 3892 925 3895C933 3898 942 3900 950 3903C958 3906 963 3910 970 3910C977 3910 982 3903 990 3903C998 3903 1008 3905 1016 3908C1024 3911 1028 3918 1036 3920C1044 3922 1053 3923 1061 3923C1069 3923 1078 3919 1086 3920C1094 3921 1098 3928 1106 3930C1114 3932 1124 3930 1131 3933C1138 3936 1144 3942 1151 3945C1158 3948 1168 3948 1176 3948C1184 3948 1189 3943 1196 3945C1203 3947 1209 3954 1216 3958C1223 3962 1229 3964 1236 3966C1243 3968 1249 3970 1256 3973C1263 3976 1271 3983 1276 3986C1281 3989 1287 3990 1287 3993C1287 3996 1280 4003 1276 4006C1272 4009 1265 4009 1261 4013C1257 4017 1254 4025 1251 4031C1248 4037 1245 4046 1241 4051C1237 4056 1230 4057 1226 4061C1222 4065 1219 4069 1216 4073C1213 4077 1209 4081 1206 4086C1203 4091 1200 4096 1196 4101C1192 4106 1186 4109 1181 4113C1176 4117 1170 4121 1166 4126C1162 4131 1160 4136 1156 4141C1152 4146 1145 4151 1141 4156C1137 4161 1135 4166 1131 4171C1127 4176 1121 4181 1116 4186C1111 4191 1105 4196 1101 4201C1097 4206 1094 4210 1091 4214C1088 4218 1085 4222 1081 4222C1077 4222 1072 4216 1066 4214C1060 4212 1053 4211 1046 4209C1039 4207 1033 4203 1026 4201C1019 4199 1012 4196 1006 4196C1000 4196 995 4204 990 4204C985 4204 980 4203 975 4199C970 4195 966 4186 960 4181C954 4176 947 4174 940 4171C933 4168 927 4168 920 4166C913 4164 907 4163 900 4161C893 4159 887 4155 880 4153C873 4151 867 4153 860 4151C853 4149 847 4145 840 4141C833 4137 827 4132 820 4128C813 4124 806 4118 800 4114C794 4110 792 4104 787 4101C782 4098 774 4098 767 4098C760 4098 754 4099 747 4101C740 4103 733 4105 727 4108C721 4111 717 4118 712 4121C707 4124 703 4130 697 4128C691 4126 684 4117 677 4111C670 4105 664 4096 657 4091C650 4086 643 4086 637 4081C631 4076 628 4065 622 4061C616 4057 608 4056 601 4056C594 4056 588 4057 581 4058C574 4059 568 4060 561 4061C554 4062 548 4062 541 4061C534 4060 528 4055 521 4053C514 4051 508 4049 501 4048C494 4047 487 4044 481 4046C475 4048 471 4058 466 4061C461 4064 457 4068 451 4066C445 4064 437 4052 431 4046C425 4040 421 4033 416 4028C411 4023 407 4021 401 4018C395 4015 388 4009 381 4008C374 4007 368 4013 361 4011C354 4009 348 3999 341 3996C334 3993 328 3993 321 3991C314 3989 307 3988 301 3986C295 3984 282 3979 283 3976Z" fill="#3f8c4c"/>
<g clip-path="url(#cM)">
<path d="M290 3980C290 3972 328 3953 351 3944C374 3935 412 3923 426 3928C440 3933 437 3962 433 3976C429 3990 415 4009 401 4012C387 4015 370 3997 351 3992C332 3987 290 3988 290 3980Z" fill="#768630" filter="url(#b10)"/>
<path d="M490 3890C500 3881 537 3864 560 3850C583 3836 600 3806 630 3805C660 3804 702 3832 740 3845C778 3858 842 3869 860 3880C878 3891 867 3908 850 3910C833 3912 793 3896 760 3895C727 3894 684 3902 651 3905C618 3908 585 3915 560 3915C535 3915 513 3909 501 3905C489 3901 480 3899 490 3890Z" fill="#2f8c74" filter="url(#b12)"/>
<ellipse cx="566" cy="3900" rx="12" ry="10" transform="rotate(0 566 3900)" fill="#2f6488" filter="url(#b4)"/>
<ellipse cx="451" cy="4052" rx="16" ry="14" transform="rotate(0 451 4052)" fill="#2f7088" filter="url(#b6)"/>
<path d="M601 4064C601 4047 626 4007 651 3990C676 3973 706 3967 752 3964C798 3961 878 3971 930 3974C982 3977 1039 3969 1061 3980C1083 3991 1076 4018 1063 4042C1050 4066 1002 4103 980 4122C958 4141 955 4152 930 4155C905 4158 864 4145 830 4138C796 4131 757 4119 727 4112C697 4105 673 4102 652 4094C631 4086 601 4081 601 4064Z" fill="#768630" filter="url(#b18)" opacity="0.8"/>
<path d="M765 4022C775 4018 807 4017 824 4018C841 4019 855 4024 868 4028C881 4032 901 4036 900 4040C899 4044 872 4046 860 4050C848 4054 834 4053 825 4062C816 4071 815 4098 808 4105C801 4112 787 4112 782 4105C777 4098 783 4070 780 4060C777 4050 764 4050 762 4044C760 4038 755 4026 765 4022Z" fill="#7f4a30" filter="url(#b6)"/>
<ellipse cx="948" cy="4054" rx="30" ry="6" transform="rotate(12 948 4054)" fill="#8a4a30" filter="url(#b4)"/>
<path d="M771 4020C780 4017 810 4020 824 4022C838 4024 856 4027 858 4030C860 4033 846 4038 838 4042C830 4046 819 4046 813 4056C807 4066 806 4093 802 4100C798 4107 789 4107 787 4100C785 4093 793 4066 790 4056C787 4046 772 4047 769 4041C766 4035 762 4023 771 4020Z" fill="#8c3028" filter="url(#b4)"/>
<path d="M1081 4061C1106 4041 1196 3992 1231 3980C1266 3968 1287 3984 1290 3992C1293 4000 1267 4013 1251 4031C1235 4049 1216 4082 1196 4101C1176 4120 1150 4145 1131 4145C1112 4145 1089 4115 1081 4101C1073 4087 1056 4081 1081 4061Z" fill="#2f8c74" filter="url(#b14)"/>
</g>
<line x1="276" y1="3950" x2="620" y2="3783" stroke="#111" stroke-width="3" stroke-linecap="round"/>
<line x1="620" y1="3783" x2="1295" y2="3929" stroke="#111" stroke-width="3" stroke-linecap="round"/>
<line x1="1295" y1="3929" x2="1287" y2="3993" stroke="#111" stroke-width="3" stroke-linecap="round"/>
<line x1="1287" y1="3993" x2="1079" y2="4269" stroke="#111" stroke-width="3" stroke-linecap="round"/>
<line x1="1079" y1="4269" x2="280" y2="4021" stroke="#111" stroke-width="3" stroke-linecap="round"/>
<line x1="280" y1="4021" x2="276" y2="3950" stroke="#111" stroke-width="3" stroke-linecap="round"/>
<line x1="276" y1="3950" x2="1087" y2="4189" stroke="#1f4a3c" stroke-width="2" stroke-linecap="round"/>
<line x1="1087" y1="4189" x2="1295" y2="3929" stroke="#2f5f4c" stroke-width="1.6" stroke-linecap="round"/>
<line x1="1087" y1="4189" x2="1079" y2="4269" stroke="#555" stroke-width="1.5" stroke-linecap="round"/>
<line x1="368" y1="4031" x2="368" y2="4048" stroke="#111" stroke-width="2.5" stroke-linecap="round"/>
<line x1="491" y1="4068" x2="491" y2="4086" stroke="#111" stroke-width="2.5" stroke-linecap="round"/>
<line x1="623" y1="4113" x2="623" y2="4129" stroke="#111" stroke-width="2.5" stroke-linecap="round"/>
<line x1="765" y1="4153" x2="765" y2="4171" stroke="#111" stroke-width="2.5" stroke-linecap="round"/>
<line x1="916" y1="4201" x2="916" y2="4219" stroke="#111" stroke-width="2.5" stroke-linecap="round"/>
<line x1="1276" y1="3996" x2="1263" y2="3991" stroke="#111" stroke-width="2.5" stroke-linecap="round"/>
<line x1="1251" y1="4028" x2="1241" y2="4023" stroke="#111" stroke-width="2.5" stroke-linecap="round"/>
<line x1="1224" y1="4066" x2="1211" y2="4061" stroke="#111" stroke-width="2.5" stroke-linecap="round"/>
<line x1="1196" y1="4101" x2="1183" y2="4097" stroke="#111" stroke-width="2.5" stroke-linecap="round"/>
<line x1="1166" y1="4141" x2="1153" y2="4136" stroke="#111" stroke-width="2.5" stroke-linecap="round"/>
<line x1="1133" y1="4181" x2="1121" y2="4176" stroke="#111" stroke-width="2.5" stroke-linecap="round"/>
<line x1="1101" y1="4224" x2="1088" y2="4220" stroke="#111" stroke-width="2.5" stroke-linecap="round"/>
<text x="318" y="3837" font-size="52" text-anchor="start">M</text>
<text x="256" y="3954" font-size="40" text-anchor="end">17.74</text>
<text x="260" y="4023" font-size="40" text-anchor="end">0</text>
<text x="355" y="4098" font-size="40" text-anchor="start">0</text>
<text x="431" y="4145" font-size="40" text-anchor="start">93.27</text>
<text x="547" y="4186" font-size="40" text-anchor="start">186.53</text>
<text x="689" y="4235" font-size="40" text-anchor="start">279.80</text>
<text x="840" y="4280" font-size="40" text-anchor="start">373.07</text>
<text x="1013" y="4334" font-size="40" text-anchor="start">466.33</text>
<text x="1122" y="4283" font-size="40" text-anchor="start">355.48</text>
<text x="1152" y="4243" font-size="40" text-anchor="start">304.70</text>
<text x="1184" y="4202" font-size="40" text-anchor="start">253.91</text>
<text x="1221" y="4163" font-size="40" text-anchor="start">203.13</text>
<text x="1249" y="4122" font-size="40" text-anchor="start">152.35</text>
<text x="1266" y="4087" font-size="40" text-anchor="start">101.57</text>
<text x="1296" y="4049" font-size="40" text-anchor="start">50.78</text>
<text x="1313" y="4011" font-size="40" text-anchor="start">0</text>
<text x="133" y="3986" font-size="52" text-anchor="middle" transform="rotate(-90 133 3986)"><tspan class="it">z</tspan>/μm</text>
<text x="571" y="4269" font-size="52" text-anchor="middle" transform="rotate(18 571 4269)"><tspan class="it">x</tspan>/μm</text>
<text x="1362" y="4235" font-size="52" text-anchor="middle" transform="rotate(-55 1362 4235)"><tspan class="it">y</tspan>/μm</text>
<rect x="1361" y="3730" width="18" height="257" fill="url(#cb)"/>
<line x1="1376" y1="3758.4" x2="1386" y2="3758.4" stroke="#333" stroke-width="1.5"/>
<text x="1394" y="3768.0" font-size="32">17.74 μm</text>
<line x1="1376" y1="3789.7" x2="1386" y2="3789.7" stroke="#333" stroke-width="1.5"/>
<text x="1394" y="3799.3" font-size="32">15.20 μm</text>
<line x1="1376" y1="3821.0" x2="1386" y2="3821.0" stroke="#333" stroke-width="1.5"/>
<text x="1394" y="3830.6" font-size="32">12.67 μm</text>
<line x1="1376" y1="3852.3" x2="1386" y2="3852.3" stroke="#333" stroke-width="1.5"/>
<text x="1394" y="3861.9" font-size="32">10.14 μm</text>
<line x1="1376" y1="3883.6" x2="1386" y2="3883.6" stroke="#333" stroke-width="1.5"/>
<text x="1394" y="3893.2" font-size="32">17.60 μm</text>
<line x1="1376" y1="3914.9" x2="1386" y2="3914.9" stroke="#333" stroke-width="1.5"/>
<text x="1394" y="3924.5" font-size="32">5.07 μm</text>
<line x1="1376" y1="3946.2" x2="1386" y2="3946.2" stroke="#333" stroke-width="1.5"/>
<text x="1394" y="3955.8" font-size="32">2.53 μm</text>
<line x1="1376" y1="3977.5" x2="1386" y2="3977.5" stroke="#333" stroke-width="1.5"/>
<text x="1394" y="3987.1" font-size="32">0 μm</text>
</g>
<g font-size="54" fill="#1a1a1a" font-family="'Liberation Serif','Noto Serif CJK SC',serif">
<text x="3.0" y="4403">A</text>
<text x="43.2" y="4403">.</text>
<text x="73.2" y="4405" letter-spacing="1.25">八角金盘；</text>
<text x="349.0" y="4403">B</text>
<text x="386.3" y="4403">.</text>
<text x="416.3" y="4405" letter-spacing="1.25">珊瑚树；</text>
<text x="636.8" y="4403">C</text>
<text x="674.0" y="4403">.</text>
<text x="704.0" y="4405" letter-spacing="1.25">洒金桃叶珊瑚；</text>
<text x="1090.3" y="4403">D</text>
<text x="1130.5" y="4403">.</text>
<text x="1160.5" y="4405" letter-spacing="1.25">夹竹桃；</text>
<text x="1381.0" y="4403">E</text>
<text x="1415.2" y="4403">.</text>
<text x="1445.2" y="4405" letter-spacing="1.25">海桐；</text>
<text x="1610.5" y="4403">F</text>
<text x="1641.8" y="4403">.</text>
<text x="1671.8" y="4405" letter-spacing="1.25">石楠；</text>
<text x="1837.0" y="4403">G</text>
<text x="1877.3" y="4403">.</text>
<text x="1907.3" y="4405" letter-spacing="1.25">蚊母树；</text>
<text x="2127.8" y="4403">H</text>
<text x="2168.0" y="4403">.</text>
<text x="2198.0" y="4405" letter-spacing="1.25">十大功劳；</text>
<text x="2473.8" y="4403">I</text>
<text x="2493.0" y="4403">.</text>
<text x="2523.0" y="4405" letter-spacing="1.25">枸骨；</text>
<text x="2688.2" y="4403">J</text>
<text x="2710.5" y="4403">.</text>
<text x="2740.5" y="4405" letter-spacing="1.25">金森女贞；</text>
<text x="3016.3" y="4403">K</text>
<text x="3056.5" y="4403">.</text>
<text x="3086.5" y="4405">大</text>
<text x="3.5" y="4474" letter-spacing="1.3">叶黄杨；</text>
<text x="224.4" y="4472">L</text>
<text x="258.7" y="4472">.</text>
<text x="288.9" y="4474" letter-spacing="1.3">火棘；</text>
<text x="454.4" y="4472">M</text>
<text x="503.8" y="4472">.</text>
<text x="533.9" y="4474" letter-spacing="1.3">南天竹。</text>
<text x="754.8" y="4472" class="it">x</text>
<text x="780.6" y="4474">、</text>
<text x="835.5" y="4472" class="it">y</text>
<text x="876.1" y="4474" letter-spacing="1.34">轴为叶片拍摄范围大小，右侧刻度值表示</text>
<text x="1886.6" y="4472" class="it">z</text>
<text x="1924.3" y="4474" letter-spacing="1.34">轴叶片表面的起伏高度，粗糙度为整个叶片拍摄范</text>
<text x="3.5" y="4540">围内的平均起伏。</text>
</g>
</svg></body></html>
